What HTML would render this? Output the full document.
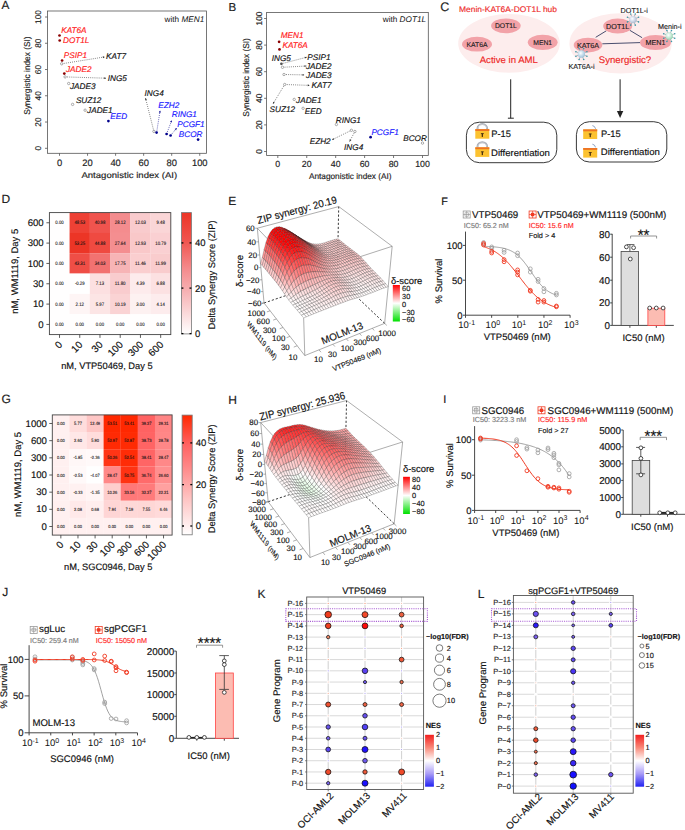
<!DOCTYPE html>
<html><head><meta charset="utf-8"><style>
html,body{margin:0;padding:0;background:#fff;}
svg{display:block;}
text{font-family:"Liberation Sans", sans-serif;text-rendering:geometricPrecision;}
</style></head><body>
<svg width="685" height="830" viewBox="0 0 685 830">
<rect width="685" height="830" fill="#fff"/>
<text x="1.6" y="8.9" font-size="11.8" text-anchor="start" fill="#222" stroke="#222" stroke-width="0.16">A</text>
<rect x="47.5" y="11" width="159" height="142.3" fill="none" stroke="#555" stroke-width="0.8"/>
<line x1="45" y1="148.3" x2="47.5" y2="148.3" stroke="#555" stroke-width="0.8"/>
<text transform="translate(41.4,148.3) rotate(-90)" font-size="8.3" text-anchor="middle" fill="#222" stroke="#222" stroke-width="0.149">0</text>
<line x1="59.5" y1="153.3" x2="59.5" y2="155.8" stroke="#555" stroke-width="0.8"/>
<text x="59.5" y="166.2" font-size="9.4" text-anchor="middle" fill="#222" stroke="#222" stroke-width="0.16">0</text>
<line x1="45" y1="122.04" x2="47.5" y2="122.04" stroke="#555" stroke-width="0.8"/>
<text transform="translate(41.4,122.04) rotate(-90)" font-size="8.3" text-anchor="middle" fill="#222" stroke="#222" stroke-width="0.149">20</text>
<line x1="87.55" y1="153.3" x2="87.55" y2="155.8" stroke="#555" stroke-width="0.8"/>
<text x="87.55" y="166.2" font-size="9.4" text-anchor="middle" fill="#222" stroke="#222" stroke-width="0.16">20</text>
<line x1="45" y1="95.78" x2="47.5" y2="95.78" stroke="#555" stroke-width="0.8"/>
<text transform="translate(41.4,95.78) rotate(-90)" font-size="8.3" text-anchor="middle" fill="#222" stroke="#222" stroke-width="0.149">40</text>
<line x1="115.6" y1="153.3" x2="115.6" y2="155.8" stroke="#555" stroke-width="0.8"/>
<text x="115.6" y="166.2" font-size="9.4" text-anchor="middle" fill="#222" stroke="#222" stroke-width="0.16">40</text>
<line x1="45" y1="69.52" x2="47.5" y2="69.52" stroke="#555" stroke-width="0.8"/>
<text transform="translate(41.4,69.52) rotate(-90)" font-size="8.3" text-anchor="middle" fill="#222" stroke="#222" stroke-width="0.149">60</text>
<line x1="143.65" y1="153.3" x2="143.65" y2="155.8" stroke="#555" stroke-width="0.8"/>
<text x="143.65" y="166.2" font-size="9.4" text-anchor="middle" fill="#222" stroke="#222" stroke-width="0.16">60</text>
<line x1="45" y1="43.26" x2="47.5" y2="43.26" stroke="#555" stroke-width="0.8"/>
<text transform="translate(41.4,43.26) rotate(-90)" font-size="8.3" text-anchor="middle" fill="#222" stroke="#222" stroke-width="0.149">80</text>
<line x1="171.7" y1="153.3" x2="171.7" y2="155.8" stroke="#555" stroke-width="0.8"/>
<text x="171.7" y="166.2" font-size="9.4" text-anchor="middle" fill="#222" stroke="#222" stroke-width="0.16">80</text>
<line x1="45" y1="17" x2="47.5" y2="17" stroke="#555" stroke-width="0.8"/>
<text transform="translate(41.4,17) rotate(-90)" font-size="8.3" text-anchor="middle" fill="#222" stroke="#222" stroke-width="0.149">100</text>
<line x1="199.75" y1="153.3" x2="199.75" y2="155.8" stroke="#555" stroke-width="0.8"/>
<text x="199.75" y="166.2" font-size="9.4" text-anchor="middle" fill="#222" stroke="#222" stroke-width="0.16">100</text>
<text x="129.3" y="178.4" font-size="8.4" text-anchor="middle" fill="#222" stroke="#222" stroke-width="0.151" textLength="95.8" lengthAdjust="spacingAndGlyphs">Antagonistic index (AI)</text>
<text transform="translate(29.5,75.65) rotate(-90)" font-size="8.5" text-anchor="middle" fill="#222" stroke="#222" stroke-width="0.153" textLength="78.4" lengthAdjust="spacingAndGlyphs">Synergistic index (SI)</text>
<text x="204.2" y="22.2" font-size="8.2" text-anchor="end" fill="#111">with <tspan font-style="italic">MEN1</tspan></text>
<line x1="61.7" y1="63.8" x2="104.8" y2="56.9" stroke="#333" stroke-width="0.65" stroke-dasharray="0.9,1.2"/>
<path d="M104.8,56.9 L102.995,58.158 L102.693,56.268 Z" fill="#333" stroke="none" stroke-width="1"/>
<line x1="65.1" y1="76.9" x2="106.1" y2="78.2" stroke="#333" stroke-width="0.65" stroke-dasharray="0.9,1.2"/>
<path d="M106.1,78.2 L104.09,79.094 L104.15,77.181 Z" fill="#333" stroke="none" stroke-width="1"/>
<line x1="153.9" y1="131.4" x2="145.5" y2="98.1" stroke="#333" stroke-width="0.65" stroke-dasharray="0.9,1.2"/>
<path d="M145.5,98.1 L146.912,99.787 L145.057,100.255 Z" fill="#333" stroke="none" stroke-width="1"/>
<line x1="156.6" y1="132.6" x2="160.1" y2="110.6" stroke="#00008b" stroke-width="0.65" stroke-dasharray="0.9,1.2"/>
<path d="M160.1,110.6 L160.734,112.707 L158.844,112.406 Z" fill="#00008b" stroke="none" stroke-width="1"/>
<line x1="166.6" y1="134" x2="171.7" y2="120.3" stroke="#00008b" stroke-width="0.65" stroke-dasharray="0.9,1.2"/>
<path d="M171.7,120.3 L171.906,122.49 L170.112,121.823 Z" fill="#00008b" stroke="none" stroke-width="1"/>
<line x1="170.6" y1="135.5" x2="176.7" y2="128.1" stroke="#00008b" stroke-width="0.65" stroke-dasharray="0.9,1.2"/>
<path d="M176.7,128.1 L176.178,130.237 L174.702,129.02 Z" fill="#00008b" stroke="none" stroke-width="1"/>
<circle cx="59.5" cy="35.5" r="1.35" fill="#8b0000" stroke="none" stroke-width="1"/>
<circle cx="59.7" cy="40.5" r="1.35" fill="#8b0000" stroke="none" stroke-width="1"/>
<circle cx="62.1" cy="60.5" r="1.35" fill="#8b0000" stroke="none" stroke-width="1"/>
<circle cx="61.7" cy="63.8" r="1.2" fill="#fff" stroke="#777" stroke-width="0.6"/>
<circle cx="64.3" cy="73.6" r="1.35" fill="#8b0000" stroke="none" stroke-width="1"/>
<circle cx="65.1" cy="76.9" r="1.2" fill="#fff" stroke="#777" stroke-width="0.6"/>
<circle cx="68.7" cy="83.5" r="1.2" fill="#fff" stroke="#777" stroke-width="0.6"/>
<circle cx="72.6" cy="104.4" r="1.2" fill="#fff" stroke="#777" stroke-width="0.6"/>
<circle cx="85.1" cy="110.2" r="1.2" fill="#fff" stroke="#777" stroke-width="0.6"/>
<circle cx="108.4" cy="121.1" r="1.35" fill="#00008b" stroke="none" stroke-width="1"/>
<circle cx="153.9" cy="131.4" r="1.2" fill="#fff" stroke="#777" stroke-width="0.6"/>
<circle cx="156.6" cy="132.6" r="1.35" fill="#00008b" stroke="none" stroke-width="1"/>
<circle cx="166.6" cy="134" r="1.35" fill="#00008b" stroke="none" stroke-width="1"/>
<circle cx="170.6" cy="135.5" r="1.35" fill="#00008b" stroke="none" stroke-width="1"/>
<circle cx="198.1" cy="139.6" r="1.35" fill="#00008b" stroke="none" stroke-width="1"/>
<text x="61.2" y="32.9" font-size="8.2" text-anchor="start" fill="#ff1a1a" stroke="#ff1a1a" stroke-width="0.148" font-style="italic">KAT6A</text>
<text x="63" y="42.7" font-size="8.2" text-anchor="start" fill="#ff1a1a" stroke="#ff1a1a" stroke-width="0.148" font-style="italic">DOT1L</text>
<text x="63.8" y="57.6" font-size="8.2" text-anchor="start" fill="#ff1a1a" stroke="#ff1a1a" stroke-width="0.148" font-style="italic">PSIP1</text>
<text x="106.1" y="59.4" font-size="8.2" text-anchor="start" fill="#111" stroke="#111" stroke-width="0.148" font-style="italic">KAT7</text>
<text x="66" y="72" font-size="8.2" text-anchor="start" fill="#ff1a1a" stroke="#ff1a1a" stroke-width="0.148" font-style="italic">JADE2</text>
<text x="107.7" y="80.8" font-size="8.2" text-anchor="start" fill="#111" stroke="#111" stroke-width="0.148" font-style="italic">ING5</text>
<text x="70" y="88.7" font-size="8.2" text-anchor="start" fill="#111" stroke="#111" stroke-width="0.148" font-style="italic">JADE3</text>
<text x="75.9" y="103.4" font-size="8.2" text-anchor="start" fill="#111" stroke="#111" stroke-width="0.148" font-style="italic">SUZ12</text>
<text x="87.1" y="112.6" font-size="8.2" text-anchor="start" fill="#111" stroke="#111" stroke-width="0.148" font-style="italic">JADE1</text>
<text x="110.3" y="119.4" font-size="8.2" text-anchor="start" fill="#1a1aff" stroke="#1a1aff" stroke-width="0.148" font-style="italic">EED</text>
<text x="144.6" y="96.4" font-size="8.2" text-anchor="start" fill="#111" stroke="#111" stroke-width="0.148" font-style="italic">ING4</text>
<text x="158.3" y="107.7" font-size="8.2" text-anchor="start" fill="#1a1aff" stroke="#1a1aff" stroke-width="0.148" font-style="italic">EZH2</text>
<text x="171.8" y="117.4" font-size="8.2" text-anchor="start" fill="#1a1aff" stroke="#1a1aff" stroke-width="0.148" font-style="italic">RING1</text>
<text x="177.3" y="126.5" font-size="8.2" text-anchor="start" fill="#1a1aff" stroke="#1a1aff" stroke-width="0.148" font-style="italic">PCGF1</text>
<text x="178.8" y="137.2" font-size="8.2" text-anchor="start" fill="#1a1aff" stroke="#1a1aff" stroke-width="0.148" font-style="italic">BCOR</text>
<text x="228.4" y="10.9" font-size="11.6" text-anchor="start" fill="#222" stroke="#222" stroke-width="0.16">B</text>
<rect x="266.6" y="12.4" width="161.7" height="143.1" fill="none" stroke="#555" stroke-width="0.8"/>
<line x1="264.1" y1="151.5" x2="266.6" y2="151.5" stroke="#555" stroke-width="0.8"/>
<text transform="translate(261.9,151.5) rotate(-90)" font-size="8.4" text-anchor="middle" fill="#222" stroke="#222" stroke-width="0.151">0</text>
<line x1="277.8" y1="155.5" x2="277.8" y2="158" stroke="#555" stroke-width="0.8"/>
<text x="277.8" y="166.8" font-size="8.8" text-anchor="middle" fill="#222" stroke="#222" stroke-width="0.158">0</text>
<line x1="264.1" y1="124.9" x2="266.6" y2="124.9" stroke="#555" stroke-width="0.8"/>
<text transform="translate(261.9,124.9) rotate(-90)" font-size="8.4" text-anchor="middle" fill="#222" stroke="#222" stroke-width="0.151">20</text>
<line x1="306.74" y1="155.5" x2="306.74" y2="158" stroke="#555" stroke-width="0.8"/>
<text x="306.74" y="166.8" font-size="8.8" text-anchor="middle" fill="#222" stroke="#222" stroke-width="0.158">20</text>
<line x1="264.1" y1="98.3" x2="266.6" y2="98.3" stroke="#555" stroke-width="0.8"/>
<text transform="translate(261.9,98.3) rotate(-90)" font-size="8.4" text-anchor="middle" fill="#222" stroke="#222" stroke-width="0.151">40</text>
<line x1="335.68" y1="155.5" x2="335.68" y2="158" stroke="#555" stroke-width="0.8"/>
<text x="335.68" y="166.8" font-size="8.8" text-anchor="middle" fill="#222" stroke="#222" stroke-width="0.158">40</text>
<line x1="264.1" y1="71.7" x2="266.6" y2="71.7" stroke="#555" stroke-width="0.8"/>
<text transform="translate(261.9,71.7) rotate(-90)" font-size="8.4" text-anchor="middle" fill="#222" stroke="#222" stroke-width="0.151">60</text>
<line x1="364.62" y1="155.5" x2="364.62" y2="158" stroke="#555" stroke-width="0.8"/>
<text x="364.62" y="166.8" font-size="8.8" text-anchor="middle" fill="#222" stroke="#222" stroke-width="0.158">60</text>
<line x1="264.1" y1="45.1" x2="266.6" y2="45.1" stroke="#555" stroke-width="0.8"/>
<text transform="translate(261.9,45.1) rotate(-90)" font-size="8.4" text-anchor="middle" fill="#222" stroke="#222" stroke-width="0.151">80</text>
<line x1="393.56" y1="155.5" x2="393.56" y2="158" stroke="#555" stroke-width="0.8"/>
<text x="393.56" y="166.8" font-size="8.8" text-anchor="middle" fill="#222" stroke="#222" stroke-width="0.158">80</text>
<line x1="264.1" y1="18.5" x2="266.6" y2="18.5" stroke="#555" stroke-width="0.8"/>
<text transform="translate(261.9,18.5) rotate(-90)" font-size="8.4" text-anchor="middle" fill="#222" stroke="#222" stroke-width="0.151">100</text>
<line x1="422.5" y1="155.5" x2="422.5" y2="158" stroke="#555" stroke-width="0.8"/>
<text x="422.5" y="166.8" font-size="8.8" text-anchor="middle" fill="#222" stroke="#222" stroke-width="0.158">100</text>
<text x="350.25" y="178.7" font-size="8.3" text-anchor="middle" fill="#222" stroke="#222" stroke-width="0.149" textLength="82.7" lengthAdjust="spacingAndGlyphs">Antagonistic index (AI)</text>
<text transform="translate(249,77.45) rotate(-90)" font-size="8.5" text-anchor="middle" fill="#222" stroke="#222" stroke-width="0.153" textLength="78.4" lengthAdjust="spacingAndGlyphs">Synergistic index (SI)</text>
<text x="426" y="22.2" font-size="8.2" text-anchor="end" fill="#111">with <tspan font-style="italic">DOT1L</tspan></text>
<line x1="281.4" y1="63.8" x2="306.8" y2="57.2" stroke="#333" stroke-width="0.65" stroke-dasharray="0.9,1.2"/>
<path d="M306.8,57.2 L305.123,58.624 L304.642,56.772 Z" fill="#333" stroke="none" stroke-width="1"/>
<line x1="282.5" y1="67.3" x2="306.4" y2="66" stroke="#333" stroke-width="0.65" stroke-dasharray="0.9,1.2"/>
<path d="M306.4,66 L304.474,67.063 L304.37,65.152 Z" fill="#333" stroke="none" stroke-width="1"/>
<line x1="284" y1="74.5" x2="304.4" y2="74.9" stroke="#333" stroke-width="0.65" stroke-dasharray="0.9,1.2"/>
<path d="M304.4,74.9 L302.401,75.818 L302.438,73.904 Z" fill="#333" stroke="none" stroke-width="1"/>
<line x1="284.7" y1="84.5" x2="309.7" y2="85.4" stroke="#333" stroke-width="0.65" stroke-dasharray="0.9,1.2"/>
<path d="M309.7,85.4 L307.686,86.285 L307.755,84.372 Z" fill="#333" stroke="none" stroke-width="1"/>
<line x1="284.7" y1="84.5" x2="272.9" y2="104" stroke="#333" stroke-width="0.65" stroke-dasharray="0.9,1.2"/>
<path d="M272.9,104 L273.107,101.81 L274.744,102.801 Z" fill="#333" stroke="none" stroke-width="1"/>
<line x1="351.4" y1="130.3" x2="332" y2="139.8" stroke="#333" stroke-width="0.65" stroke-dasharray="0.9,1.2"/>
<path d="M332,139.8 L333.358,138.069 L334.2,139.788 Z" fill="#333" stroke="none" stroke-width="1"/>
<line x1="354.9" y1="131.5" x2="349.6" y2="141.5" stroke="#333" stroke-width="0.65" stroke-dasharray="0.9,1.2"/>
<path d="M349.6,141.5 L349.682,139.302 L351.373,140.198 Z" fill="#333" stroke="none" stroke-width="1"/>
<circle cx="279.1" cy="41.8" r="1.35" fill="#8b0000" stroke="none" stroke-width="1"/>
<circle cx="279.5" cy="49.4" r="1.35" fill="#8b0000" stroke="none" stroke-width="1"/>
<circle cx="281.4" cy="63.8" r="1.35" fill="#555" stroke="none" stroke-width="1"/>
<circle cx="282.5" cy="67.3" r="1.2" fill="#fff" stroke="#777" stroke-width="0.6"/>
<circle cx="284" cy="74.5" r="1.2" fill="#fff" stroke="#777" stroke-width="0.6"/>
<circle cx="284.7" cy="84.5" r="1.2" fill="#fff" stroke="#777" stroke-width="0.6"/>
<circle cx="294.2" cy="99.4" r="1.2" fill="#fff" stroke="#777" stroke-width="0.6"/>
<circle cx="303.1" cy="108.3" r="1.2" fill="#fff" stroke="#777" stroke-width="0.6"/>
<circle cx="336.4" cy="124.5" r="1.2" fill="#fff" stroke="#777" stroke-width="0.6"/>
<circle cx="351.4" cy="130.3" r="1.2" fill="#fff" stroke="#777" stroke-width="0.6"/>
<circle cx="354.9" cy="131.5" r="1.2" fill="#fff" stroke="#777" stroke-width="0.6"/>
<circle cx="422.5" cy="143.1" r="1.2" fill="#fff" stroke="#777" stroke-width="0.6"/>
<circle cx="370.6" cy="137.2" r="1.35" fill="#00008b" stroke="none" stroke-width="1"/>
<text x="280.8" y="37.5" font-size="8.2" text-anchor="start" fill="#ff1a1a" stroke="#ff1a1a" stroke-width="0.148" font-style="italic">MEN1</text>
<text x="282.5" y="47.6" font-size="8.2" text-anchor="start" fill="#ff1a1a" stroke="#ff1a1a" stroke-width="0.148" font-style="italic">KAT6A</text>
<text x="271.8" y="60.7" font-size="8.2" text-anchor="start" fill="#111" stroke="#111" stroke-width="0.148" font-style="italic">ING5</text>
<text x="307.3" y="59.8" font-size="8.2" text-anchor="start" fill="#111" stroke="#111" stroke-width="0.148" font-style="italic">PSIP1</text>
<text x="306" y="68.8" font-size="8.2" text-anchor="start" fill="#111" stroke="#111" stroke-width="0.148" font-style="italic">JADE2</text>
<text x="306.1" y="77.6" font-size="8.2" text-anchor="start" fill="#111" stroke="#111" stroke-width="0.148" font-style="italic">JADE3</text>
<text x="311.6" y="88.3" font-size="8.2" text-anchor="start" fill="#111" stroke="#111" stroke-width="0.148" font-style="italic">KAT7</text>
<text x="269.6" y="112.2" font-size="8.2" text-anchor="start" fill="#111" stroke="#111" stroke-width="0.148" font-style="italic">SUZ12</text>
<text x="296.1" y="103.4" font-size="8.2" text-anchor="start" fill="#111" stroke="#111" stroke-width="0.148" font-style="italic">JADE1</text>
<text x="304.8" y="114.4" font-size="8.2" text-anchor="start" fill="#111" stroke="#111" stroke-width="0.148" font-style="italic">EED</text>
<text x="335.8" y="122.6" font-size="8.2" text-anchor="start" fill="#111" stroke="#111" stroke-width="0.148" font-style="italic">RING1</text>
<text x="309.7" y="143.7" font-size="8.2" text-anchor="start" fill="#111" stroke="#111" stroke-width="0.148" font-style="italic">EZH2</text>
<text x="344.1" y="149.5" font-size="8.2" text-anchor="start" fill="#111" stroke="#111" stroke-width="0.148" font-style="italic">ING4</text>
<text x="371.4" y="135.1" font-size="8.2" text-anchor="start" fill="#1a1aff" stroke="#1a1aff" stroke-width="0.148" font-style="italic">PCGF1</text>
<text x="403.2" y="140.7" font-size="8.2" text-anchor="start" fill="#111" stroke="#111" stroke-width="0.148" font-style="italic">BCOR</text>
<text x="440.3" y="11.2" font-size="12.5" text-anchor="start" fill="#222" stroke="#222" stroke-width="0.16">C</text>
<text x="459" y="11.9" font-size="8.1" text-anchor="start" fill="#ee2a2a" stroke="#ee2a2a" stroke-width="0.146" textLength="98" lengthAdjust="spacingAndGlyphs">Menin-KAT6A-DOT1L hub</text>
<ellipse cx="509" cy="43.4" rx="50.8" ry="29.3" fill="#fdeded"/>
<ellipse cx="620.6" cy="43.4" rx="51.2" ry="30.2" fill="#fdeded"/>
<ellipse cx="505.9" cy="25.8" rx="14.8" ry="7.4" fill="#f2a2a8"/>
<text x="505.9" y="28.248" font-size="6.8" text-anchor="middle" fill="#1a1a1a" stroke="#1a1a1a" stroke-width="0.122">DOT1L</text>
<ellipse cx="477" cy="44.2" rx="15" ry="7.4" fill="#f2a2a8"/>
<text x="477" y="46.648" font-size="6.8" text-anchor="middle" fill="#1a1a1a" stroke="#1a1a1a" stroke-width="0.122">KAT6A</text>
<ellipse cx="542.7" cy="42.3" rx="14.9" ry="7.6" fill="#f2a2a8"/>
<text x="542.7" y="44.748" font-size="6.8" text-anchor="middle" fill="#1a1a1a" stroke="#1a1a1a" stroke-width="0.122">MEN1</text>
<text x="508.8" y="63.1" font-size="9.3" text-anchor="middle" fill="#ee2a2a" stroke="#ee2a2a" stroke-width="0.16" textLength="58.2" lengthAdjust="spacingAndGlyphs">Active in AML</text>
<line x1="595.7" y1="37.3" x2="606.5" y2="30.7" stroke="#4a4e6e" stroke-width="1"/>
<line x1="629.8" y1="30.3" x2="642.1" y2="37.7" stroke="#4a4e6e" stroke-width="1"/>
<line x1="602.3" y1="43.8" x2="640" y2="42.6" stroke="#4a4e6e" stroke-width="1"/>
<ellipse cx="617.7" cy="26" rx="14.5" ry="7.6" fill="#f2a2a8"/>
<text x="617.7" y="28.592" font-size="7.2" text-anchor="middle" fill="#1a1a1a" stroke="#1a1a1a" stroke-width="0.13">DOT1L</text>
<ellipse cx="588" cy="45.1" rx="14.3" ry="7.4" fill="#f2a2a8"/>
<text x="588" y="47.692" font-size="7.2" text-anchor="middle" fill="#1a1a1a" stroke="#1a1a1a" stroke-width="0.13">KAT6A</text>
<ellipse cx="655.5" cy="42.5" rx="15.5" ry="7.5" fill="#f2a2a8"/>
<text x="655.5" y="45.092" font-size="7.2" text-anchor="middle" fill="#1a1a1a" stroke="#1a1a1a" stroke-width="0.13">MEN1</text>
<defs><radialGradient id="g6330" cx="0.4" cy="0.38" r="0.65"><stop offset="0" stop-color="#ffffff"/><stop offset="0.45" stop-color="#d8e0ee"/><stop offset="1" stop-color="#a9b8cc"/></radialGradient></defs>
<line x1="635.956" y1="20.825" x2="638.543" y2="21.896" stroke="#8a9aa0" stroke-width="0.7"/>
<circle cx="638.543" cy="21.896" r="0.8" fill="#3a9aaa" stroke="none" stroke-width="1"/>
<line x1="634.225" y1="22.556" x2="635.296" y2="25.143" stroke="#8a9aa0" stroke-width="0.7"/>
<circle cx="635.296" cy="25.143" r="0.8" fill="#3a9aaa" stroke="none" stroke-width="1"/>
<line x1="631.775" y1="22.556" x2="630.704" y2="25.143" stroke="#8a9aa0" stroke-width="0.7"/>
<circle cx="630.704" cy="25.143" r="0.8" fill="#3a9aaa" stroke="none" stroke-width="1"/>
<line x1="630.044" y1="20.825" x2="627.457" y2="21.896" stroke="#8a9aa0" stroke-width="0.7"/>
<circle cx="627.457" cy="21.896" r="0.8" fill="#3a9aaa" stroke="none" stroke-width="1"/>
<line x1="630.044" y1="18.375" x2="627.457" y2="17.304" stroke="#8a9aa0" stroke-width="0.7"/>
<circle cx="627.457" cy="17.304" r="0.8" fill="#3a9aaa" stroke="none" stroke-width="1"/>
<line x1="631.775" y1="16.644" x2="630.704" y2="14.057" stroke="#8a9aa0" stroke-width="0.7"/>
<circle cx="630.704" cy="14.057" r="0.8" fill="#3a9aaa" stroke="none" stroke-width="1"/>
<line x1="634.225" y1="16.644" x2="635.296" y2="14.057" stroke="#8a9aa0" stroke-width="0.7"/>
<circle cx="635.296" cy="14.057" r="0.8" fill="#3a9aaa" stroke="none" stroke-width="1"/>
<line x1="635.956" y1="18.375" x2="638.543" y2="17.304" stroke="#8a9aa0" stroke-width="0.7"/>
<circle cx="638.543" cy="17.304" r="0.8" fill="#3a9aaa" stroke="none" stroke-width="1"/>
<circle cx="633" cy="19.6" r="3.7" fill="url(#g6330)" stroke="none" stroke-width="1"/>
<defs><radialGradient id="g6692" cx="0.4" cy="0.38" r="0.65"><stop offset="0" stop-color="#ffffff"/><stop offset="0.45" stop-color="#d2efe0"/><stop offset="1" stop-color="#92d2b0"/></radialGradient></defs>
<line x1="672.156" y1="37.225" x2="674.743" y2="38.296" stroke="#8a9aa0" stroke-width="0.7"/>
<circle cx="674.743" cy="38.296" r="0.8" fill="#3a9aaa" stroke="none" stroke-width="1"/>
<line x1="670.425" y1="38.956" x2="671.496" y2="41.543" stroke="#8a9aa0" stroke-width="0.7"/>
<circle cx="671.496" cy="41.543" r="0.8" fill="#3a9aaa" stroke="none" stroke-width="1"/>
<line x1="667.975" y1="38.956" x2="666.904" y2="41.543" stroke="#8a9aa0" stroke-width="0.7"/>
<circle cx="666.904" cy="41.543" r="0.8" fill="#3a9aaa" stroke="none" stroke-width="1"/>
<line x1="666.244" y1="37.225" x2="663.657" y2="38.296" stroke="#8a9aa0" stroke-width="0.7"/>
<circle cx="663.657" cy="38.296" r="0.8" fill="#3a9aaa" stroke="none" stroke-width="1"/>
<line x1="666.244" y1="34.775" x2="663.657" y2="33.704" stroke="#8a9aa0" stroke-width="0.7"/>
<circle cx="663.657" cy="33.704" r="0.8" fill="#3a9aaa" stroke="none" stroke-width="1"/>
<line x1="667.975" y1="33.044" x2="666.904" y2="30.457" stroke="#8a9aa0" stroke-width="0.7"/>
<circle cx="666.904" cy="30.457" r="0.8" fill="#3a9aaa" stroke="none" stroke-width="1"/>
<line x1="670.425" y1="33.044" x2="671.496" y2="30.457" stroke="#8a9aa0" stroke-width="0.7"/>
<circle cx="671.496" cy="30.457" r="0.8" fill="#3a9aaa" stroke="none" stroke-width="1"/>
<line x1="672.156" y1="34.775" x2="674.743" y2="33.704" stroke="#8a9aa0" stroke-width="0.7"/>
<circle cx="674.743" cy="33.704" r="0.8" fill="#3a9aaa" stroke="none" stroke-width="1"/>
<circle cx="669.2" cy="36" r="3.7" fill="url(#g6692)" stroke="none" stroke-width="1"/>
<defs><radialGradient id="g5814" cx="0.4" cy="0.38" r="0.65"><stop offset="0" stop-color="#ffffff"/><stop offset="0.45" stop-color="#cfe2ef"/><stop offset="1" stop-color="#9cc0da"/></radialGradient></defs>
<line x1="584.356" y1="55.225" x2="586.943" y2="56.296" stroke="#8a9aa0" stroke-width="0.7"/>
<circle cx="586.943" cy="56.296" r="0.8" fill="#3a9aaa" stroke="none" stroke-width="1"/>
<line x1="582.625" y1="56.956" x2="583.696" y2="59.543" stroke="#8a9aa0" stroke-width="0.7"/>
<circle cx="583.696" cy="59.543" r="0.8" fill="#3a9aaa" stroke="none" stroke-width="1"/>
<line x1="580.175" y1="56.956" x2="579.104" y2="59.543" stroke="#8a9aa0" stroke-width="0.7"/>
<circle cx="579.104" cy="59.543" r="0.8" fill="#3a9aaa" stroke="none" stroke-width="1"/>
<line x1="578.444" y1="55.225" x2="575.857" y2="56.296" stroke="#8a9aa0" stroke-width="0.7"/>
<circle cx="575.857" cy="56.296" r="0.8" fill="#3a9aaa" stroke="none" stroke-width="1"/>
<line x1="578.444" y1="52.775" x2="575.857" y2="51.704" stroke="#8a9aa0" stroke-width="0.7"/>
<circle cx="575.857" cy="51.704" r="0.8" fill="#3a9aaa" stroke="none" stroke-width="1"/>
<line x1="580.175" y1="51.044" x2="579.104" y2="48.457" stroke="#8a9aa0" stroke-width="0.7"/>
<circle cx="579.104" cy="48.457" r="0.8" fill="#3a9aaa" stroke="none" stroke-width="1"/>
<line x1="582.625" y1="51.044" x2="583.696" y2="48.457" stroke="#8a9aa0" stroke-width="0.7"/>
<circle cx="583.696" cy="48.457" r="0.8" fill="#3a9aaa" stroke="none" stroke-width="1"/>
<line x1="584.356" y1="52.775" x2="586.943" y2="51.704" stroke="#8a9aa0" stroke-width="0.7"/>
<circle cx="586.943" cy="51.704" r="0.8" fill="#3a9aaa" stroke="none" stroke-width="1"/>
<circle cx="581.4" cy="54" r="3.7" fill="url(#g5814)" stroke="none" stroke-width="1"/>
<text x="634.2" y="13.1" font-size="7.2" text-anchor="middle" fill="#222" stroke="#222" stroke-width="0.13">DOT1L-i</text>
<text x="669.7" y="28.9" font-size="7.2" text-anchor="middle" fill="#222" stroke="#222" stroke-width="0.13">Menin-i</text>
<text x="581.5" y="68.7" font-size="7.2" text-anchor="middle" fill="#222" stroke="#222" stroke-width="0.13">KAT6A-i</text>
<text x="625" y="62.7" font-size="9.5" text-anchor="middle" fill="#ee2a2a" stroke="#ee2a2a" stroke-width="0.16" textLength="52.4" lengthAdjust="spacingAndGlyphs">Synergistic?</text>
<line x1="510.7" y1="79.3" x2="510.7" y2="118.2" stroke="#222" stroke-width="1"/>
<line x1="507.9" y1="118.2" x2="513.8" y2="118.2" stroke="#222" stroke-width="1"/>
<line x1="620.1" y1="79.3" x2="620.1" y2="112" stroke="#222" stroke-width="1"/>
<path d="M616.9,111 L623.3,111 L620.1,118 Z" fill="#222" stroke="none" stroke-width="1"/>
<rect x="466.4" y="122.2" width="90.4" height="40.5" fill="none" stroke="#222" stroke-width="0.9" rx="13" ry="13"/>
<rect x="576.4" y="121.7" width="90.4" height="40.3" fill="none" stroke="#222" stroke-width="0.9" rx="13" ry="13"/>
<path d="M477.5,129.6 L477.5,128.5 A4.8,4.4 0 0 1 487.1,128.5 L487.1,129.6" fill="none" stroke="#a9adb5" stroke-width="2"/>
<path d="M477.9,129.1 L477.9,128.5 A4.4,4.0 0 0 1 486.7,128.5" fill="none" stroke="#e6e8ec" stroke-width="0.5"/>
<rect x="475.3" y="129.1" width="14" height="9.6" fill="#fcc230" stroke="none" stroke-width="1"/>
<rect x="475.3" y="129.1" width="14" height="1.9" fill="#ee7424" stroke="none" stroke-width="1"/>
<rect x="481.7" y="133.5" width="1.3" height="3.4" fill="#4a3210" stroke="none" stroke-width="1"/>
<rect x="480.9" y="133.2" width="2.9" height="0.9" fill="#4a3210" stroke="none" stroke-width="1"/>
<path d="M477.5,147.8 L477.5,146.7 A4.8,4.4 0 0 1 487.1,146.7 L487.1,147.8" fill="none" stroke="#a9adb5" stroke-width="2"/>
<path d="M477.9,147.3 L477.9,146.7 A4.4,4.0 0 0 1 486.7,146.7" fill="none" stroke="#e6e8ec" stroke-width="0.5"/>
<rect x="475.3" y="147.3" width="14" height="9.6" fill="#fcc230" stroke="none" stroke-width="1"/>
<rect x="475.3" y="147.3" width="14" height="1.9" fill="#ee7424" stroke="none" stroke-width="1"/>
<rect x="481.7" y="151.7" width="1.3" height="3.4" fill="#4a3210" stroke="none" stroke-width="1"/>
<rect x="480.9" y="151.4" width="2.9" height="0.9" fill="#4a3210" stroke="none" stroke-width="1"/>
<path d="M592.4,125.6 Q594.8,125.8 595.6,128.8" fill="none" stroke="#8fa4c4" stroke-width="1"/>
<rect x="583.2" y="129.4" width="14" height="9.6" fill="#fcc230" stroke="none" stroke-width="1"/>
<rect x="583.2" y="129.4" width="14" height="1.9" fill="#ee7424" stroke="none" stroke-width="1"/>
<rect x="589.6" y="133.8" width="1.3" height="3.4" fill="#4a3210" stroke="none" stroke-width="1"/>
<rect x="588.8" y="133.5" width="2.9" height="0.9" fill="#4a3210" stroke="none" stroke-width="1"/>
<path d="M592.4,144.2 Q594.8,144.4 595.6,147.4" fill="none" stroke="#8fa4c4" stroke-width="1"/>
<rect x="583.2" y="148" width="14" height="9.6" fill="#fcc230" stroke="none" stroke-width="1"/>
<rect x="583.2" y="148" width="14" height="1.9" fill="#ee7424" stroke="none" stroke-width="1"/>
<rect x="589.6" y="152.4" width="1.3" height="3.4" fill="#4a3210" stroke="none" stroke-width="1"/>
<rect x="588.8" y="152.1" width="2.9" height="0.9" fill="#4a3210" stroke="none" stroke-width="1"/>
<text x="491.3" y="137.4" font-size="9.3" text-anchor="start" fill="#111" stroke="#111" stroke-width="0.16">P-15</text>
<text x="491" y="155.9" font-size="9.3" text-anchor="start" fill="#111" stroke="#111" stroke-width="0.16" textLength="58.9" lengthAdjust="spacingAndGlyphs">Differentiation</text>
<text x="601" y="136.6" font-size="9.3" text-anchor="start" fill="#111" stroke="#111" stroke-width="0.16">P-15</text>
<text x="600.8" y="155.4" font-size="9.3" text-anchor="start" fill="#111" stroke="#111" stroke-width="0.16" textLength="59.1" lengthAdjust="spacingAndGlyphs">Differentiation</text>
<text x="1.5" y="202.8" font-size="12" text-anchor="start" fill="#222" stroke="#222" stroke-width="0.16">D</text>
<rect x="49.35" y="212.55" width="20.333" height="20.433" fill="#fffefe" stroke="none" stroke-width="1"/>
<rect x="69.583" y="212.55" width="20.333" height="20.433" fill="#ee4135" stroke="none" stroke-width="1"/>
<rect x="89.817" y="212.55" width="20.333" height="20.433" fill="#f0544e" stroke="none" stroke-width="1"/>
<rect x="110.05" y="212.55" width="20.333" height="20.433" fill="#f48c8e" stroke="none" stroke-width="1"/>
<rect x="130.283" y="212.55" width="20.333" height="20.433" fill="#f9cbcd" stroke="none" stroke-width="1"/>
<rect x="150.517" y="212.55" width="20.333" height="20.433" fill="#fad6d7" stroke="none" stroke-width="1"/>
<rect x="49.35" y="232.883" width="20.333" height="20.433" fill="#fffefe" stroke="none" stroke-width="1"/>
<rect x="69.583" y="232.883" width="20.333" height="20.433" fill="#ec3526" stroke="none" stroke-width="1"/>
<rect x="89.817" y="232.883" width="20.333" height="20.433" fill="#ef4a41" stroke="none" stroke-width="1"/>
<rect x="110.05" y="232.883" width="20.333" height="20.433" fill="#f48e90" stroke="none" stroke-width="1"/>
<rect x="130.283" y="232.883" width="20.333" height="20.433" fill="#f9c8c9" stroke="none" stroke-width="1"/>
<rect x="150.517" y="232.883" width="20.333" height="20.433" fill="#fad0d2" stroke="none" stroke-width="1"/>
<rect x="49.35" y="253.217" width="20.333" height="20.433" fill="#fffefe" stroke="none" stroke-width="1"/>
<rect x="69.583" y="253.217" width="20.333" height="20.433" fill="#ef4e46" stroke="none" stroke-width="1"/>
<rect x="89.817" y="253.217" width="20.333" height="20.433" fill="#f27271" stroke="none" stroke-width="1"/>
<rect x="110.05" y="253.217" width="20.333" height="20.433" fill="#f7b4b6" stroke="none" stroke-width="1"/>
<rect x="130.283" y="253.217" width="20.333" height="20.433" fill="#facecf" stroke="none" stroke-width="1"/>
<rect x="150.517" y="253.217" width="20.333" height="20.433" fill="#f9cccd" stroke="none" stroke-width="1"/>
<rect x="49.35" y="273.55" width="20.333" height="20.433" fill="#fffefe" stroke="none" stroke-width="1"/>
<rect x="69.583" y="273.55" width="20.333" height="20.433" fill="#ffffff" stroke="none" stroke-width="1"/>
<rect x="89.817" y="273.55" width="20.333" height="20.433" fill="#fce0e1" stroke="none" stroke-width="1"/>
<rect x="110.05" y="273.55" width="20.333" height="20.433" fill="#f9ccce" stroke="none" stroke-width="1"/>
<rect x="130.283" y="273.55" width="20.333" height="20.433" fill="#fdebec" stroke="none" stroke-width="1"/>
<rect x="150.517" y="273.55" width="20.333" height="20.433" fill="#fce1e2" stroke="none" stroke-width="1"/>
<rect x="49.35" y="293.883" width="20.333" height="20.433" fill="#fffefe" stroke="none" stroke-width="1"/>
<rect x="69.583" y="293.883" width="20.333" height="20.433" fill="#fef5f5" stroke="none" stroke-width="1"/>
<rect x="89.817" y="293.883" width="20.333" height="20.433" fill="#fce5e5" stroke="none" stroke-width="1"/>
<rect x="110.05" y="293.883" width="20.333" height="20.433" fill="#fad3d4" stroke="none" stroke-width="1"/>
<rect x="130.283" y="293.883" width="20.333" height="20.433" fill="#fdf1f1" stroke="none" stroke-width="1"/>
<rect x="150.517" y="293.883" width="20.333" height="20.433" fill="#fdeced" stroke="none" stroke-width="1"/>
<rect x="49.35" y="314.217" width="20.333" height="20.433" fill="#fffefe" stroke="none" stroke-width="1"/>
<rect x="69.583" y="314.217" width="20.333" height="20.433" fill="#fffefe" stroke="none" stroke-width="1"/>
<rect x="89.817" y="314.217" width="20.333" height="20.433" fill="#fffefe" stroke="none" stroke-width="1"/>
<rect x="110.05" y="314.217" width="20.333" height="20.433" fill="#fffefe" stroke="none" stroke-width="1"/>
<rect x="130.283" y="314.217" width="20.333" height="20.433" fill="#fffefe" stroke="none" stroke-width="1"/>
<rect x="150.517" y="314.217" width="20.333" height="20.433" fill="#fffefe" stroke="none" stroke-width="1"/>
<text x="59.517" y="224.423" font-size="4.922" text-anchor="middle" fill="#111" stroke="#111" stroke-width="0.089" textLength="8.32" lengthAdjust="spacingAndGlyphs">0.00</text>
<text x="79.75" y="224.423" font-size="4.922" text-anchor="middle" fill="#111" stroke="#111" stroke-width="0.089" textLength="10.70" lengthAdjust="spacingAndGlyphs">48.53</text>
<text x="99.983" y="224.423" font-size="4.922" text-anchor="middle" fill="#111" stroke="#111" stroke-width="0.089" textLength="10.70" lengthAdjust="spacingAndGlyphs">40.98</text>
<text x="120.217" y="224.423" font-size="4.922" text-anchor="middle" fill="#111" stroke="#111" stroke-width="0.089" textLength="10.70" lengthAdjust="spacingAndGlyphs">28.12</text>
<text x="140.45" y="224.423" font-size="4.922" text-anchor="middle" fill="#111" stroke="#111" stroke-width="0.089" textLength="10.70" lengthAdjust="spacingAndGlyphs">12.03</text>
<text x="160.683" y="224.423" font-size="4.922" text-anchor="middle" fill="#111" stroke="#111" stroke-width="0.089" textLength="8.32" lengthAdjust="spacingAndGlyphs">9.48</text>
<text x="59.517" y="244.756" font-size="4.922" text-anchor="middle" fill="#111" stroke="#111" stroke-width="0.089" textLength="8.32" lengthAdjust="spacingAndGlyphs">0.00</text>
<text x="79.75" y="244.756" font-size="4.922" text-anchor="middle" fill="#111" stroke="#111" stroke-width="0.089" textLength="10.70" lengthAdjust="spacingAndGlyphs">53.25</text>
<text x="99.983" y="244.756" font-size="4.922" text-anchor="middle" fill="#111" stroke="#111" stroke-width="0.089" textLength="10.70" lengthAdjust="spacingAndGlyphs">44.88</text>
<text x="120.217" y="244.756" font-size="4.922" text-anchor="middle" fill="#111" stroke="#111" stroke-width="0.089" textLength="10.70" lengthAdjust="spacingAndGlyphs">27.64</text>
<text x="140.45" y="244.756" font-size="4.922" text-anchor="middle" fill="#111" stroke="#111" stroke-width="0.089" textLength="10.70" lengthAdjust="spacingAndGlyphs">12.93</text>
<text x="160.683" y="244.756" font-size="4.922" text-anchor="middle" fill="#111" stroke="#111" stroke-width="0.089" textLength="10.70" lengthAdjust="spacingAndGlyphs">10.79</text>
<text x="59.517" y="265.089" font-size="4.922" text-anchor="middle" fill="#111" stroke="#111" stroke-width="0.089" textLength="8.32" lengthAdjust="spacingAndGlyphs">0.00</text>
<text x="79.75" y="265.089" font-size="4.922" text-anchor="middle" fill="#111" stroke="#111" stroke-width="0.089" textLength="10.70" lengthAdjust="spacingAndGlyphs">43.31</text>
<text x="99.983" y="265.089" font-size="4.922" text-anchor="middle" fill="#111" stroke="#111" stroke-width="0.089" textLength="10.70" lengthAdjust="spacingAndGlyphs">34.03</text>
<text x="120.217" y="265.089" font-size="4.922" text-anchor="middle" fill="#111" stroke="#111" stroke-width="0.089" textLength="10.70" lengthAdjust="spacingAndGlyphs">17.75</text>
<text x="140.45" y="265.089" font-size="4.922" text-anchor="middle" fill="#111" stroke="#111" stroke-width="0.089" textLength="10.70" lengthAdjust="spacingAndGlyphs">11.46</text>
<text x="160.683" y="265.089" font-size="4.922" text-anchor="middle" fill="#111" stroke="#111" stroke-width="0.089" textLength="10.70" lengthAdjust="spacingAndGlyphs">11.99</text>
<text x="59.517" y="285.423" font-size="4.922" text-anchor="middle" fill="#111" stroke="#111" stroke-width="0.089" textLength="8.32" lengthAdjust="spacingAndGlyphs">0.00</text>
<text x="79.75" y="285.423" font-size="4.922" text-anchor="middle" fill="#111" stroke="#111" stroke-width="0.089" textLength="9.75" lengthAdjust="spacingAndGlyphs">-0.29</text>
<text x="99.983" y="285.423" font-size="4.922" text-anchor="middle" fill="#111" stroke="#111" stroke-width="0.089" textLength="8.32" lengthAdjust="spacingAndGlyphs">7.13</text>
<text x="120.217" y="285.423" font-size="4.922" text-anchor="middle" fill="#111" stroke="#111" stroke-width="0.089" textLength="10.70" lengthAdjust="spacingAndGlyphs">11.80</text>
<text x="140.45" y="285.423" font-size="4.922" text-anchor="middle" fill="#111" stroke="#111" stroke-width="0.089" textLength="8.32" lengthAdjust="spacingAndGlyphs">4.39</text>
<text x="160.683" y="285.423" font-size="4.922" text-anchor="middle" fill="#111" stroke="#111" stroke-width="0.089" textLength="8.32" lengthAdjust="spacingAndGlyphs">6.88</text>
<text x="59.517" y="305.756" font-size="4.922" text-anchor="middle" fill="#111" stroke="#111" stroke-width="0.089" textLength="8.32" lengthAdjust="spacingAndGlyphs">0.00</text>
<text x="79.75" y="305.756" font-size="4.922" text-anchor="middle" fill="#111" stroke="#111" stroke-width="0.089" textLength="8.32" lengthAdjust="spacingAndGlyphs">2.12</text>
<text x="99.983" y="305.756" font-size="4.922" text-anchor="middle" fill="#111" stroke="#111" stroke-width="0.089" textLength="8.32" lengthAdjust="spacingAndGlyphs">5.97</text>
<text x="120.217" y="305.756" font-size="4.922" text-anchor="middle" fill="#111" stroke="#111" stroke-width="0.089" textLength="10.70" lengthAdjust="spacingAndGlyphs">10.19</text>
<text x="140.45" y="305.756" font-size="4.922" text-anchor="middle" fill="#111" stroke="#111" stroke-width="0.089" textLength="8.32" lengthAdjust="spacingAndGlyphs">3.00</text>
<text x="160.683" y="305.756" font-size="4.922" text-anchor="middle" fill="#111" stroke="#111" stroke-width="0.089" textLength="8.32" lengthAdjust="spacingAndGlyphs">4.14</text>
<text x="59.517" y="326.089" font-size="4.922" text-anchor="middle" fill="#111" stroke="#111" stroke-width="0.089" textLength="8.32" lengthAdjust="spacingAndGlyphs">0.00</text>
<text x="79.75" y="326.089" font-size="4.922" text-anchor="middle" fill="#111" stroke="#111" stroke-width="0.089" textLength="8.32" lengthAdjust="spacingAndGlyphs">0.00</text>
<text x="99.983" y="326.089" font-size="4.922" text-anchor="middle" fill="#111" stroke="#111" stroke-width="0.089" textLength="8.32" lengthAdjust="spacingAndGlyphs">0.00</text>
<text x="120.217" y="326.089" font-size="4.922" text-anchor="middle" fill="#111" stroke="#111" stroke-width="0.089" textLength="8.32" lengthAdjust="spacingAndGlyphs">0.00</text>
<text x="140.45" y="326.089" font-size="4.922" text-anchor="middle" fill="#111" stroke="#111" stroke-width="0.089" textLength="8.32" lengthAdjust="spacingAndGlyphs">0.00</text>
<text x="160.683" y="326.089" font-size="4.922" text-anchor="middle" fill="#111" stroke="#111" stroke-width="0.089" textLength="8.32" lengthAdjust="spacingAndGlyphs">0.00</text>
<rect x="49.4" y="212.6" width="121.4" height="122" fill="none" stroke="#444" stroke-width="0.9"/>
<line x1="46.4" y1="222.767" x2="49.4" y2="222.767" stroke="#333" stroke-width="0.8"/>
<text x="43.7" y="225.867" font-size="9.6" text-anchor="end" fill="#111" stroke="#111" stroke-width="0.16">600</text>
<line x1="46.4" y1="243.1" x2="49.4" y2="243.1" stroke="#333" stroke-width="0.8"/>
<text x="43.7" y="246.2" font-size="9.6" text-anchor="end" fill="#111" stroke="#111" stroke-width="0.16">300</text>
<line x1="46.4" y1="263.433" x2="49.4" y2="263.433" stroke="#333" stroke-width="0.8"/>
<text x="43.7" y="266.533" font-size="9.6" text-anchor="end" fill="#111" stroke="#111" stroke-width="0.16">100</text>
<line x1="46.4" y1="283.767" x2="49.4" y2="283.767" stroke="#333" stroke-width="0.8"/>
<text x="43.7" y="286.867" font-size="9.6" text-anchor="end" fill="#111" stroke="#111" stroke-width="0.16">30</text>
<line x1="46.4" y1="304.1" x2="49.4" y2="304.1" stroke="#333" stroke-width="0.8"/>
<text x="43.7" y="307.2" font-size="9.6" text-anchor="end" fill="#111" stroke="#111" stroke-width="0.16">10</text>
<line x1="46.4" y1="324.433" x2="49.4" y2="324.433" stroke="#333" stroke-width="0.8"/>
<text x="43.7" y="327.533" font-size="9.6" text-anchor="end" fill="#111" stroke="#111" stroke-width="0.16">0</text>
<line x1="59.517" y1="334.6" x2="59.517" y2="337.9" stroke="#333" stroke-width="0.8"/>
<text transform="translate(62.917,345.3) rotate(-45)" font-size="10" text-anchor="end" fill="#111" stroke="#111" stroke-width="0.16">0</text>
<line x1="79.75" y1="334.6" x2="79.75" y2="337.9" stroke="#333" stroke-width="0.8"/>
<text transform="translate(83.15,345.3) rotate(-45)" font-size="10" text-anchor="end" fill="#111" stroke="#111" stroke-width="0.16">10</text>
<line x1="99.983" y1="334.6" x2="99.983" y2="337.9" stroke="#333" stroke-width="0.8"/>
<text transform="translate(103.383,345.3) rotate(-45)" font-size="10" text-anchor="end" fill="#111" stroke="#111" stroke-width="0.16">30</text>
<line x1="120.217" y1="334.6" x2="120.217" y2="337.9" stroke="#333" stroke-width="0.8"/>
<text transform="translate(123.617,345.3) rotate(-45)" font-size="10" text-anchor="end" fill="#111" stroke="#111" stroke-width="0.16">100</text>
<line x1="140.45" y1="334.6" x2="140.45" y2="337.9" stroke="#333" stroke-width="0.8"/>
<text transform="translate(143.85,345.3) rotate(-45)" font-size="10" text-anchor="end" fill="#111" stroke="#111" stroke-width="0.16">300</text>
<line x1="160.683" y1="334.6" x2="160.683" y2="337.9" stroke="#333" stroke-width="0.8"/>
<text transform="translate(164.083,345.3) rotate(-45)" font-size="10" text-anchor="end" fill="#111" stroke="#111" stroke-width="0.16">600</text>
<defs><linearGradient id="cb212" x1="0" y1="0" x2="0" y2="1"><stop offset="0" stop-color="#ec3526"/><stop offset="0.23" stop-color="#f0544e"/><stop offset="0.465" stop-color="#f48b8d"/><stop offset="0.663" stop-color="#f7b4b6"/><stop offset="0.8" stop-color="#fad2d3"/><stop offset="1" stop-color="#ffffff"/></linearGradient></defs>
<rect x="181.5" y="212.6" width="9.9" height="121.3" fill="url(#cb212)" stroke="#777" stroke-width="0.8"/>
<line x1="181.5" y1="333.6" x2="183.4" y2="333.6" stroke="#000" stroke-width="1.3"/>
<line x1="189.5" y1="333.6" x2="191.4" y2="333.6" stroke="#000" stroke-width="1.3"/>
<text x="194.9" y="337" font-size="9.5" text-anchor="start" fill="#111" stroke="#111" stroke-width="0.16">0</text>
<line x1="181.5" y1="288.1" x2="183.4" y2="288.1" stroke="#000" stroke-width="1.3"/>
<line x1="189.5" y1="288.1" x2="191.4" y2="288.1" stroke="#000" stroke-width="1.3"/>
<text x="194.9" y="291.5" font-size="9.5" text-anchor="start" fill="#111" stroke="#111" stroke-width="0.16">20</text>
<line x1="181.5" y1="242.9" x2="183.4" y2="242.9" stroke="#000" stroke-width="1.3"/>
<line x1="189.5" y1="242.9" x2="191.4" y2="242.9" stroke="#000" stroke-width="1.3"/>
<text x="194.9" y="246.3" font-size="9.5" text-anchor="start" fill="#111" stroke="#111" stroke-width="0.16">40</text>
<text transform="translate(215.3,275) rotate(-90)" font-size="9.5" text-anchor="middle" fill="#111" stroke="#111" stroke-width="0.16" textLength="109" lengthAdjust="spacingAndGlyphs">Delta Synergy Score (ZIP)</text>
<text transform="translate(18,271.3) rotate(-90)" font-size="9.5" text-anchor="middle" fill="#111" stroke="#111" stroke-width="0.16" textLength="85" lengthAdjust="spacingAndGlyphs">nM, WM1119, Day 5</text>
<text x="106.9" y="369.2" font-size="9.3" text-anchor="middle" fill="#111" stroke="#111" stroke-width="0.16">nM, VTP50469, Day 5</text>
<text x="1.5" y="403.3" font-size="12" text-anchor="start" fill="#222" stroke="#222" stroke-width="0.16">G</text>
<rect x="52.25" y="414.85" width="17.214" height="17.271" fill="#fff0f0" stroke="none" stroke-width="1"/>
<rect x="69.364" y="414.85" width="17.214" height="17.271" fill="#ffdddc" stroke="none" stroke-width="1"/>
<rect x="86.479" y="414.85" width="17.214" height="17.271" fill="#fec6c5" stroke="none" stroke-width="1"/>
<rect x="103.593" y="414.85" width="17.214" height="17.271" fill="#ff2800" stroke="none" stroke-width="1"/>
<rect x="120.707" y="414.85" width="17.214" height="17.271" fill="#ff2801" stroke="none" stroke-width="1"/>
<rect x="137.821" y="414.85" width="17.214" height="17.271" fill="#ff6262" stroke="none" stroke-width="1"/>
<rect x="154.936" y="414.85" width="17.214" height="17.271" fill="#ff8585" stroke="none" stroke-width="1"/>
<rect x="52.25" y="432.021" width="17.214" height="17.271" fill="#fff0f0" stroke="none" stroke-width="1"/>
<rect x="69.364" y="432.021" width="17.214" height="17.271" fill="#ffe7e7" stroke="none" stroke-width="1"/>
<rect x="86.479" y="432.021" width="17.214" height="17.271" fill="#ffdcdc" stroke="none" stroke-width="1"/>
<rect x="103.593" y="432.021" width="17.214" height="17.271" fill="#ff2a04" stroke="none" stroke-width="1"/>
<rect x="120.707" y="432.021" width="17.214" height="17.271" fill="#ff2b04" stroke="none" stroke-width="1"/>
<rect x="137.821" y="432.021" width="17.214" height="17.271" fill="#ff6464" stroke="none" stroke-width="1"/>
<rect x="154.936" y="432.021" width="17.214" height="17.271" fill="#ff8787" stroke="none" stroke-width="1"/>
<rect x="52.25" y="449.193" width="17.214" height="17.271" fill="#fff0f0" stroke="none" stroke-width="1"/>
<rect x="69.364" y="449.193" width="17.214" height="17.271" fill="#fff7f7" stroke="none" stroke-width="1"/>
<rect x="86.479" y="449.193" width="17.214" height="17.271" fill="#fff9f9" stroke="none" stroke-width="1"/>
<rect x="103.593" y="449.193" width="17.214" height="17.271" fill="#ff3516" stroke="none" stroke-width="1"/>
<rect x="120.707" y="449.193" width="17.214" height="17.271" fill="#ff2c07" stroke="none" stroke-width="1"/>
<rect x="137.821" y="449.193" width="17.214" height="17.271" fill="#ff6565" stroke="none" stroke-width="1"/>
<rect x="154.936" y="449.193" width="17.214" height="17.271" fill="#ff8888" stroke="none" stroke-width="1"/>
<rect x="52.25" y="466.364" width="17.214" height="17.271" fill="#fff0f0" stroke="none" stroke-width="1"/>
<rect x="69.364" y="466.364" width="17.214" height="17.271" fill="#fff9f9" stroke="none" stroke-width="1"/>
<rect x="86.479" y="466.364" width="17.214" height="17.271" fill="#ffffff" stroke="none" stroke-width="1"/>
<rect x="103.593" y="466.364" width="17.214" height="17.271" fill="#ff8888" stroke="none" stroke-width="1"/>
<rect x="120.707" y="466.364" width="17.214" height="17.271" fill="#ff3313" stroke="none" stroke-width="1"/>
<rect x="137.821" y="466.364" width="17.214" height="17.271" fill="#ff6b6b" stroke="none" stroke-width="1"/>
<rect x="154.936" y="466.364" width="17.214" height="17.271" fill="#ff8f8f" stroke="none" stroke-width="1"/>
<rect x="52.25" y="483.536" width="17.214" height="17.271" fill="#fff0f0" stroke="none" stroke-width="1"/>
<rect x="69.364" y="483.536" width="17.214" height="17.271" fill="#fff1f1" stroke="none" stroke-width="1"/>
<rect x="86.479" y="483.536" width="17.214" height="17.271" fill="#fff5f5" stroke="none" stroke-width="1"/>
<rect x="103.593" y="483.536" width="17.214" height="17.271" fill="#fececd" stroke="none" stroke-width="1"/>
<rect x="120.707" y="483.536" width="17.214" height="17.271" fill="#ff7878" stroke="none" stroke-width="1"/>
<rect x="137.821" y="483.536" width="17.214" height="17.271" fill="#ff7b7b" stroke="none" stroke-width="1"/>
<rect x="154.936" y="483.536" width="17.214" height="17.271" fill="#ffa1a0" stroke="none" stroke-width="1"/>
<rect x="52.25" y="500.707" width="17.214" height="17.271" fill="#fff0f0" stroke="none" stroke-width="1"/>
<rect x="69.364" y="500.707" width="17.214" height="17.271" fill="#ffe9e9" stroke="none" stroke-width="1"/>
<rect x="86.479" y="500.707" width="17.214" height="17.271" fill="#ffeeee" stroke="none" stroke-width="1"/>
<rect x="103.593" y="500.707" width="17.214" height="17.271" fill="#fed5d5" stroke="none" stroke-width="1"/>
<rect x="120.707" y="500.707" width="17.214" height="17.271" fill="#fed8d7" stroke="none" stroke-width="1"/>
<rect x="137.821" y="500.707" width="17.214" height="17.271" fill="#fed7d6" stroke="none" stroke-width="1"/>
<rect x="154.936" y="500.707" width="17.214" height="17.271" fill="#ffdada" stroke="none" stroke-width="1"/>
<rect x="52.25" y="517.879" width="17.214" height="17.271" fill="#fff0f0" stroke="none" stroke-width="1"/>
<rect x="69.364" y="517.879" width="17.214" height="17.271" fill="#fff0f0" stroke="none" stroke-width="1"/>
<rect x="86.479" y="517.879" width="17.214" height="17.271" fill="#fff0f0" stroke="none" stroke-width="1"/>
<rect x="103.593" y="517.879" width="17.214" height="17.271" fill="#fff0f0" stroke="none" stroke-width="1"/>
<rect x="120.707" y="517.879" width="17.214" height="17.271" fill="#fff0f0" stroke="none" stroke-width="1"/>
<rect x="137.821" y="517.879" width="17.214" height="17.271" fill="#fff0f0" stroke="none" stroke-width="1"/>
<rect x="154.936" y="517.879" width="17.214" height="17.271" fill="#fff0f0" stroke="none" stroke-width="1"/>
<text x="60.857" y="425.034" font-size="4.601" text-anchor="middle" fill="#111" stroke="#111" stroke-width="0.083" textLength="7.78" lengthAdjust="spacingAndGlyphs">0.00</text>
<text x="77.971" y="425.034" font-size="4.601" text-anchor="middle" fill="#111" stroke="#111" stroke-width="0.083" textLength="7.78" lengthAdjust="spacingAndGlyphs">5.77</text>
<text x="95.086" y="425.034" font-size="4.601" text-anchor="middle" fill="#111" stroke="#111" stroke-width="0.083" textLength="10.01" lengthAdjust="spacingAndGlyphs">12.49</text>
<text x="112.2" y="425.034" font-size="4.601" text-anchor="middle" fill="#111" stroke="#111" stroke-width="0.083" textLength="10.01" lengthAdjust="spacingAndGlyphs">53.51</text>
<text x="129.314" y="425.034" font-size="4.601" text-anchor="middle" fill="#111" stroke="#111" stroke-width="0.083" textLength="10.01" lengthAdjust="spacingAndGlyphs">53.41</text>
<text x="146.429" y="425.034" font-size="4.601" text-anchor="middle" fill="#111" stroke="#111" stroke-width="0.083" textLength="10.01" lengthAdjust="spacingAndGlyphs">39.27</text>
<text x="163.543" y="425.034" font-size="4.601" text-anchor="middle" fill="#111" stroke="#111" stroke-width="0.083" textLength="10.01" lengthAdjust="spacingAndGlyphs">29.31</text>
<text x="60.857" y="442.205" font-size="4.601" text-anchor="middle" fill="#111" stroke="#111" stroke-width="0.083" textLength="7.78" lengthAdjust="spacingAndGlyphs">0.00</text>
<text x="77.971" y="442.205" font-size="4.601" text-anchor="middle" fill="#111" stroke="#111" stroke-width="0.083" textLength="7.78" lengthAdjust="spacingAndGlyphs">2.60</text>
<text x="95.086" y="442.205" font-size="4.601" text-anchor="middle" fill="#111" stroke="#111" stroke-width="0.083" textLength="7.78" lengthAdjust="spacingAndGlyphs">5.90</text>
<text x="112.2" y="442.205" font-size="4.601" text-anchor="middle" fill="#111" stroke="#111" stroke-width="0.083" textLength="10.01" lengthAdjust="spacingAndGlyphs">52.97</text>
<text x="129.314" y="442.205" font-size="4.601" text-anchor="middle" fill="#111" stroke="#111" stroke-width="0.083" textLength="10.01" lengthAdjust="spacingAndGlyphs">52.87</text>
<text x="146.429" y="442.205" font-size="4.601" text-anchor="middle" fill="#111" stroke="#111" stroke-width="0.083" textLength="10.01" lengthAdjust="spacingAndGlyphs">38.73</text>
<text x="163.543" y="442.205" font-size="4.601" text-anchor="middle" fill="#111" stroke="#111" stroke-width="0.083" textLength="10.01" lengthAdjust="spacingAndGlyphs">28.78</text>
<text x="60.857" y="459.377" font-size="4.601" text-anchor="middle" fill="#111" stroke="#111" stroke-width="0.083" textLength="7.78" lengthAdjust="spacingAndGlyphs">0.00</text>
<text x="77.971" y="459.377" font-size="4.601" text-anchor="middle" fill="#111" stroke="#111" stroke-width="0.083" textLength="9.11" lengthAdjust="spacingAndGlyphs">-1.85</text>
<text x="95.086" y="459.377" font-size="4.601" text-anchor="middle" fill="#111" stroke="#111" stroke-width="0.083" textLength="9.11" lengthAdjust="spacingAndGlyphs">-2.36</text>
<text x="112.2" y="459.377" font-size="4.601" text-anchor="middle" fill="#111" stroke="#111" stroke-width="0.083" textLength="10.01" lengthAdjust="spacingAndGlyphs">50.26</text>
<text x="129.314" y="459.377" font-size="4.601" text-anchor="middle" fill="#111" stroke="#111" stroke-width="0.083" textLength="10.01" lengthAdjust="spacingAndGlyphs">52.54</text>
<text x="146.429" y="459.377" font-size="4.601" text-anchor="middle" fill="#111" stroke="#111" stroke-width="0.083" textLength="10.01" lengthAdjust="spacingAndGlyphs">38.41</text>
<text x="163.543" y="459.377" font-size="4.601" text-anchor="middle" fill="#111" stroke="#111" stroke-width="0.083" textLength="10.01" lengthAdjust="spacingAndGlyphs">28.47</text>
<text x="60.857" y="476.548" font-size="4.601" text-anchor="middle" fill="#111" stroke="#111" stroke-width="0.083" textLength="7.78" lengthAdjust="spacingAndGlyphs">0.00</text>
<text x="77.971" y="476.548" font-size="4.601" text-anchor="middle" fill="#111" stroke="#111" stroke-width="0.083" textLength="9.11" lengthAdjust="spacingAndGlyphs">-2.53</text>
<text x="95.086" y="476.548" font-size="4.601" text-anchor="middle" fill="#111" stroke="#111" stroke-width="0.083" textLength="9.11" lengthAdjust="spacingAndGlyphs">-4.07</text>
<text x="112.2" y="476.548" font-size="4.601" text-anchor="middle" fill="#111" stroke="#111" stroke-width="0.083" textLength="10.01" lengthAdjust="spacingAndGlyphs">28.47</text>
<text x="129.314" y="476.548" font-size="4.601" text-anchor="middle" fill="#111" stroke="#111" stroke-width="0.083" textLength="10.01" lengthAdjust="spacingAndGlyphs">50.75</text>
<text x="146.429" y="476.548" font-size="4.601" text-anchor="middle" fill="#111" stroke="#111" stroke-width="0.083" textLength="10.01" lengthAdjust="spacingAndGlyphs">36.74</text>
<text x="163.543" y="476.548" font-size="4.601" text-anchor="middle" fill="#111" stroke="#111" stroke-width="0.083" textLength="10.01" lengthAdjust="spacingAndGlyphs">26.60</text>
<text x="60.857" y="493.719" font-size="4.601" text-anchor="middle" fill="#111" stroke="#111" stroke-width="0.083" textLength="7.78" lengthAdjust="spacingAndGlyphs">0.00</text>
<text x="77.971" y="493.719" font-size="4.601" text-anchor="middle" fill="#111" stroke="#111" stroke-width="0.083" textLength="9.11" lengthAdjust="spacingAndGlyphs">-0.33</text>
<text x="95.086" y="493.719" font-size="4.601" text-anchor="middle" fill="#111" stroke="#111" stroke-width="0.083" textLength="9.11" lengthAdjust="spacingAndGlyphs">-1.35</text>
<text x="112.2" y="493.719" font-size="4.601" text-anchor="middle" fill="#111" stroke="#111" stroke-width="0.083" textLength="10.01" lengthAdjust="spacingAndGlyphs">10.26</text>
<text x="129.314" y="493.719" font-size="4.601" text-anchor="middle" fill="#111" stroke="#111" stroke-width="0.083" textLength="10.01" lengthAdjust="spacingAndGlyphs">33.16</text>
<text x="146.429" y="493.719" font-size="4.601" text-anchor="middle" fill="#111" stroke="#111" stroke-width="0.083" textLength="10.01" lengthAdjust="spacingAndGlyphs">32.27</text>
<text x="163.543" y="493.719" font-size="4.601" text-anchor="middle" fill="#111" stroke="#111" stroke-width="0.083" textLength="10.01" lengthAdjust="spacingAndGlyphs">22.21</text>
<text x="60.857" y="510.891" font-size="4.601" text-anchor="middle" fill="#111" stroke="#111" stroke-width="0.083" textLength="7.78" lengthAdjust="spacingAndGlyphs">0.00</text>
<text x="77.971" y="510.891" font-size="4.601" text-anchor="middle" fill="#111" stroke="#111" stroke-width="0.083" textLength="7.78" lengthAdjust="spacingAndGlyphs">2.08</text>
<text x="95.086" y="510.891" font-size="4.601" text-anchor="middle" fill="#111" stroke="#111" stroke-width="0.083" textLength="7.78" lengthAdjust="spacingAndGlyphs">0.68</text>
<text x="112.2" y="510.891" font-size="4.601" text-anchor="middle" fill="#111" stroke="#111" stroke-width="0.083" textLength="7.78" lengthAdjust="spacingAndGlyphs">7.94</text>
<text x="129.314" y="510.891" font-size="4.601" text-anchor="middle" fill="#111" stroke="#111" stroke-width="0.083" textLength="7.78" lengthAdjust="spacingAndGlyphs">7.19</text>
<text x="146.429" y="510.891" font-size="4.601" text-anchor="middle" fill="#111" stroke="#111" stroke-width="0.083" textLength="7.78" lengthAdjust="spacingAndGlyphs">7.55</text>
<text x="163.543" y="510.891" font-size="4.601" text-anchor="middle" fill="#111" stroke="#111" stroke-width="0.083" textLength="7.78" lengthAdjust="spacingAndGlyphs">6.46</text>
<text x="60.857" y="528.062" font-size="4.601" text-anchor="middle" fill="#111" stroke="#111" stroke-width="0.083" textLength="7.78" lengthAdjust="spacingAndGlyphs">0.00</text>
<text x="77.971" y="528.062" font-size="4.601" text-anchor="middle" fill="#111" stroke="#111" stroke-width="0.083" textLength="7.78" lengthAdjust="spacingAndGlyphs">0.00</text>
<text x="95.086" y="528.062" font-size="4.601" text-anchor="middle" fill="#111" stroke="#111" stroke-width="0.083" textLength="7.78" lengthAdjust="spacingAndGlyphs">0.00</text>
<text x="112.2" y="528.062" font-size="4.601" text-anchor="middle" fill="#111" stroke="#111" stroke-width="0.083" textLength="7.78" lengthAdjust="spacingAndGlyphs">0.00</text>
<text x="129.314" y="528.062" font-size="4.601" text-anchor="middle" fill="#111" stroke="#111" stroke-width="0.083" textLength="7.78" lengthAdjust="spacingAndGlyphs">0.00</text>
<text x="146.429" y="528.062" font-size="4.601" text-anchor="middle" fill="#111" stroke="#111" stroke-width="0.083" textLength="7.78" lengthAdjust="spacingAndGlyphs">0.00</text>
<text x="163.543" y="528.062" font-size="4.601" text-anchor="middle" fill="#111" stroke="#111" stroke-width="0.083" textLength="7.78" lengthAdjust="spacingAndGlyphs">0.00</text>
<rect x="52.3" y="414.9" width="119.8" height="120.2" fill="none" stroke="#444" stroke-width="0.9"/>
<line x1="49.3" y1="423.486" x2="52.3" y2="423.486" stroke="#333" stroke-width="0.8"/>
<text x="46.9" y="426.586" font-size="9.6" text-anchor="end" fill="#111" stroke="#111" stroke-width="0.16">1000</text>
<line x1="49.3" y1="440.657" x2="52.3" y2="440.657" stroke="#333" stroke-width="0.8"/>
<text x="46.9" y="443.757" font-size="9.6" text-anchor="end" fill="#111" stroke="#111" stroke-width="0.16">600</text>
<line x1="49.3" y1="457.829" x2="52.3" y2="457.829" stroke="#333" stroke-width="0.8"/>
<text x="46.9" y="460.929" font-size="9.6" text-anchor="end" fill="#111" stroke="#111" stroke-width="0.16">300</text>
<line x1="49.3" y1="475" x2="52.3" y2="475" stroke="#333" stroke-width="0.8"/>
<text x="46.9" y="478.1" font-size="9.6" text-anchor="end" fill="#111" stroke="#111" stroke-width="0.16">100</text>
<line x1="49.3" y1="492.171" x2="52.3" y2="492.171" stroke="#333" stroke-width="0.8"/>
<text x="46.9" y="495.271" font-size="9.6" text-anchor="end" fill="#111" stroke="#111" stroke-width="0.16">30</text>
<line x1="49.3" y1="509.343" x2="52.3" y2="509.343" stroke="#333" stroke-width="0.8"/>
<text x="46.9" y="512.443" font-size="9.6" text-anchor="end" fill="#111" stroke="#111" stroke-width="0.16">10</text>
<line x1="49.3" y1="526.514" x2="52.3" y2="526.514" stroke="#333" stroke-width="0.8"/>
<text x="46.9" y="529.614" font-size="9.6" text-anchor="end" fill="#111" stroke="#111" stroke-width="0.16">0</text>
<line x1="60.857" y1="535.1" x2="60.857" y2="538.4" stroke="#333" stroke-width="0.8"/>
<text transform="translate(64.257,545.3) rotate(-45)" font-size="10" text-anchor="end" fill="#111" stroke="#111" stroke-width="0.16">0</text>
<line x1="77.971" y1="535.1" x2="77.971" y2="538.4" stroke="#333" stroke-width="0.8"/>
<text transform="translate(81.371,545.3) rotate(-45)" font-size="10" text-anchor="end" fill="#111" stroke="#111" stroke-width="0.16">10</text>
<line x1="95.086" y1="535.1" x2="95.086" y2="538.4" stroke="#333" stroke-width="0.8"/>
<text transform="translate(98.486,545.3) rotate(-45)" font-size="10" text-anchor="end" fill="#111" stroke="#111" stroke-width="0.16">30</text>
<line x1="112.2" y1="535.1" x2="112.2" y2="538.4" stroke="#333" stroke-width="0.8"/>
<text transform="translate(115.6,545.3) rotate(-45)" font-size="10" text-anchor="end" fill="#111" stroke="#111" stroke-width="0.16">100</text>
<line x1="129.314" y1="535.1" x2="129.314" y2="538.4" stroke="#333" stroke-width="0.8"/>
<text transform="translate(132.714,545.3) rotate(-45)" font-size="10" text-anchor="end" fill="#111" stroke="#111" stroke-width="0.16">300</text>
<line x1="146.429" y1="535.1" x2="146.429" y2="538.4" stroke="#333" stroke-width="0.8"/>
<text transform="translate(149.829,545.3) rotate(-45)" font-size="10" text-anchor="end" fill="#111" stroke="#111" stroke-width="0.16">600</text>
<line x1="163.543" y1="535.1" x2="163.543" y2="538.4" stroke="#333" stroke-width="0.8"/>
<text transform="translate(166.943,545.3) rotate(-45)" font-size="10" text-anchor="end" fill="#111" stroke="#111" stroke-width="0.16">1000</text>
<defs><linearGradient id="cb415" x1="0" y1="0" x2="0" y2="1"><stop offset="0" stop-color="#ff2800"/><stop offset="0.247" stop-color="#ff6262"/><stop offset="0.435" stop-color="#ff8888"/><stop offset="0.7" stop-color="#fec4c3"/><stop offset="0.93" stop-color="#fff0f0"/><stop offset="1" stop-color="#ffffff"/></linearGradient></defs>
<rect x="182.1" y="415.1" width="10.1" height="119.7" fill="url(#cb415)" stroke="#777" stroke-width="0.8"/>
<line x1="182.1" y1="526" x2="184" y2="526" stroke="#000" stroke-width="1.3"/>
<line x1="190.3" y1="526" x2="192.2" y2="526" stroke="#000" stroke-width="1.3"/>
<text x="195.7" y="529.4" font-size="9.5" text-anchor="start" fill="#111" stroke="#111" stroke-width="0.16">0</text>
<line x1="182.1" y1="484.6" x2="184" y2="484.6" stroke="#000" stroke-width="1.3"/>
<line x1="190.3" y1="484.6" x2="192.2" y2="484.6" stroke="#000" stroke-width="1.3"/>
<text x="195.7" y="488" font-size="9.5" text-anchor="start" fill="#111" stroke="#111" stroke-width="0.16">20</text>
<line x1="182.1" y1="442.9" x2="184" y2="442.9" stroke="#000" stroke-width="1.3"/>
<line x1="190.3" y1="442.9" x2="192.2" y2="442.9" stroke="#000" stroke-width="1.3"/>
<text x="195.7" y="446.3" font-size="9.5" text-anchor="start" fill="#111" stroke="#111" stroke-width="0.16">40</text>
<text transform="translate(215,478.8) rotate(-90)" font-size="9.5" text-anchor="middle" fill="#111" stroke="#111" stroke-width="0.16" textLength="109" lengthAdjust="spacingAndGlyphs">Delta Synergy Score (ZIP)</text>
<text transform="translate(21,474.4) rotate(-90)" font-size="9.5" text-anchor="middle" fill="#111" stroke="#111" stroke-width="0.16" textLength="85" lengthAdjust="spacingAndGlyphs">nM, WM1119, Day 5</text>
<text x="108.2" y="569.9" font-size="9.3" text-anchor="middle" fill="#111" stroke="#111" stroke-width="0.16">nM, SGC0946, Day 5</text>
<text x="228.3" y="205.2" font-size="12" text-anchor="start" fill="#222" stroke="#222" stroke-width="0.16">E</text>
<line x1="264.051" y1="302.973" x2="337.189" y2="278.223" stroke="#222" stroke-width="0.9" stroke-dasharray="2.2,1.9"/>
<line x1="384.632" y1="323.344" x2="337.189" y2="278.223" stroke="#222" stroke-width="0.9" stroke-dasharray="2.2,1.9"/>
<line x1="337.189" y1="278.223" x2="338.725" y2="206.578" stroke="#222" stroke-width="0.9" stroke-dasharray="2.2,1.9"/>
<line x1="257.335" y1="228.23" x2="302.395" y2="275.41" stroke="#777" stroke-width="0.6"/>
<line x1="392.183" y1="246.311" x2="302.395" y2="275.41" stroke="#777" stroke-width="0.6"/>
<g stroke="#222" stroke-width="0.24" stroke-linejoin="round"><path d="M338.1,240.9 L340.1,240.4 L338.0,238.7 L336.0,239.2Z" fill="#ffd2d2"/><path d="M336.0,241.3 L338.1,240.9 L336.0,239.2 L334.0,239.7Z" fill="#ffd1d1"/><path d="M334.0,241.9 L336.0,241.3 L334.0,239.7 L332.0,240.3Z" fill="#ffd0d0"/><path d="M340.1,242.5 L342.1,242.1 L340.1,240.4 L338.1,240.9Z" fill="#ffd2d2"/><path d="M332.0,242.5 L334.0,241.9 L332.0,240.3 L330.0,240.9Z" fill="#ffd0d0"/><path d="M338.1,243.0 L340.1,242.5 L338.1,240.9 L336.0,241.3Z" fill="#ffd0d0"/><path d="M329.9,243.2 L332.0,242.5 L330.0,240.9 L327.9,241.6Z" fill="#ffd0d0"/><path d="M336.0,243.5 L338.1,243.0 L336.0,241.3 L334.0,241.9Z" fill="#ffcfcf"/><path d="M327.9,243.9 L329.9,243.2 L327.9,241.6 L325.9,242.3Z" fill="#ffd1d1"/><path d="M342.2,244.2 L344.2,243.8 L342.1,242.1 L340.1,242.5Z" fill="#ffd1d1"/><path d="M325.8,244.5 L327.9,243.9 L325.9,242.3 L323.8,243.0Z" fill="#ffd1d1"/><path d="M334.0,244.1 L336.0,243.5 L334.0,241.9 L332.0,242.5Z" fill="#ffcfcf"/><path d="M340.1,244.6 L342.2,244.2 L340.1,242.5 L338.1,243.0Z" fill="#ffd0d0"/><path d="M323.7,245.1 L325.8,244.5 L323.8,243.0 L321.8,243.5Z" fill="#ffd1d1"/><path d="M331.9,244.8 L334.0,244.1 L332.0,242.5 L329.9,243.2Z" fill="#ffcfcf"/><path d="M338.1,245.1 L340.1,244.6 L338.1,243.0 L336.0,243.5Z" fill="#ffcece"/><path d="M329.9,245.5 L331.9,244.8 L329.9,243.2 L327.9,243.9Z" fill="#ffd0d0"/><path d="M321.7,245.6 L323.7,245.1 L321.8,243.5 L319.7,243.9Z" fill="#ffd0d0"/><path d="M344.3,245.9 L346.3,245.5 L344.2,243.8 L342.2,244.2Z" fill="#ffd1d1"/><path d="M327.8,246.1 L329.9,245.5 L327.9,243.9 L325.8,244.5Z" fill="#ffd0d0"/><path d="M336.0,245.8 L338.1,245.1 L336.0,243.5 L334.0,244.1Z" fill="#ffcece"/><path d="M319.6,245.8 L321.7,245.6 L319.7,243.9 L317.6,244.2Z" fill="#ffcece"/><path d="M342.2,246.3 L344.3,245.9 L342.2,244.2 L340.1,244.6Z" fill="#ffcfcf"/><path d="M334.0,246.4 L336.0,245.8 L334.0,244.1 L331.9,244.8Z" fill="#ffcece"/><path d="M325.7,246.7 L327.8,246.1 L325.8,244.5 L323.7,245.1Z" fill="#ffd0d0"/><path d="M317.5,245.9 L319.6,245.8 L317.6,244.2 L315.5,244.2Z" fill="#ffcaca"/><path d="M340.2,246.8 L342.2,246.3 L340.1,244.6 L338.1,245.1Z" fill="#ffcece"/><path d="M331.9,247.2 L334.0,246.4 L331.9,244.8 L329.9,245.5Z" fill="#ffcfcf"/><path d="M323.6,247.2 L325.7,246.7 L323.7,245.1 L321.7,245.6Z" fill="#ffcfcf"/><path d="M346.4,247.5 L348.4,247.1 L346.3,245.5 L344.3,245.9Z" fill="#ffd0d0"/><path d="M338.1,247.4 L340.2,246.8 L338.1,245.1 L336.0,245.8Z" fill="#ffcdcd"/><path d="M329.8,247.8 L331.9,247.2 L329.9,245.5 L327.8,246.1Z" fill="#ffcfcf"/><path d="M315.3,245.6 L317.5,245.9 L315.5,244.2 L313.4,244.0Z" fill="#ffc5c5"/><path d="M321.5,247.4 L323.6,247.2 L321.7,245.6 L319.6,245.8Z" fill="#ffcdcd"/><path d="M344.3,248.0 L346.4,247.5 L344.3,245.9 L342.2,246.3Z" fill="#ffcece"/><path d="M336.0,248.1 L338.1,247.4 L336.0,245.8 L334.0,246.4Z" fill="#ffcdcd"/><path d="M327.7,248.4 L329.8,247.8 L327.8,246.1 L325.7,246.7Z" fill="#ffcfcf"/><path d="M319.4,247.5 L321.5,247.4 L319.6,245.8 L317.5,245.9Z" fill="#ffc9c9"/><path d="M342.3,248.5 L344.3,248.0 L342.2,246.3 L340.2,246.8Z" fill="#ffcdcd"/><path d="M313.2,245.2 L315.3,245.6 L313.4,244.0 L311.3,243.5Z" fill="#ffbdbd"/><path d="M334.0,248.9 L336.0,248.1 L334.0,246.4 L331.9,247.2Z" fill="#ffcece"/><path d="M325.6,248.9 L327.7,248.4 L325.7,246.7 L323.6,247.2Z" fill="#ffcece"/><path d="M348.5,249.2 L350.6,248.8 L348.4,247.1 L346.4,247.5Z" fill="#ffcfcf"/><path d="M340.2,249.1 L342.3,248.5 L340.2,246.8 L338.1,247.4Z" fill="#ffcccc"/><path d="M331.9,249.6 L334.0,248.9 L331.9,247.2 L329.8,247.8Z" fill="#ffcece"/><path d="M317.3,247.3 L319.4,247.5 L317.5,245.9 L315.3,245.6Z" fill="#ffc3c3"/><path d="M323.5,249.2 L325.6,248.9 L323.6,247.2 L321.5,247.4Z" fill="#ffcccc"/><path d="M346.5,249.6 L348.5,249.2 L346.4,247.5 L344.3,248.0Z" fill="#ffcdcd"/><path d="M311.1,244.4 L313.2,245.2 L311.3,243.5 L309.1,242.8Z" fill="#ffb3b3"/><path d="M338.1,249.9 L340.2,249.1 L338.1,247.4 L336.0,248.1Z" fill="#ffcdcd"/><path d="M329.8,250.2 L331.9,249.6 L329.8,247.8 L327.7,248.4Z" fill="#ffcece"/><path d="M321.4,249.2 L323.5,249.2 L321.5,247.4 L319.4,247.5Z" fill="#ffc8c8"/><path d="M344.4,250.2 L346.5,249.6 L344.3,248.0 L342.3,248.5Z" fill="#ffcccc"/><path d="M336.0,250.6 L338.1,249.9 L336.0,248.1 L334.0,248.9Z" fill="#ffcdcd"/><path d="M315.2,246.8 L317.3,247.3 L315.3,245.6 L313.2,245.2Z" fill="#ffbcbc"/><path d="M327.7,250.6 L329.8,250.2 L327.7,248.4 L325.6,248.9Z" fill="#ffcdcd"/><path d="M350.7,250.8 L352.8,250.4 L350.6,248.8 L348.5,249.2Z" fill="#ffcdcd"/><path d="M308.9,243.4 L311.1,244.4 L309.1,242.8 L307.0,241.8Z" fill="#ffa7a7"/><path d="M333.9,251.3 L336.0,250.6 L334.0,248.9 L331.9,249.6Z" fill="#ffcece"/><path d="M342.3,250.8 L344.4,250.2 L342.3,248.5 L340.2,249.1Z" fill="#ffcbcb"/><path d="M319.3,249.0 L321.4,249.2 L319.4,247.5 L317.3,247.3Z" fill="#ffc2c2"/><path d="M325.6,250.9 L327.7,250.6 L325.6,248.9 L323.5,249.2Z" fill="#ffcbcb"/><path d="M348.6,251.3 L350.7,250.8 L348.5,249.2 L346.5,249.6Z" fill="#ffcccc"/><path d="M313.0,246.0 L315.2,246.8 L313.2,245.2 L311.1,244.4Z" fill="#ffb2b2"/><path d="M331.8,251.9 L333.9,251.3 L331.9,249.6 L329.8,250.2Z" fill="#ffcece"/><path d="M340.2,251.6 L342.3,250.8 L340.2,249.1 L338.1,249.9Z" fill="#ffcccc"/><path d="M323.4,251.0 L325.6,250.9 L323.5,249.2 L321.4,249.2Z" fill="#ffc8c8"/><path d="M346.6,251.8 L348.6,251.3 L346.5,249.6 L344.4,250.2Z" fill="#ffcaca"/><path d="M338.1,252.3 L340.2,251.6 L338.1,249.9 L336.0,250.6Z" fill="#ffcccc"/><path d="M317.1,248.5 L319.3,249.0 L317.3,247.3 L315.2,246.8Z" fill="#ffbaba"/><path d="M329.7,252.4 L331.8,251.9 L329.8,250.2 L327.7,250.6Z" fill="#ffcdcd"/><path d="M306.7,242.2 L308.9,243.4 L307.0,241.8 L304.8,240.6Z" fill="#ff9a9a"/><path d="M352.9,252.5 L355.0,252.1 L352.8,250.4 L350.7,250.8Z" fill="#ffcccc"/><path d="M336.0,253.0 L338.1,252.3 L336.0,250.6 L333.9,251.3Z" fill="#ffcdcd"/><path d="M310.8,245.0 L313.0,246.0 L311.1,244.4 L308.9,243.4Z" fill="#ffa6a6"/><path d="M344.5,252.5 L346.6,251.8 L344.4,250.2 L342.3,250.8Z" fill="#ffcaca"/><path d="M321.3,250.7 L323.4,251.0 L321.4,249.2 L319.3,249.0Z" fill="#ffc2c2"/><path d="M327.6,252.7 L329.7,252.4 L327.7,250.6 L325.6,250.9Z" fill="#ffcbcb"/><path d="M350.8,252.9 L352.9,252.5 L350.7,250.8 L348.6,251.3Z" fill="#ffcaca"/><path d="M315.0,247.7 L317.1,248.5 L315.2,246.8 L313.0,246.0Z" fill="#ffb0b0"/><path d="M333.9,253.7 L336.0,253.0 L333.9,251.3 L331.8,251.9Z" fill="#ffcdcd"/><path d="M342.4,253.2 L344.5,252.5 L342.3,250.8 L340.2,251.6Z" fill="#ffcaca"/><path d="M304.5,240.9 L306.7,242.2 L304.8,240.6 L302.5,239.3Z" fill="#ff8b8b"/><path d="M325.5,252.8 L327.6,252.7 L325.6,250.9 L323.4,251.0Z" fill="#ffc7c7"/><path d="M319.1,250.2 L321.3,250.7 L319.3,249.0 L317.1,248.5Z" fill="#ffbaba"/><path d="M348.8,253.5 L350.8,252.9 L348.6,251.3 L346.6,251.8Z" fill="#ffc9c9"/><path d="M340.3,254.0 L342.4,253.2 L340.2,251.6 L338.1,252.3Z" fill="#ffcbcb"/><path d="M331.8,254.2 L333.9,253.7 L331.8,251.9 L329.7,252.4Z" fill="#ffcccc"/><path d="M308.6,243.8 L310.8,245.0 L308.9,243.4 L306.7,242.2Z" fill="#ff9898"/><path d="M355.1,254.3 L357.2,253.8 L355.0,252.1 L352.9,252.5Z" fill="#ffcbcb"/><path d="M338.2,254.7 L340.3,254.0 L338.1,252.3 L336.0,253.0Z" fill="#ffcccc"/><path d="M312.8,246.6 L315.0,247.7 L313.0,246.0 L310.8,245.0Z" fill="#ffa4a4"/><path d="M346.7,254.1 L348.8,253.5 L346.6,251.8 L344.5,252.5Z" fill="#ffc8c8"/><path d="M323.3,252.6 L325.5,252.8 L323.4,251.0 L321.3,250.7Z" fill="#ffc1c1"/><path d="M329.7,254.5 L331.8,254.2 L329.7,252.4 L327.6,252.7Z" fill="#ffcaca"/><path d="M302.2,239.5 L304.5,240.9 L302.5,239.3 L300.3,237.9Z" fill="#ff7c7c"/><path d="M353.1,254.7 L355.1,254.3 L352.9,252.5 L350.8,252.9Z" fill="#ffc9c9"/><path d="M317.0,249.4 L319.1,250.2 L317.1,248.5 L315.0,247.7Z" fill="#ffafaf"/><path d="M336.0,255.4 L338.2,254.7 L336.0,253.0 L333.9,253.7Z" fill="#ffcccc"/><path d="M344.6,254.8 L346.7,254.1 L344.5,252.5 L342.4,253.2Z" fill="#ffc8c8"/><path d="M306.4,242.4 L308.6,243.8 L306.7,242.2 L304.5,240.9Z" fill="#ff8a8a"/><path d="M327.5,254.6 L329.7,254.5 L327.6,252.7 L325.5,252.8Z" fill="#ffc7c7"/><path d="M321.2,252.1 L323.3,252.6 L321.3,250.7 L319.1,250.2Z" fill="#ffb9b9"/><path d="M351.0,255.2 L353.1,254.7 L350.8,252.9 L348.8,253.5Z" fill="#ffc7c7"/><path d="M333.9,255.9 L336.0,255.4 L333.9,253.7 L331.8,254.2Z" fill="#ffcbcb"/><path d="M342.4,255.6 L344.6,254.8 L342.4,253.2 L340.3,254.0Z" fill="#ffc9c9"/><path d="M310.6,245.4 L312.8,246.6 L310.8,245.0 L308.6,243.8Z" fill="#ff9797"/><path d="M357.4,256.2 L359.5,255.8 L357.2,253.8 L355.1,254.3Z" fill="#ffcbcb"/><path d="M314.8,248.3 L317.0,249.4 L315.0,247.7 L312.8,246.6Z" fill="#ffa3a3"/><path d="M340.3,256.3 L342.4,255.6 L340.3,254.0 L338.2,254.7Z" fill="#ffcaca"/><path d="M325.4,254.5 L327.5,254.6 L325.5,252.8 L323.3,252.6Z" fill="#ffc1c1"/><path d="M348.9,255.8 L351.0,255.2 L348.8,253.5 L346.7,254.1Z" fill="#ffc7c7"/><path d="M299.9,238.0 L302.2,239.5 L300.3,237.9 L298.0,236.5Z" fill="#ff6c6c"/><path d="M331.8,256.3 L333.9,255.9 L331.8,254.2 L329.7,254.5Z" fill="#ffcaca"/><path d="M355.3,256.6 L357.4,256.2 L355.1,254.3 L353.1,254.7Z" fill="#ffc9c9"/><path d="M319.0,251.3 L321.2,252.1 L319.1,250.2 L317.0,249.4Z" fill="#ffafaf"/><path d="M304.1,241.0 L306.4,242.4 L304.5,240.9 L302.2,239.5Z" fill="#ff7a7a"/><path d="M338.2,257.0 L340.3,256.3 L338.2,254.7 L336.0,255.4Z" fill="#ffcaca"/><path d="M346.8,256.5 L348.9,255.8 L346.7,254.1 L344.6,254.8Z" fill="#ffc7c7"/><path d="M329.6,256.5 L331.8,256.3 L329.7,254.5 L327.5,254.6Z" fill="#ffc6c6"/><path d="M308.3,244.0 L310.6,245.4 L308.6,243.8 L306.4,242.4Z" fill="#ff8888"/><path d="M323.2,254.0 L325.4,254.5 L323.3,252.6 L321.2,252.1Z" fill="#ffb9b9"/><path d="M353.2,257.0 L355.3,256.6 L353.1,254.7 L351.0,255.2Z" fill="#ffc7c7"/><path d="M336.1,257.6 L338.2,257.0 L336.0,255.4 L333.9,255.9Z" fill="#ffcaca"/><path d="M344.6,257.2 L346.8,256.5 L344.6,254.8 L342.4,255.6Z" fill="#ffc7c7"/><path d="M312.6,247.1 L314.8,248.3 L312.8,246.6 L310.6,245.4Z" fill="#ff9595"/><path d="M359.7,258.3 L361.7,258.0 L359.5,255.8 L357.4,256.2Z" fill="#ffcccc"/><path d="M297.6,236.5 L299.9,238.0 L298.0,236.5 L295.7,235.0Z" fill="#ff5c5c"/><path d="M316.8,250.2 L319.0,251.3 L317.0,249.4 L314.8,248.3Z" fill="#ffa3a3"/><path d="M327.5,256.4 L329.6,256.5 L327.5,254.6 L325.4,254.5Z" fill="#ffc1c1"/><path d="M351.1,257.6 L353.2,257.0 L351.0,255.2 L348.9,255.8Z" fill="#ffc6c6"/><path d="M342.5,258.0 L344.6,257.2 L342.4,255.6 L340.3,256.3Z" fill="#ffc8c8"/><path d="M333.9,258.1 L336.1,257.6 L333.9,255.9 L331.8,256.3Z" fill="#ffc8c8"/><path d="M301.9,239.5 L304.1,241.0 L302.2,239.5 L299.9,238.0Z" fill="#ff6a6a"/><path d="M357.6,258.7 L359.7,258.3 L357.4,256.2 L355.3,256.6Z" fill="#ffcaca"/><path d="M321.0,253.3 L323.2,254.0 L321.2,252.1 L319.0,251.3Z" fill="#ffafaf"/><path d="M306.1,242.5 L308.3,244.0 L306.4,242.4 L304.1,241.0Z" fill="#ff7878"/><path d="M340.4,258.7 L342.5,258.0 L340.3,256.3 L338.2,257.0Z" fill="#ffc8c8"/><path d="M349.0,258.3 L351.1,257.6 L348.9,255.8 L346.8,256.5Z" fill="#ffc5c5"/><path d="M331.8,258.4 L333.9,258.1 L331.8,256.3 L329.6,256.5Z" fill="#ffc6c6"/><path d="M310.3,245.7 L312.6,247.1 L310.6,245.4 L308.3,244.0Z" fill="#ff8686"/><path d="M325.3,256.1 L327.5,256.4 L325.4,254.5 L323.2,254.0Z" fill="#ffbaba"/><path d="M355.5,259.2 L357.6,258.7 L355.3,256.6 L353.2,257.0Z" fill="#ffc8c8"/><path d="M361.9,260.8 L364.0,260.4 L361.7,258.0 L359.7,258.3Z" fill="#ffcfcf"/><path d="M295.3,235.0 L297.6,236.5 L295.7,235.0 L293.4,233.5Z" fill="#ff4c4c"/><path d="M338.2,259.4 L340.4,258.7 L338.2,257.0 L336.1,257.6Z" fill="#ffc8c8"/><path d="M346.9,259.0 L349.0,258.3 L346.8,256.5 L344.6,257.2Z" fill="#ffc6c6"/><path d="M314.6,249.0 L316.8,250.2 L314.8,248.3 L312.6,247.1Z" fill="#ff9595"/><path d="M299.5,237.9 L301.9,239.5 L299.9,238.0 L297.6,236.5Z" fill="#ff5a5a"/><path d="M318.8,252.3 L321.0,253.3 L319.0,251.3 L316.8,250.2Z" fill="#ffa3a3"/><path d="M329.6,258.5 L331.8,258.4 L329.6,256.5 L327.5,256.4Z" fill="#ffc1c1"/><path d="M353.4,259.8 L355.5,259.2 L353.2,257.0 L351.1,257.6Z" fill="#ffc6c6"/><path d="M344.7,259.8 L346.9,259.0 L344.6,257.2 L342.5,258.0Z" fill="#ffc6c6"/><path d="M336.1,259.9 L338.2,259.4 L336.1,257.6 L333.9,258.1Z" fill="#ffc7c7"/><path d="M359.8,261.1 L361.9,260.8 L359.7,258.3 L357.6,258.7Z" fill="#ffcccc"/><path d="M303.8,240.9 L306.1,242.5 L304.1,241.0 L301.9,239.5Z" fill="#ff6767"/><path d="M323.1,255.5 L325.3,256.1 L323.2,254.0 L321.0,253.3Z" fill="#ffb1b1"/><path d="M351.2,260.4 L353.4,259.8 L351.1,257.6 L349.0,258.3Z" fill="#ffc6c6"/><path d="M308.1,244.2 L310.3,245.7 L308.3,244.0 L306.1,242.5Z" fill="#ff7676"/><path d="M342.6,260.6 L344.7,259.8 L342.5,258.0 L340.4,258.7Z" fill="#ffc7c7"/><path d="M333.9,260.4 L336.1,259.9 L333.9,258.1 L331.8,258.4Z" fill="#ffc5c5"/><path d="M327.4,258.3 L329.6,258.5 L327.5,256.4 L325.3,256.1Z" fill="#ffbbbb"/><path d="M293.0,233.5 L295.3,235.0 L293.4,233.5 L291.1,232.1Z" fill="#ff3c3c"/><path d="M357.7,261.6 L359.8,261.1 L357.6,258.7 L355.5,259.2Z" fill="#ffcaca"/><path d="M312.3,247.6 L314.6,249.0 L312.6,247.1 L310.3,245.7Z" fill="#ff8585"/><path d="M364.2,263.3 L366.3,263.0 L364.0,260.4 L361.9,260.8Z" fill="#ffd3d3"/><path d="M316.6,251.1 L318.8,252.3 L316.8,250.2 L314.6,249.0Z" fill="#ff9696"/><path d="M349.1,261.2 L351.2,260.4 L349.0,258.3 L346.9,259.0Z" fill="#ffc6c6"/><path d="M340.4,261.3 L342.6,260.6 L340.4,258.7 L338.2,259.4Z" fill="#ffc7c7"/><path d="M297.2,236.3 L299.5,237.9 L297.6,236.5 L295.3,235.0Z" fill="#ff4949"/><path d="M320.9,254.7 L323.1,255.5 L321.0,253.3 L318.8,252.3Z" fill="#ffa5a5"/><path d="M355.6,262.2 L357.7,261.6 L355.5,259.2 L353.4,259.8Z" fill="#ffc9c9"/><path d="M331.7,260.6 L333.9,260.4 L331.8,258.4 L329.6,258.5Z" fill="#ffc2c2"/><path d="M362.1,263.7 L364.2,263.3 L361.9,260.8 L359.8,261.1Z" fill="#ffd1d1"/><path d="M301.5,239.4 L303.8,240.9 L301.9,239.5 L299.5,237.9Z" fill="#ff5757"/><path d="M346.9,262.0 L349.1,261.2 L346.9,259.0 L344.7,259.8Z" fill="#ffc7c7"/><path d="M338.2,262.0 L340.4,261.3 L338.2,259.4 L336.1,259.9Z" fill="#ffc7c7"/><path d="M325.2,257.9 L327.4,258.3 L325.3,256.1 L323.1,255.5Z" fill="#ffb3b3"/><path d="M305.8,242.6 L308.1,244.2 L306.1,242.5 L303.8,240.9Z" fill="#ff6565"/><path d="M262.2,265.5 L264.1,259.1 L262.3,257.3 L260.5,263.6Z" fill="#ffc9c9"/><path d="M353.5,262.9 L355.6,262.2 L353.4,259.8 L351.2,260.4Z" fill="#ffc9c9"/><path d="M290.6,232.0 L293.0,233.5 L291.1,232.1 L288.7,230.6Z" fill="#ff2d2d"/><path d="M310.1,246.0 L312.3,247.6 L310.3,245.7 L308.1,244.2Z" fill="#ff7575"/><path d="M344.8,262.8 L346.9,262.0 L344.7,259.8 L342.6,260.6Z" fill="#ffc7c7"/><path d="M360.0,264.2 L362.1,263.7 L359.8,261.1 L357.7,261.6Z" fill="#ffcece"/><path d="M366.5,266.0 L368.6,265.6 L366.3,263.0 L364.2,263.3Z" fill="#ffd8d8"/><path d="M329.5,260.7 L331.7,260.6 L329.6,258.5 L327.4,258.3Z" fill="#ffbdbd"/><path d="M336.1,262.5 L338.2,262.0 L336.1,259.9 L333.9,260.4Z" fill="#ffc6c6"/><path d="M314.4,249.8 L316.6,251.1 L314.6,249.0 L312.3,247.6Z" fill="#ff8787"/><path d="M294.9,234.8 L297.2,236.3 L295.3,235.0 L293.0,233.5Z" fill="#ff3939"/><path d="M318.7,253.6 L320.9,254.7 L318.8,252.3 L316.6,251.1Z" fill="#ff9999"/><path d="M351.3,263.7 L353.5,262.9 L351.2,260.4 L349.1,261.2Z" fill="#ffc9c9"/><path d="M342.6,263.6 L344.8,262.8 L342.6,260.6 L340.4,261.3Z" fill="#ffc8c8"/><path d="M323.0,257.3 L325.2,257.9 L323.1,255.5 L320.9,254.7Z" fill="#ffa9a9"/><path d="M357.9,264.9 L360.0,264.2 L357.7,261.6 L355.6,262.2Z" fill="#ffcdcd"/><path d="M364.4,266.4 L366.5,266.0 L364.2,263.3 L362.1,263.7Z" fill="#ffd6d6"/><path d="M299.2,237.8 L301.5,239.4 L299.5,237.9 L297.2,236.3Z" fill="#ff4646"/><path d="M333.9,263.0 L336.1,262.5 L333.9,260.4 L331.7,260.6Z" fill="#ffc3c3"/><path d="M349.2,264.5 L351.3,263.7 L349.1,261.2 L346.9,262.0Z" fill="#ffc9c9"/><path d="M327.3,260.6 L329.5,260.7 L327.4,258.3 L325.2,257.9Z" fill="#ffb7b7"/><path d="M303.5,241.0 L305.8,242.6 L303.8,240.9 L301.5,239.4Z" fill="#ff5555"/><path d="M340.4,264.3 L342.6,263.6 L340.4,261.3 L338.2,262.0Z" fill="#ffc8c8"/><path d="M288.2,230.7 L290.6,232.0 L288.7,230.6 L286.4,229.3Z" fill="#ff1e1e"/><path d="M355.7,265.6 L357.9,264.9 L355.6,262.2 L353.5,262.9Z" fill="#ffcdcd"/><path d="M307.8,244.5 L310.1,246.0 L308.1,244.2 L305.8,242.6Z" fill="#ff6565"/><path d="M362.3,266.9 L364.4,266.4 L362.1,263.7 L360.0,264.2Z" fill="#ffd4d4"/><path d="M368.9,268.6 L371.0,268.2 L368.6,265.6 L366.5,266.0Z" fill="#ffdddd"/><path d="M263.9,267.5 L265.8,261.0 L264.1,259.1 L262.2,265.5Z" fill="#ffc9c9"/><path d="M347.0,265.4 L349.2,264.5 L346.9,262.0 L344.8,262.8Z" fill="#ffcaca"/><path d="M264.1,259.1 L265.8,251.5 L264.1,249.7 L262.3,257.3Z" fill="#ff9999"/><path d="M312.1,248.3 L314.4,249.8 L312.3,247.6 L310.1,246.0Z" fill="#ff7777"/><path d="M331.7,263.2 L333.9,263.0 L331.7,260.6 L329.5,260.7Z" fill="#ffc0c0"/><path d="M316.4,252.4 L318.7,253.6 L316.6,251.1 L314.4,249.8Z" fill="#ff8a8a"/><path d="M292.5,233.3 L294.9,234.8 L293.0,233.5 L290.6,232.0Z" fill="#ff2929"/><path d="M338.2,265.0 L340.4,264.3 L338.2,262.0 L336.1,262.5Z" fill="#ffc8c8"/><path d="M320.8,256.5 L323.0,257.3 L320.9,254.7 L318.7,253.6Z" fill="#ff9e9e"/><path d="M353.6,266.5 L355.7,265.6 L353.5,262.9 L351.3,263.7Z" fill="#ffcece"/><path d="M325.1,260.2 L327.3,260.6 L325.2,257.9 L323.0,257.3Z" fill="#ffaeae"/><path d="M344.8,266.2 L347.0,265.4 L344.8,262.8 L342.6,263.6Z" fill="#ffcbcb"/><path d="M360.2,267.6 L362.3,266.9 L360.0,264.2 L357.9,264.9Z" fill="#ffd3d3"/><path d="M366.8,269.0 L368.9,268.6 L366.5,266.0 L364.4,266.4Z" fill="#ffdada"/><path d="M296.8,236.2 L299.2,237.8 L297.2,236.3 L294.9,234.8Z" fill="#ff3636"/><path d="M351.4,267.4 L353.6,266.5 L351.3,263.7 L349.2,264.5Z" fill="#ffcfcf"/><path d="M336.1,265.5 L338.2,265.0 L336.1,262.5 L333.9,263.0Z" fill="#ffc6c6"/><path d="M329.5,263.3 L331.7,263.2 L329.5,260.7 L327.3,260.6Z" fill="#ffbbbb"/><path d="M285.8,229.5 L288.2,230.7 L286.4,229.3 L284.0,228.2Z" fill="#ff1010"/><path d="M301.1,239.4 L303.5,241.0 L301.5,239.4 L299.2,237.8Z" fill="#ff4444"/><path d="M342.6,267.0 L344.8,266.2 L342.6,263.6 L340.4,264.3Z" fill="#ffcccc"/><path d="M358.0,268.5 L360.2,267.6 L357.9,264.9 L355.7,265.6Z" fill="#ffd3d3"/><path d="M364.7,269.6 L366.8,269.0 L364.4,266.4 L362.3,266.9Z" fill="#ffd9d9"/><path d="M305.5,242.9 L307.8,244.5 L305.8,242.6 L303.5,241.0Z" fill="#ff5454"/><path d="M349.2,268.3 L351.4,267.4 L349.2,264.5 L347.0,265.4Z" fill="#ffd0d0"/><path d="M371.3,271.1 L373.4,270.7 L371.0,268.2 L368.9,268.6Z" fill="#ffe1e1"/><path d="M309.8,246.8 L312.1,248.3 L310.1,246.0 L307.8,244.5Z" fill="#ff6666"/><path d="M318.5,255.4 L320.8,256.5 L318.7,253.6 L316.4,252.4Z" fill="#ff9090"/><path d="M314.2,251.0 L316.4,252.4 L314.4,249.8 L312.1,248.3Z" fill="#ff7b7b"/><path d="M290.1,232.0 L292.5,233.3 L290.6,232.0 L288.2,230.7Z" fill="#ff1a1a"/><path d="M333.9,265.9 L336.1,265.5 L333.9,263.0 L331.7,263.2Z" fill="#ffc4c4"/><path d="M322.9,259.6 L325.1,260.2 L323.0,257.3 L320.8,256.5Z" fill="#ffa5a5"/><path d="M265.7,269.5 L267.6,263.0 L265.8,261.0 L263.9,267.5Z" fill="#ffc9c9"/><path d="M355.9,269.4 L358.0,268.5 L355.7,265.6 L353.6,266.5Z" fill="#ffd4d4"/><path d="M340.4,267.7 L342.6,267.0 L340.4,264.3 L338.2,265.0Z" fill="#ffcccc"/><path d="M265.8,261.0 L267.6,253.3 L265.8,251.5 L264.1,259.1Z" fill="#ff9898"/><path d="M327.3,263.2 L329.5,263.3 L327.3,260.6 L325.1,260.2Z" fill="#ffb5b5"/><path d="M347.1,269.1 L349.2,268.3 L347.0,265.4 L344.8,266.2Z" fill="#ffd1d1"/><path d="M362.5,270.4 L364.7,269.6 L362.3,266.9 L360.2,267.6Z" fill="#ffd8d8"/><path d="M265.8,251.5 L267.7,244.4 L265.9,242.7 L264.1,249.7Z" fill="#ff6767"/><path d="M294.4,234.8 L296.8,236.2 L294.9,234.8 L292.5,233.3Z" fill="#ff2626"/><path d="M369.2,271.6 L371.3,271.1 L368.9,268.6 L366.8,269.0Z" fill="#ffdfdf"/><path d="M353.7,270.3 L355.9,269.4 L353.6,266.5 L351.4,267.4Z" fill="#ffd5d5"/><path d="M283.4,228.6 L285.8,229.5 L284.0,228.2 L281.6,227.3Z" fill="#ff0404"/><path d="M338.3,268.3 L340.4,267.7 L338.2,265.0 L336.1,265.5Z" fill="#ffcbcb"/><path d="M331.6,266.2 L333.9,265.9 L331.7,263.2 L329.5,263.3Z" fill="#ffc1c1"/><path d="M298.8,237.9 L301.1,239.4 L299.2,237.8 L296.8,236.2Z" fill="#ff3434"/><path d="M344.9,270.0 L347.1,269.1 L344.8,266.2 L342.6,267.0Z" fill="#ffd2d2"/><path d="M360.3,271.3 L362.5,270.4 L360.2,267.6 L358.0,268.5Z" fill="#ffd9d9"/><path d="M351.5,271.3 L353.7,270.3 L351.4,267.4 L349.2,268.3Z" fill="#ffd7d7"/><path d="M303.1,241.3 L305.5,242.9 L303.5,241.0 L301.1,239.4Z" fill="#ff4343"/><path d="M367.0,272.2 L369.2,271.6 L366.8,269.0 L364.7,269.6Z" fill="#ffdddd"/><path d="M320.7,258.8 L322.9,259.6 L320.8,256.5 L318.5,255.4Z" fill="#ff9999"/><path d="M316.3,254.2 L318.5,255.4 L316.4,252.4 L314.2,251.0Z" fill="#ff8282"/><path d="M325.0,262.9 L327.3,263.2 L325.1,260.2 L322.9,259.6Z" fill="#ffadad"/><path d="M287.7,230.8 L290.1,232.0 L288.2,230.7 L285.8,229.5Z" fill="#ff0c0c"/><path d="M373.7,273.6 L375.8,273.1 L373.4,270.7 L371.3,271.1Z" fill="#ffe4e4"/><path d="M307.5,245.2 L309.8,246.8 L307.8,244.5 L305.5,242.9Z" fill="#ff5656"/><path d="M311.9,249.5 L314.2,251.0 L312.1,248.3 L309.8,246.8Z" fill="#ff6b6b"/><path d="M336.0,268.8 L338.3,268.3 L336.1,265.5 L333.9,265.9Z" fill="#ffcaca"/><path d="M358.2,272.2 L360.3,271.3 L358.0,268.5 L355.9,269.4Z" fill="#ffdada"/><path d="M342.7,270.7 L344.9,270.0 L342.6,267.0 L340.4,267.7Z" fill="#ffd2d2"/><path d="M329.4,266.3 L331.6,266.2 L329.5,263.3 L327.3,263.2Z" fill="#ffbcbc"/><path d="M349.3,272.2 L351.5,271.3 L349.2,268.3 L347.1,269.1Z" fill="#ffd8d8"/><path d="M267.4,271.6 L269.4,265.1 L267.6,263.0 L265.7,269.5Z" fill="#ffc9c9"/><path d="M281.0,228.2 L283.4,228.6 L281.6,227.3 L279.2,226.8Z" fill="#ff0000"/><path d="M364.9,273.0 L367.0,272.2 L364.7,269.6 L362.5,270.4Z" fill="#ffdddd"/><path d="M292.0,233.4 L294.4,234.8 L292.5,233.3 L290.1,232.0Z" fill="#ff1717"/><path d="M267.6,263.0 L269.4,255.2 L267.6,253.3 L265.8,261.0Z" fill="#ff9898"/><path d="M267.7,244.4 L269.7,238.7 L267.9,237.1 L265.9,242.7Z" fill="#ff3d3d"/><path d="M356.0,273.3 L358.2,272.2 L355.9,269.4 L353.7,270.3Z" fill="#ffdcdc"/><path d="M371.6,274.0 L373.7,273.6 L371.3,271.1 L369.2,271.6Z" fill="#ffe2e2"/><path d="M340.5,271.3 L342.7,270.7 L340.4,267.7 L338.3,268.3Z" fill="#ffd2d2"/><path d="M333.8,269.1 L336.0,268.8 L333.9,265.9 L331.6,266.2Z" fill="#ffc7c7"/><path d="M267.6,253.3 L269.5,246.1 L267.7,244.4 L265.8,251.5Z" fill="#ff6666"/><path d="M347.1,273.0 L349.3,272.2 L347.1,269.1 L344.9,270.0Z" fill="#ffd9d9"/><path d="M296.4,236.4 L298.8,237.9 L296.8,236.2 L294.4,234.8Z" fill="#ff2424"/><path d="M362.7,273.9 L364.9,273.0 L362.5,270.4 L360.3,271.3Z" fill="#ffdede"/><path d="M322.8,262.3 L325.0,262.9 L322.9,259.6 L320.7,258.8Z" fill="#ffa3a3"/><path d="M353.8,274.3 L356.0,273.3 L353.7,270.3 L351.5,271.3Z" fill="#ffdede"/><path d="M318.4,257.7 L320.7,258.8 L318.5,255.4 L316.3,254.2Z" fill="#ff8c8c"/><path d="M285.3,229.9 L287.7,230.8 L285.8,229.5 L283.4,228.6Z" fill="#ff0000"/><path d="M327.2,266.2 L329.4,266.3 L327.3,263.2 L325.0,262.9Z" fill="#ffb6b6"/><path d="M278.6,228.3 L281.0,228.2 L279.2,226.8 L276.8,227.0Z" fill="#ff0000"/><path d="M300.7,239.8 L303.1,241.3 L301.1,239.4 L298.8,237.9Z" fill="#ff3333"/><path d="M314.0,252.7 L316.3,254.2 L314.2,251.0 L311.9,249.5Z" fill="#ff7272"/><path d="M369.4,274.7 L371.6,274.0 L369.2,271.6 L367.0,272.2Z" fill="#ffe1e1"/><path d="M338.3,271.7 L340.5,271.3 L338.3,268.3 L336.0,268.8Z" fill="#ffd0d0"/><path d="M305.1,243.6 L307.5,245.2 L305.5,242.9 L303.1,241.3Z" fill="#ff4545"/><path d="M344.9,273.7 L347.1,273.0 L344.9,270.0 L342.7,270.7Z" fill="#ffd9d9"/><path d="M309.6,247.9 L311.9,249.5 L309.8,246.8 L307.5,245.2Z" fill="#ff5a5a"/><path d="M360.5,275.0 L362.7,273.9 L360.3,271.3 L358.2,272.2Z" fill="#ffdfdf"/><path d="M376.1,276.0 L378.2,275.6 L375.8,273.1 L373.7,273.6Z" fill="#ffe7e7"/><path d="M331.6,269.3 L333.8,269.1 L331.6,266.2 L329.4,266.3Z" fill="#ffc3c3"/><path d="M269.7,238.7 L271.8,234.3 L270.0,232.8 L267.9,237.1Z" fill="#ff1d1d"/><path d="M351.6,275.2 L353.8,274.3 L351.5,271.3 L349.3,272.2Z" fill="#ffdfdf"/><path d="M289.6,232.2 L292.0,233.4 L290.1,232.0 L287.7,230.8Z" fill="#ff0909"/><path d="M276.3,229.3 L278.6,228.3 L276.8,227.0 L274.5,227.9Z" fill="#ff0000"/><path d="M367.3,275.5 L369.4,274.7 L367.0,272.2 L364.9,273.0Z" fill="#ffe0e0"/><path d="M269.2,273.8 L271.2,267.3 L269.4,265.1 L267.4,271.6Z" fill="#ffc9c9"/><path d="M358.3,276.0 L360.5,275.0 L358.2,272.2 L356.0,273.3Z" fill="#ffe2e2"/><path d="M342.7,274.3 L344.9,273.7 L342.7,270.7 L340.5,271.3Z" fill="#ffd9d9"/><path d="M271.8,234.3 L274.0,231.3 L272.2,229.8 L270.0,232.8Z" fill="#ff0707"/><path d="M336.0,272.0 L338.3,271.7 L336.0,268.8 L333.8,269.1Z" fill="#ffcdcd"/><path d="M274.0,231.3 L276.3,229.3 L274.5,227.9 L272.2,229.8Z" fill="#ff0000"/><path d="M349.4,276.0 L351.6,275.2 L349.3,272.2 L347.1,273.0Z" fill="#ffe0e0"/><path d="M324.9,265.8 L327.2,266.2 L325.0,262.9 L322.8,262.3Z" fill="#ffadad"/><path d="M269.4,265.1 L271.2,257.4 L269.4,255.2 L267.6,263.0Z" fill="#ff9898"/><path d="M320.5,261.4 L322.8,262.3 L320.7,258.8 L318.4,257.7Z" fill="#ff9797"/><path d="M282.9,229.5 L285.3,229.9 L283.4,228.6 L281.0,228.2Z" fill="#ff0000"/><path d="M374.0,276.6 L376.1,276.0 L373.7,273.6 L371.6,274.0Z" fill="#ffe5e5"/><path d="M294.0,235.1 L296.4,236.4 L294.4,234.8 L292.0,233.4Z" fill="#ff1515"/><path d="M269.5,246.1 L271.5,240.3 L269.7,238.7 L267.7,244.4Z" fill="#ff3b3b"/><path d="M329.4,269.3 L331.6,269.3 L329.4,266.3 L327.2,266.2Z" fill="#ffbebe"/><path d="M316.1,256.4 L318.4,257.7 L316.3,254.2 L314.0,252.7Z" fill="#ff7d7d"/><path d="M356.1,277.1 L358.3,276.0 L356.0,273.3 L353.8,274.3Z" fill="#ffe4e4"/><path d="M365.1,276.5 L367.3,275.5 L364.9,273.0 L362.7,273.9Z" fill="#ffe2e2"/><path d="M269.4,255.2 L271.3,248.0 L269.5,246.1 L267.6,253.3Z" fill="#ff6565"/><path d="M298.4,238.4 L300.7,239.8 L298.8,237.9 L296.4,236.4Z" fill="#ff2323"/><path d="M311.7,251.2 L314.0,252.7 L311.9,249.5 L309.6,247.9Z" fill="#ff6262"/><path d="M347.2,276.7 L349.4,276.0 L347.1,273.0 L344.9,273.7Z" fill="#ffe0e0"/><path d="M340.5,274.6 L342.7,274.3 L340.5,271.3 L338.3,271.7Z" fill="#ffd7d7"/><path d="M302.8,242.1 L305.1,243.6 L303.1,241.3 L300.7,239.8Z" fill="#ff3535"/><path d="M371.8,277.2 L374.0,276.6 L371.6,274.0 L369.4,274.7Z" fill="#ffe4e4"/><path d="M307.2,246.3 L309.6,247.9 L307.5,245.2 L305.1,243.6Z" fill="#ff4949"/><path d="M333.8,272.2 L336.0,272.0 L333.8,269.1 L331.6,269.3Z" fill="#ffcaca"/><path d="M287.2,231.4 L289.6,232.2 L287.7,230.8 L285.3,229.9Z" fill="#ff0000"/><path d="M362.9,277.6 L365.1,276.5 L362.7,273.9 L360.5,275.0Z" fill="#ffe4e4"/><path d="M353.9,278.1 L356.1,277.1 L353.8,274.3 L351.6,275.2Z" fill="#ffe6e6"/><path d="M378.6,278.6 L380.7,278.1 L378.2,275.6 L376.1,276.0Z" fill="#ffeaea"/><path d="M280.5,229.7 L282.9,229.5 L281.0,228.2 L278.6,228.3Z" fill="#ff0000"/><path d="M322.7,265.2 L324.9,265.8 L322.8,262.3 L320.5,261.4Z" fill="#ffa3a3"/><path d="M271.5,240.3 L273.6,235.9 L271.8,234.3 L269.7,238.7Z" fill="#ff1b1b"/><path d="M327.1,269.1 L329.4,269.3 L327.2,266.2 L324.9,265.8Z" fill="#ffb7b7"/><path d="M345.0,277.2 L347.2,276.7 L344.9,273.7 L342.7,274.3Z" fill="#ffdfdf"/><path d="M360.7,278.7 L362.9,277.6 L360.5,275.0 L358.3,276.0Z" fill="#ffe6e6"/><path d="M369.7,278.1 L371.8,277.2 L369.4,274.7 L367.3,275.5Z" fill="#ffe4e4"/><path d="M318.2,260.3 L320.5,261.4 L318.4,257.7 L316.1,256.4Z" fill="#ff8a8a"/><path d="M338.3,274.9 L340.5,274.6 L338.3,271.7 L336.0,272.0Z" fill="#ffd3d3"/><path d="M351.7,278.9 L353.9,278.1 L351.6,275.2 L349.4,276.0Z" fill="#ffe7e7"/><path d="M291.5,234.0 L294.0,235.1 L292.0,233.4 L289.6,232.2Z" fill="#ff0707"/><path d="M271.0,275.9 L273.0,269.6 L271.2,267.3 L269.2,273.8Z" fill="#ffcaca"/><path d="M278.1,230.7 L280.5,229.7 L278.6,228.3 L276.3,229.3Z" fill="#ff0000"/><path d="M376.5,279.2 L378.6,278.6 L376.1,276.0 L374.0,276.6Z" fill="#ffe8e8"/><path d="M331.6,272.3 L333.8,272.2 L331.6,269.3 L329.4,269.3Z" fill="#ffc5c5"/><path d="M271.2,267.3 L273.1,259.6 L271.2,257.4 L269.4,265.1Z" fill="#ff9999"/><path d="M313.8,254.9 L316.1,256.4 L314.0,252.7 L311.7,251.2Z" fill="#ff6d6d"/><path d="M273.6,235.9 L275.8,232.7 L274.0,231.3 L271.8,234.3Z" fill="#ff0505"/><path d="M358.5,279.8 L360.7,278.7 L358.3,276.0 L356.1,277.1Z" fill="#ffe9e9"/><path d="M296.0,237.1 L298.4,238.4 L296.4,236.4 L294.0,235.1Z" fill="#ff1515"/><path d="M275.8,232.7 L278.1,230.7 L276.3,229.3 L274.0,231.3Z" fill="#ff0000"/><path d="M367.5,279.1 L369.7,278.1 L367.3,275.5 L365.1,276.5Z" fill="#ffe5e5"/><path d="M284.8,231.0 L287.2,231.4 L285.3,229.9 L282.9,229.5Z" fill="#ff0000"/><path d="M271.3,248.0 L273.3,242.1 L271.5,240.3 L269.5,246.1Z" fill="#ff3a3a"/><path d="M349.5,279.6 L351.7,278.9 L349.4,276.0 L347.2,276.7Z" fill="#ffe7e7"/><path d="M342.8,277.5 L345.0,277.2 L342.7,274.3 L340.5,274.6Z" fill="#ffdddd"/><path d="M271.2,257.4 L273.1,250.1 L271.3,248.0 L269.4,255.2Z" fill="#ff6565"/><path d="M309.3,249.6 L311.7,251.2 L309.6,247.9 L307.2,246.3Z" fill="#ff5151"/><path d="M300.4,240.6 L302.8,242.1 L300.7,239.8 L298.4,238.4Z" fill="#ff2525"/><path d="M304.8,244.8 L307.2,246.3 L305.1,243.6 L302.8,242.1Z" fill="#ff3939"/><path d="M336.0,275.0 L338.3,274.9 L336.0,272.0 L333.8,272.2Z" fill="#ffcfcf"/><path d="M374.3,279.9 L376.5,279.2 L374.0,276.6 L371.8,277.2Z" fill="#ffe7e7"/><path d="M324.8,268.8 L327.1,269.1 L324.9,265.8 L322.7,265.2Z" fill="#ffafaf"/><path d="M356.2,280.8 L358.5,279.8 L356.1,277.1 L353.9,278.1Z" fill="#ffebeb"/><path d="M320.4,264.4 L322.7,265.2 L320.5,261.4 L318.2,260.3Z" fill="#ff9898"/><path d="M365.3,280.2 L367.5,279.1 L365.1,276.5 L362.9,277.6Z" fill="#ffe7e7"/><path d="M381.1,281.4 L383.2,280.8 L380.7,278.1 L378.6,278.6Z" fill="#ffeeee"/><path d="M329.3,272.2 L331.6,272.3 L329.4,269.3 L327.1,269.1Z" fill="#ffbfbf"/><path d="M289.1,233.2 L291.5,234.0 L289.6,232.2 L287.2,231.4Z" fill="#ff0000"/><path d="M347.3,280.0 L349.5,279.6 L347.2,276.7 L345.0,277.2Z" fill="#ffe5e5"/><path d="M315.9,259.0 L318.2,260.3 L316.1,256.4 L313.8,254.9Z" fill="#ff7b7b"/><path d="M282.4,231.3 L284.8,231.0 L282.9,229.5 L280.5,229.7Z" fill="#ff0000"/><path d="M340.5,277.6 L342.8,277.5 L340.5,274.6 L338.3,274.9Z" fill="#ffd9d9"/><path d="M363.1,281.3 L365.3,280.2 L362.9,277.6 L360.7,278.7Z" fill="#ffeaea"/><path d="M354.0,281.6 L356.2,280.8 L353.9,278.1 L351.7,278.9Z" fill="#ffecec"/><path d="M372.1,280.8 L374.3,279.9 L371.8,277.2 L369.7,278.1Z" fill="#ffe7e7"/><path d="M273.3,242.1 L275.5,237.7 L273.6,235.9 L271.5,240.3Z" fill="#ff1a1a"/><path d="M333.8,275.0 L336.0,275.0 L333.8,272.2 L331.6,272.3Z" fill="#ffcaca"/><path d="M378.9,282.0 L381.1,281.4 L378.6,278.6 L376.5,279.2Z" fill="#ffeded"/><path d="M293.5,236.0 L296.0,237.1 L294.0,235.1 L291.5,234.0Z" fill="#ff0707"/><path d="M272.9,278.2 L274.9,271.9 L273.0,269.6 L271.0,275.9Z" fill="#ffcbcb"/><path d="M311.4,253.3 L313.8,254.9 L311.7,251.2 L309.3,249.6Z" fill="#ff5c5c"/><path d="M360.8,282.4 L363.1,281.3 L360.7,278.7 L358.5,279.8Z" fill="#ffecec"/><path d="M273.0,269.6 L274.9,262.0 L273.1,259.6 L271.2,267.3Z" fill="#ff9b9b"/><path d="M322.6,268.3 L324.8,268.8 L322.7,265.2 L320.4,264.4Z" fill="#ffa5a5"/><path d="M280.0,232.4 L282.4,231.3 L280.5,229.7 L278.1,230.7Z" fill="#ff0000"/><path d="M369.9,281.8 L372.1,280.8 L369.7,278.1 L367.5,279.1Z" fill="#ffe9e9"/><path d="M345.0,280.2 L347.3,280.0 L345.0,277.2 L342.8,277.5Z" fill="#ffe2e2"/><path d="M351.8,282.3 L354.0,281.6 L351.7,278.9 L349.5,279.6Z" fill="#ffecec"/><path d="M298.0,239.4 L300.4,240.6 L298.4,238.4 L296.0,237.1Z" fill="#ff1616"/><path d="M327.0,272.2 L329.3,272.2 L327.1,269.1 L324.8,268.8Z" fill="#ffb8b8"/><path d="M306.9,248.0 L309.3,249.6 L307.2,246.3 L304.8,244.8Z" fill="#ff4141"/><path d="M275.5,237.7 L277.7,234.5 L275.8,232.7 L273.6,235.9Z" fill="#ff0303"/><path d="M302.4,243.3 L304.8,244.8 L302.8,242.1 L300.4,240.6Z" fill="#ff2929"/><path d="M273.1,250.1 L275.2,244.2 L273.3,242.1 L271.3,248.0Z" fill="#ff3a3a"/><path d="M318.1,263.3 L320.4,264.4 L318.2,260.3 L315.9,259.0Z" fill="#ff8a8a"/><path d="M338.3,277.6 L340.5,277.6 L338.3,274.9 L336.0,275.0Z" fill="#ffd4d4"/><path d="M277.7,234.5 L280.0,232.4 L278.1,230.7 L275.8,232.7Z" fill="#ff0000"/><path d="M273.1,259.6 L275.0,252.4 L273.1,250.1 L271.2,257.4Z" fill="#ff6767"/><path d="M286.7,232.9 L289.1,233.2 L287.2,231.4 L284.8,231.0Z" fill="#ff0000"/><path d="M376.8,282.8 L378.9,282.0 L376.5,279.2 L374.3,279.9Z" fill="#ffecec"/><path d="M358.6,283.4 L360.8,282.4 L358.5,279.8 L356.2,280.8Z" fill="#ffeeee"/><path d="M383.6,284.4 L385.7,283.7 L383.2,280.8 L381.1,281.4Z" fill="#fff3f3"/><path d="M367.7,282.8 L369.9,281.8 L367.5,279.1 L365.3,280.2Z" fill="#ffebeb"/><path d="M331.5,275.1 L333.8,275.0 L331.6,272.3 L329.3,272.2Z" fill="#ffc5c5"/><path d="M313.6,257.6 L315.9,259.0 L313.8,254.9 L311.4,253.3Z" fill="#ff6b6b"/><path d="M349.6,282.7 L351.8,282.3 L349.5,279.6 L347.3,280.0Z" fill="#ffeaea"/><path d="M342.8,280.3 L345.0,280.2 L342.8,277.5 L340.5,277.6Z" fill="#ffdddd"/><path d="M291.1,235.2 L293.5,236.0 L291.5,234.0 L289.1,233.2Z" fill="#ff0000"/><path d="M374.6,283.6 L376.8,282.8 L374.3,279.9 L372.1,280.8Z" fill="#ffecec"/><path d="M356.4,284.3 L358.6,283.4 L356.2,280.8 L354.0,281.6Z" fill="#fff0f0"/><path d="M365.5,283.9 L367.7,282.8 L365.3,280.2 L363.1,281.3Z" fill="#ffeded"/><path d="M324.7,272.0 L327.0,272.2 L324.8,268.8 L322.6,268.3Z" fill="#ffb1b1"/><path d="M381.4,285.1 L383.6,284.4 L381.1,281.4 L378.9,282.0Z" fill="#fff2f2"/><path d="M336.0,277.7 L338.3,277.6 L336.0,275.0 L333.8,275.0Z" fill="#ffcfcf"/><path d="M284.3,233.2 L286.7,232.9 L284.8,231.0 L282.4,231.3Z" fill="#ff0000"/><path d="M320.2,267.7 L322.6,268.3 L320.4,264.4 L318.1,263.3Z" fill="#ff9a9a"/><path d="M309.1,251.8 L311.4,253.3 L309.3,249.6 L306.9,248.0Z" fill="#ff4c4c"/><path d="M275.2,244.2 L277.3,239.7 L275.5,237.7 L273.3,242.1Z" fill="#ff1a1a"/><path d="M295.5,238.3 L298.0,239.4 L296.0,237.1 L293.5,236.0Z" fill="#ff0909"/><path d="M274.8,280.5 L276.8,274.4 L274.9,271.9 L272.9,278.2Z" fill="#ffcdcd"/><path d="M329.2,275.3 L331.5,275.1 L329.3,272.2 L327.0,272.2Z" fill="#ffc0c0"/><path d="M363.3,285.0 L365.5,283.9 L363.1,281.3 L360.8,282.4Z" fill="#fff0f0"/><path d="M372.4,284.6 L374.6,283.6 L372.1,280.8 L369.9,281.8Z" fill="#ffeded"/><path d="M274.9,271.9 L276.9,264.4 L274.9,262.0 L273.0,269.6Z" fill="#ff9d9d"/><path d="M304.5,246.5 L306.9,248.0 L304.8,244.8 L302.4,243.3Z" fill="#ff3030"/><path d="M347.4,282.9 L349.6,282.7 L347.3,280.0 L345.0,280.2Z" fill="#ffe6e6"/><path d="M300.0,242.0 L302.4,243.3 L300.4,240.6 L298.0,239.4Z" fill="#ff1a1a"/><path d="M354.2,284.9 L356.4,284.3 L354.0,281.6 L351.8,282.3Z" fill="#ffefef"/><path d="M315.7,262.2 L318.1,263.3 L315.9,259.0 L313.6,257.6Z" fill="#ff7c7c"/><path d="M281.9,234.3 L284.3,233.2 L282.4,231.3 L280.0,232.4Z" fill="#ff0000"/><path d="M379.2,285.8 L381.4,285.1 L378.9,282.0 L376.8,282.8Z" fill="#fff2f2"/><path d="M340.6,280.2 L342.8,280.3 L340.5,277.6 L338.3,277.6Z" fill="#ffd8d8"/><path d="M275.0,252.4 L277.1,246.5 L275.2,244.2 L273.1,250.1Z" fill="#ff3c3c"/><path d="M274.9,262.0 L276.9,254.9 L275.0,252.4 L273.1,259.6Z" fill="#ff6969"/><path d="M277.3,239.7 L279.6,236.5 L277.7,234.5 L275.5,237.7Z" fill="#ff0303"/><path d="M386.1,287.3 L388.2,286.6 L385.7,283.7 L383.6,284.4Z" fill="#fff9f9"/><path d="M361.0,286.0 L363.3,285.0 L360.8,282.4 L358.6,283.4Z" fill="#fff2f2"/><path d="M288.7,235.0 L291.1,235.2 L289.1,233.2 L286.7,232.9Z" fill="#ff0000"/><path d="M370.2,285.6 L372.4,284.6 L369.9,281.8 L367.7,282.8Z" fill="#ffefef"/><path d="M279.6,236.5 L281.9,234.3 L280.0,232.4 L277.7,234.5Z" fill="#ff0000"/><path d="M333.8,277.8 L336.0,277.7 L333.8,275.0 L331.5,275.1Z" fill="#ffcaca"/><path d="M322.4,271.9 L324.7,272.0 L322.6,268.3 L320.2,267.7Z" fill="#ffa8a8"/><path d="M311.2,256.1 L313.6,257.6 L311.4,253.3 L309.1,251.8Z" fill="#ff5a5a"/><path d="M351.9,285.4 L354.2,284.9 L351.8,282.3 L349.6,282.7Z" fill="#ffeeee"/><path d="M326.9,275.5 L329.2,275.3 L327.0,272.2 L324.7,272.0Z" fill="#ffbaba"/><path d="M377.0,286.7 L379.2,285.8 L376.8,282.8 L374.6,283.6Z" fill="#fff2f2"/><path d="M317.9,267.0 L320.2,267.7 L318.1,263.3 L315.7,262.2Z" fill="#ff8e8e"/><path d="M345.1,282.9 L347.4,282.9 L345.0,280.2 L342.8,280.3Z" fill="#ffe1e1"/><path d="M367.9,286.7 L370.2,285.6 L367.7,282.8 L365.5,283.9Z" fill="#fff1f1"/><path d="M358.8,286.9 L361.0,286.0 L358.6,283.4 L356.4,284.3Z" fill="#fff3f3"/><path d="M383.9,288.1 L386.1,287.3 L383.6,284.4 L381.4,285.1Z" fill="#fff8f8"/><path d="M293.1,237.6 L295.5,238.3 L293.5,236.0 L291.1,235.2Z" fill="#ff0000"/><path d="M338.3,280.2 L340.6,280.2 L338.3,277.6 L336.0,277.7Z" fill="#ffd2d2"/><path d="M306.7,250.2 L309.1,251.8 L306.9,248.0 L304.5,246.5Z" fill="#ff3b3b"/><path d="M286.3,235.4 L288.7,235.0 L286.7,232.9 L284.3,233.2Z" fill="#ff0000"/><path d="M331.5,278.1 L333.8,277.8 L331.5,275.1 L329.2,275.3Z" fill="#ffc5c5"/><path d="M297.6,240.9 L300.0,242.0 L298.0,239.4 L295.5,238.3Z" fill="#ff0d0d"/><path d="M374.8,287.6 L377.0,286.7 L374.6,283.6 L372.4,284.6Z" fill="#fff3f3"/><path d="M302.1,245.1 L304.5,246.5 L302.4,243.3 L300.0,242.0Z" fill="#ff2121"/><path d="M277.1,246.5 L279.3,242.0 L277.3,239.7 L275.2,244.2Z" fill="#ff1c1c"/><path d="M313.4,261.0 L315.7,262.2 L313.6,257.6 L311.2,256.1Z" fill="#ff6d6d"/><path d="M276.7,282.9 L278.7,277.0 L276.8,274.4 L274.8,280.5Z" fill="#ffcfcf"/><path d="M365.7,287.7 L367.9,286.7 L365.5,283.9 L363.3,285.0Z" fill="#fff3f3"/><path d="M349.7,285.6 L351.9,285.4 L349.6,282.7 L347.4,282.9Z" fill="#ffeaea"/><path d="M276.8,274.4 L278.8,267.1 L276.9,264.4 L274.9,271.9Z" fill="#ffa0a0"/><path d="M356.6,287.6 L358.8,286.9 L356.4,284.3 L354.2,284.9Z" fill="#fff3f3"/><path d="M381.7,288.8 L383.9,288.1 L381.4,285.1 L379.2,285.8Z" fill="#fff8f8"/><path d="M320.1,271.8 L322.4,271.9 L320.2,267.7 L317.9,267.0Z" fill="#ffa0a0"/><path d="M324.6,275.8 L326.9,275.5 L324.7,272.0 L322.4,271.9Z" fill="#ffb5b5"/><path d="M342.9,282.8 L345.1,282.9 L342.8,280.3 L340.6,280.2Z" fill="#ffdbdb"/><path d="M283.9,236.6 L286.3,235.4 L284.3,233.2 L281.9,234.3Z" fill="#ff0000"/><path d="M276.9,264.4 L278.9,257.4 L276.9,254.9 L274.9,262.0Z" fill="#ff6c6c"/><path d="M276.9,254.9 L279.0,249.0 L277.1,246.5 L275.0,252.4Z" fill="#ff3f3f"/><path d="M372.6,288.5 L374.8,287.6 L372.4,284.6 L370.2,285.6Z" fill="#fff4f4"/><path d="M279.3,242.0 L281.5,238.7 L279.6,236.5 L277.3,239.7Z" fill="#ff0505"/><path d="M363.5,288.6 L365.7,287.7 L363.3,285.0 L361.0,286.0Z" fill="#fff5f5"/><path d="M336.0,280.4 L338.3,280.2 L336.0,277.7 L333.8,277.8Z" fill="#ffcdcd"/><path d="M290.7,237.4 L293.1,237.6 L291.1,235.2 L288.7,235.0Z" fill="#ff0000"/><path d="M315.6,266.3 L317.9,267.0 L315.7,262.2 L313.4,261.0Z" fill="#ff8282"/><path d="M308.8,254.7 L311.2,256.1 L309.1,251.8 L306.7,250.2Z" fill="#ff4a4a"/><path d="M281.5,238.7 L283.9,236.6 L281.9,234.3 L279.6,236.5Z" fill="#ff0000"/><path d="M329.2,278.6 L331.5,278.1 L329.2,275.3 L326.9,275.5Z" fill="#ffc1c1"/><path d="M379.5,289.7 L381.7,288.8 L379.2,285.8 L377.0,286.7Z" fill="#fff8f8"/><path d="M354.3,288.0 L356.6,287.6 L354.2,284.9 L351.9,285.4Z" fill="#fff1f1"/><path d="M347.5,285.6 L349.7,285.6 L347.4,282.9 L345.1,282.9Z" fill="#ffe5e5"/><path d="M370.4,289.5 L372.6,288.5 L370.2,285.6 L367.9,286.7Z" fill="#fff5f5"/><path d="M322.3,276.2 L324.6,275.8 L322.4,271.9 L320.1,271.8Z" fill="#ffb0b0"/><path d="M295.2,240.2 L297.6,240.9 L295.5,238.3 L293.1,237.6Z" fill="#ff0202"/><path d="M361.2,289.5 L363.5,288.6 L361.0,286.0 L358.8,286.9Z" fill="#fff6f6"/><path d="M304.3,248.9 L306.7,250.2 L304.5,246.5 L302.1,245.1Z" fill="#ff2c2c"/><path d="M317.8,271.7 L320.1,271.8 L317.9,267.0 L315.6,266.3Z" fill="#ff9797"/><path d="M299.7,244.1 L302.1,245.1 L300.0,242.0 L297.6,240.9Z" fill="#ff1414"/><path d="M340.6,282.8 L342.9,282.8 L340.6,280.2 L338.3,280.2Z" fill="#ffd5d5"/><path d="M377.3,290.5 L379.5,289.7 L377.0,286.7 L374.8,287.6Z" fill="#fff8f8"/><path d="M311.0,259.9 L313.4,261.0 L311.2,256.1 L308.8,254.7Z" fill="#ff5e5e"/><path d="M333.7,280.7 L336.0,280.4 L333.8,277.8 L331.5,278.1Z" fill="#ffc9c9"/><path d="M288.3,237.8 L290.7,237.4 L288.7,235.0 L286.3,235.4Z" fill="#ff0000"/><path d="M326.9,279.3 L329.2,278.6 L326.9,275.5 L324.6,275.8Z" fill="#ffbfbf"/><path d="M279.0,249.0 L281.2,244.5 L279.3,242.0 L277.1,246.5Z" fill="#ff1f1f"/><path d="M368.2,290.4 L370.4,289.5 L367.9,286.7 L365.7,287.7Z" fill="#fff7f7"/><path d="M278.6,285.4 L280.7,280.0 L278.7,277.0 L276.7,282.9Z" fill="#ffd2d2"/><path d="M352.1,288.3 L354.3,288.0 L351.9,285.4 L349.7,285.6Z" fill="#ffeded"/><path d="M278.7,277.0 L280.8,270.0 L278.8,267.1 L276.8,274.4Z" fill="#ffa4a4"/><path d="M359.0,290.2 L361.2,289.5 L358.8,286.9 L356.6,287.6Z" fill="#fff6f6"/><path d="M313.2,265.7 L315.6,266.3 L313.4,261.0 L311.0,259.9Z" fill="#ff7676"/><path d="M345.2,285.6 L347.5,285.6 L345.1,282.9 L342.9,282.8Z" fill="#ffdfdf"/><path d="M320.0,276.7 L322.3,276.2 L320.1,271.8 L317.8,271.7Z" fill="#ffacac"/><path d="M375.1,291.4 L377.3,290.5 L374.8,287.6 L372.6,288.5Z" fill="#fff9f9"/><path d="M278.8,267.1 L280.9,260.3 L278.9,257.4 L276.9,264.4Z" fill="#ff7070"/><path d="M278.9,257.4 L281.0,251.7 L279.0,249.0 L276.9,254.9Z" fill="#ff4343"/><path d="M285.9,239.0 L288.3,237.8 L286.3,235.4 L283.9,236.6Z" fill="#ff0000"/><path d="M306.4,253.5 L308.8,254.7 L306.7,250.2 L304.3,248.9Z" fill="#ff3b3b"/><path d="M281.2,244.5 L283.5,241.2 L281.5,238.7 L279.3,242.0Z" fill="#ff0808"/><path d="M365.9,291.3 L368.2,290.4 L365.7,287.7 L363.5,288.6Z" fill="#fff8f8"/><path d="M292.7,240.0 L295.2,240.2 L293.1,237.6 L290.7,237.4Z" fill="#ff0000"/><path d="M324.5,280.1 L326.9,279.3 L324.6,275.8 L322.3,276.2Z" fill="#ffbdbd"/><path d="M331.4,281.4 L333.7,280.7 L331.5,278.1 L329.2,278.6Z" fill="#ffc6c6"/><path d="M338.3,283.0 L340.6,282.8 L338.3,280.2 L336.0,280.4Z" fill="#ffd0d0"/><path d="M283.5,241.2 L285.9,239.0 L283.9,236.6 L281.5,238.7Z" fill="#ff0000"/><path d="M315.4,271.7 L317.8,271.7 L315.6,266.3 L313.2,265.7Z" fill="#ff8f8f"/><path d="M356.7,290.8 L359.0,290.2 L356.6,287.6 L354.3,288.0Z" fill="#fff4f4"/><path d="M301.8,247.8 L304.3,248.9 L302.1,245.1 L299.7,244.1Z" fill="#ff1e1e"/><path d="M297.2,243.3 L299.7,244.1 L297.6,240.9 L295.2,240.2Z" fill="#ff0808"/><path d="M349.8,288.4 L352.1,288.3 L349.7,285.6 L347.5,285.6Z" fill="#ffe9e9"/><path d="M372.9,292.3 L375.1,291.4 L372.6,288.5 L370.4,289.5Z" fill="#fffafa"/><path d="M363.7,292.2 L365.9,291.3 L363.5,288.6 L361.2,289.5Z" fill="#fff9f9"/><path d="M308.6,258.9 L311.0,259.9 L308.8,254.7 L306.4,253.5Z" fill="#ff5050"/><path d="M317.6,277.3 L320.0,276.7 L317.8,271.7 L315.4,271.7Z" fill="#ffa8a8"/><path d="M322.2,281.1 L324.5,280.1 L322.3,276.2 L320.0,276.7Z" fill="#ffbdbd"/><path d="M329.1,282.3 L331.4,281.4 L329.2,278.6 L326.9,279.3Z" fill="#ffc6c6"/><path d="M343.0,285.6 L345.2,285.6 L342.9,282.8 L340.6,282.8Z" fill="#ffd9d9"/><path d="M290.3,240.5 L292.7,240.0 L290.7,237.4 L288.3,237.8Z" fill="#ff0000"/><path d="M336.0,283.4 L338.3,283.0 L336.0,280.4 L333.7,280.7Z" fill="#ffcccc"/><path d="M281.0,251.7 L283.2,247.2 L281.2,244.5 L279.0,249.0Z" fill="#ff2323"/><path d="M280.5,288.1 L282.7,283.3 L280.7,280.0 L278.6,285.4Z" fill="#ffd7d7"/><path d="M280.7,280.0 L282.8,273.5 L280.8,270.0 L278.7,277.0Z" fill="#ffaaaa"/><path d="M310.8,265.2 L313.2,265.7 L311.0,259.9 L308.6,258.9Z" fill="#ff6a6a"/><path d="M370.7,293.2 L372.9,292.3 L370.4,289.5 L368.2,290.4Z" fill="#fffbfb"/><path d="M354.5,291.2 L356.7,290.8 L354.3,288.0 L352.1,288.3Z" fill="#fff1f1"/><path d="M313.1,271.7 L315.4,271.7 L313.2,265.7 L310.8,265.2Z" fill="#ff8888"/><path d="M361.4,293.0 L363.7,292.2 L361.2,289.5 L359.0,290.2Z" fill="#fff9f9"/><path d="M304.0,252.5 L306.4,253.5 L304.3,248.9 L301.8,247.8Z" fill="#ff2e2e"/><path d="M326.8,283.4 L329.1,282.3 L326.9,279.3 L324.5,280.1Z" fill="#ffc6c6"/><path d="M319.8,282.1 L322.2,281.1 L320.0,276.7 L317.6,277.3Z" fill="#ffbdbd"/><path d="M280.8,270.0 L282.9,263.5 L280.9,260.3 L278.8,267.1Z" fill="#ff7676"/><path d="M347.6,288.5 L349.8,288.4 L347.5,285.6 L345.2,285.6Z" fill="#ffe3e3"/><path d="M280.9,260.3 L283.0,254.6 L281.0,251.7 L278.9,257.4Z" fill="#ff4848"/><path d="M287.9,241.7 L290.3,240.5 L288.3,237.8 L285.9,239.0Z" fill="#ff0000"/><path d="M294.8,243.2 L297.2,243.3 L295.2,240.2 L292.7,240.0Z" fill="#ff0000"/><path d="M315.3,277.9 L317.6,277.3 L315.4,271.7 L313.1,271.7Z" fill="#ffa5a5"/><path d="M283.2,247.2 L285.5,243.9 L283.5,241.2 L281.2,244.5Z" fill="#ff0c0c"/><path d="M299.4,247.1 L301.8,247.8 L299.7,244.1 L297.2,243.3Z" fill="#ff1313"/><path d="M368.4,294.0 L370.7,293.2 L368.2,290.4 L365.9,291.3Z" fill="#fffbfb"/><path d="M333.7,284.1 L336.0,283.4 L333.7,280.7 L331.4,281.4Z" fill="#ffcaca"/><path d="M285.5,243.9 L287.9,241.7 L285.9,239.0 L283.5,241.2Z" fill="#ff0000"/><path d="M340.7,285.7 L343.0,285.6 L340.6,282.8 L338.3,283.0Z" fill="#ffd3d3"/><path d="M324.4,284.7 L326.8,283.4 L324.5,280.1 L322.2,281.1Z" fill="#ffc9c9"/><path d="M359.2,293.6 L361.4,293.0 L359.0,290.2 L356.7,290.8Z" fill="#fff8f8"/><path d="M306.2,258.2 L308.6,258.9 L306.4,253.5 L304.0,252.5Z" fill="#ff4444"/><path d="M317.5,283.2 L319.8,282.1 L317.6,277.3 L315.3,277.9Z" fill="#ffbdbd"/><path d="M352.2,291.5 L354.5,291.2 L352.1,288.3 L349.8,288.4Z" fill="#ffeded"/><path d="M308.4,264.9 L310.8,265.2 L308.6,258.9 L306.2,258.2Z" fill="#ff6060"/><path d="M310.7,271.9 L313.1,271.7 L310.8,265.2 L308.4,264.9Z" fill="#ff8181"/><path d="M366.2,294.9 L368.4,294.0 L365.9,291.3 L363.7,292.2Z" fill="#fffcfc"/><path d="M312.9,278.6 L315.3,277.9 L313.1,271.7 L310.7,271.9Z" fill="#ffa2a2"/><path d="M331.4,285.1 L333.7,284.1 L331.4,281.4 L329.1,282.3Z" fill="#ffcaca"/><path d="M292.4,243.6 L294.8,243.2 L292.7,240.0 L290.3,240.5Z" fill="#ff0000"/><path d="M282.7,283.3 L284.9,277.5 L282.8,273.5 L280.7,280.0Z" fill="#ffb3b3"/><path d="M345.3,288.6 L347.6,288.5 L345.2,285.6 L343.0,285.6Z" fill="#ffdddd"/><path d="M322.1,286.1 L324.4,284.7 L322.2,281.1 L319.8,282.1Z" fill="#ffcbcb"/><path d="M282.5,291.0 L284.8,287.0 L282.7,283.3 L280.5,288.1Z" fill="#ffdede"/><path d="M283.0,254.6 L285.3,250.2 L283.2,247.2 L281.0,251.7Z" fill="#ff2929"/><path d="M338.4,286.1 L340.7,285.7 L338.3,283.0 L336.0,283.4Z" fill="#ffcfcf"/><path d="M315.1,284.3 L317.5,283.2 L315.3,277.9 L312.9,278.6Z" fill="#ffbebe"/><path d="M301.5,251.9 L304.0,252.5 L301.8,247.8 L299.4,247.1Z" fill="#ff2323"/><path d="M282.8,273.5 L285.0,267.4 L282.9,263.5 L280.8,270.0Z" fill="#ff7f7f"/><path d="M356.9,294.2 L359.2,293.6 L356.7,290.8 L354.5,291.2Z" fill="#fff6f6"/><path d="M296.9,246.9 L299.4,247.1 L297.2,243.3 L294.8,243.2Z" fill="#ff0b0b"/><path d="M282.9,263.5 L285.1,258.1 L283.0,254.6 L280.9,260.3Z" fill="#ff4f4f"/><path d="M319.7,287.4 L322.1,286.1 L319.8,282.1 L317.5,283.2Z" fill="#ffcece"/><path d="M329.0,286.3 L331.4,285.1 L329.1,282.3 L326.8,283.4Z" fill="#ffcccc"/><path d="M350.0,291.7 L352.2,291.5 L349.8,288.4 L347.6,288.5Z" fill="#ffe8e8"/><path d="M290.0,244.9 L292.4,243.6 L290.3,240.5 L287.9,241.7Z" fill="#ff0000"/><path d="M363.9,295.7 L366.2,294.9 L363.7,292.2 L361.4,293.0Z" fill="#fffcfc"/><path d="M285.3,250.2 L287.6,247.0 L285.5,243.9 L283.2,247.2Z" fill="#ff1313"/><path d="M310.5,279.4 L312.9,278.6 L310.7,271.9 L308.3,272.3Z" fill="#ffa0a0"/><path d="M303.8,257.8 L306.2,258.2 L304.0,252.5 L301.5,251.9Z" fill="#ff3a3a"/><path d="M287.6,247.0 L290.0,244.9 L287.9,241.7 L285.5,243.9Z" fill="#ff0505"/><path d="M312.7,285.4 L315.1,284.3 L312.9,278.6 L310.5,279.4Z" fill="#ffbebe"/><path d="M308.3,272.3 L310.7,271.9 L308.4,264.9 L306.0,264.8Z" fill="#ff7c7c"/><path d="M343.0,288.8 L345.3,288.6 L343.0,285.6 L340.7,285.7Z" fill="#ffd8d8"/><path d="M326.7,287.7 L329.0,286.3 L326.8,283.4 L324.4,284.7Z" fill="#ffd0d0"/><path d="M306.0,264.8 L308.4,264.9 L306.2,258.2 L303.8,257.8Z" fill="#ff5858"/><path d="M317.3,288.8 L319.7,287.4 L317.5,283.2 L315.1,284.3Z" fill="#ffd2d2"/><path d="M336.0,286.8 L338.4,286.1 L336.0,283.4 L333.7,284.1Z" fill="#ffcdcd"/><path d="M284.8,287.0 L287.0,282.2 L284.9,277.5 L282.7,283.3Z" fill="#ffc0c0"/><path d="M354.6,294.7 L356.9,294.2 L354.5,291.2 L352.2,291.5Z" fill="#fff3f3"/><path d="M294.5,247.4 L296.9,246.9 L294.8,243.2 L292.4,243.6Z" fill="#ff0707"/><path d="M361.6,296.4 L363.9,295.7 L361.4,293.0 L359.2,293.6Z" fill="#fffbfb"/><path d="M299.1,251.7 L301.5,251.9 L299.4,247.1 L296.9,246.9Z" fill="#ff1b1b"/><path d="M324.3,289.2 L326.7,287.7 L324.4,284.7 L322.1,286.1Z" fill="#ffd4d4"/><path d="M308.1,280.2 L310.5,279.4 L308.3,272.3 L305.9,272.8Z" fill="#ff9f9f"/><path d="M284.9,277.5 L287.1,272.2 L285.0,267.4 L282.8,273.5Z" fill="#ff8d8d"/><path d="M310.4,286.5 L312.7,285.4 L310.5,279.4 L308.1,280.2Z" fill="#ffc0c0"/><path d="M315.0,290.1 L317.3,288.8 L315.1,284.3 L312.7,285.4Z" fill="#ffd4d4"/><path d="M347.7,292.0 L350.0,291.7 L347.6,288.5 L345.3,288.6Z" fill="#ffe3e3"/><path d="M285.1,258.1 L287.3,253.9 L285.3,250.2 L283.0,254.6Z" fill="#ff3232"/><path d="M284.5,294.0 L286.9,290.8 L284.8,287.0 L282.5,291.0Z" fill="#ffe6e6"/><path d="M333.7,287.8 L336.0,286.8 L333.7,284.1 L331.4,285.1Z" fill="#ffcece"/><path d="M305.9,272.8 L308.3,272.3 L306.0,264.8 L303.6,265.1Z" fill="#ff7878"/><path d="M285.0,267.4 L287.2,262.4 L285.1,258.1 L282.9,263.5Z" fill="#ff5b5b"/><path d="M321.9,290.7 L324.3,289.2 L322.1,286.1 L319.7,287.4Z" fill="#ffd9d9"/><path d="M340.7,289.2 L343.0,288.8 L340.7,285.7 L338.4,286.1Z" fill="#ffd4d4"/><path d="M292.1,248.6 L294.5,247.4 L292.4,243.6 L290.0,244.9Z" fill="#ff0808"/><path d="M301.3,257.8 L303.8,257.8 L301.5,251.9 L299.1,251.7Z" fill="#ff3232"/><path d="M303.6,265.1 L306.0,264.8 L303.8,257.8 L301.3,257.8Z" fill="#ff5252"/><path d="M359.4,297.2 L361.6,296.4 L359.2,293.6 L356.9,294.2Z" fill="#fffafa"/><path d="M312.6,291.3 L315.0,290.1 L312.7,285.4 L310.4,286.5Z" fill="#ffd7d7"/><path d="M308.0,287.6 L310.4,286.5 L308.1,280.2 L305.7,281.2Z" fill="#ffc1c1"/><path d="M352.4,295.2 L354.6,294.7 L352.2,291.5 L350.0,291.7Z" fill="#ffefef"/><path d="M287.3,253.9 L289.7,250.7 L287.6,247.0 L285.3,250.2Z" fill="#ff1c1c"/><path d="M305.7,281.2 L308.1,280.2 L305.9,272.8 L303.5,273.7Z" fill="#ff9f9f"/><path d="M289.7,250.7 L292.1,248.6 L290.0,244.9 L287.6,247.0Z" fill="#ff0e0e"/><path d="M331.3,289.1 L333.7,287.8 L331.4,285.1 L329.0,286.3Z" fill="#ffd0d0"/><path d="M286.9,290.8 L289.2,287.2 L287.0,282.2 L284.8,287.0Z" fill="#ffcfcf"/><path d="M319.6,292.1 L321.9,290.7 L319.7,287.4 L317.3,288.8Z" fill="#ffdddd"/><path d="M296.7,252.2 L299.1,251.7 L296.9,246.9 L294.5,247.4Z" fill="#ff1717"/><path d="M287.0,282.2 L289.3,277.8 L287.1,272.2 L284.9,277.5Z" fill="#ffa0a0"/><path d="M345.4,292.3 L347.7,292.0 L345.3,288.6 L343.0,288.8Z" fill="#ffdfdf"/><path d="M303.5,273.7 L305.9,272.8 L303.6,265.1 L301.2,265.8Z" fill="#ff7777"/><path d="M310.2,292.5 L312.6,291.3 L310.4,286.5 L308.0,287.6Z" fill="#ffdada"/><path d="M305.6,288.8 L308.0,287.6 L305.7,281.2 L303.3,282.4Z" fill="#ffc4c4"/><path d="M338.4,289.9 L340.7,289.2 L338.4,286.1 L336.0,286.8Z" fill="#ffd2d2"/><path d="M287.1,272.2 L289.4,267.7 L287.2,262.4 L285.0,267.4Z" fill="#ff6d6d"/><path d="M329.0,290.5 L331.3,289.1 L329.0,286.3 L326.7,287.7Z" fill="#ffd4d4"/><path d="M287.2,262.4 L289.5,258.4 L287.3,253.9 L285.1,258.1Z" fill="#ff3f3f"/><path d="M303.3,282.4 L305.7,281.2 L303.5,273.7 L301.0,274.9Z" fill="#ffa1a1"/><path d="M317.2,293.5 L319.6,292.1 L317.3,288.8 L315.0,290.1Z" fill="#ffe1e1"/><path d="M357.1,297.9 L359.4,297.2 L356.9,294.2 L354.6,294.7Z" fill="#fff8f8"/><path d="M298.9,258.4 L301.3,257.8 L299.1,251.7 L296.7,252.2Z" fill="#ff2f2f"/><path d="M301.2,265.8 L303.6,265.1 L301.3,257.8 L298.9,258.4Z" fill="#ff5050"/><path d="M294.2,253.4 L296.7,252.2 L294.5,247.4 L292.1,248.6Z" fill="#ff1818"/><path d="M289.2,287.2 L291.5,283.7 L289.3,277.8 L287.0,282.2Z" fill="#ffb7b7"/><path d="M350.1,295.7 L352.4,295.2 L350.0,291.7 L347.7,292.0Z" fill="#ffecec"/><path d="M286.6,296.9 L289.0,294.6 L286.9,290.8 L284.5,294.0Z" fill="#ffeeee"/><path d="M326.6,291.9 L329.0,290.5 L326.7,287.7 L324.3,289.2Z" fill="#ffd8d8"/><path d="M307.8,293.7 L310.2,292.5 L308.0,287.6 L305.6,288.8Z" fill="#ffdddd"/><path d="M303.2,290.1 L305.6,288.8 L303.3,282.4 L300.9,283.8Z" fill="#ffc7c7"/><path d="M301.0,274.9 L303.5,273.7 L301.2,265.8 L298.8,266.9Z" fill="#ff7878"/><path d="M300.9,283.8 L303.3,282.4 L301.0,274.9 L298.6,276.4Z" fill="#ffa5a5"/><path d="M289.5,258.4 L291.8,255.5 L289.7,250.7 L287.3,253.9Z" fill="#ff2b2b"/><path d="M289.3,277.8 L291.6,274.0 L289.4,267.7 L287.1,272.2Z" fill="#ff8585"/><path d="M314.8,294.8 L317.2,293.5 L315.0,290.1 L312.6,291.3Z" fill="#ffe5e5"/><path d="M291.8,255.5 L294.2,253.4 L292.1,248.6 L289.7,250.7Z" fill="#ff1e1e"/><path d="M289.0,294.6 L291.3,292.0 L289.2,287.2 L286.9,290.8Z" fill="#ffdede"/><path d="M336.0,290.9 L338.4,289.9 L336.0,286.8 L333.7,287.8Z" fill="#ffd2d2"/><path d="M343.1,292.8 L345.4,292.3 L343.0,288.8 L340.7,289.2Z" fill="#ffdcdc"/><path d="M289.4,267.7 L291.7,264.1 L289.5,258.4 L287.2,262.4Z" fill="#ff5353"/><path d="M296.5,259.6 L298.9,258.4 L296.7,252.2 L294.2,253.4Z" fill="#ff3030"/><path d="M291.5,283.7 L293.9,280.8 L291.6,274.0 L289.3,277.8Z" fill="#ffa2a2"/><path d="M298.8,266.9 L301.2,265.8 L298.9,258.4 L296.5,259.6Z" fill="#ff5151"/><path d="M298.5,285.4 L300.9,283.8 L298.6,276.4 L296.2,278.4Z" fill="#ffabab"/><path d="M324.2,293.4 L326.6,291.9 L324.3,289.2 L321.9,290.7Z" fill="#ffdddd"/><path d="M298.6,276.4 L301.0,274.9 L298.8,266.9 L296.3,268.6Z" fill="#ff7d7d"/><path d="M300.7,291.5 L303.2,290.1 L300.9,283.8 L298.5,285.4Z" fill="#ffcbcb"/><path d="M291.3,292.0 L293.7,289.5 L291.5,283.7 L289.2,287.2Z" fill="#ffcece"/><path d="M354.8,298.5 L357.1,297.9 L354.6,294.7 L352.4,295.2Z" fill="#fff7f7"/><path d="M305.4,294.9 L307.8,293.7 L305.6,288.8 L303.2,290.1Z" fill="#ffdfdf"/><path d="M296.1,287.3 L298.5,285.4 L296.2,278.4 L293.9,280.8Z" fill="#ffb3b3"/><path d="M293.7,289.5 L296.1,287.3 L293.9,280.8 L291.5,283.7Z" fill="#ffbfbf"/><path d="M312.4,296.0 L314.8,294.8 L312.6,291.3 L310.2,292.5Z" fill="#ffe8e8"/><path d="M293.9,280.8 L296.2,278.4 L294.0,271.0 L291.6,274.0Z" fill="#ff9191"/><path d="M296.2,278.4 L298.6,276.4 L296.3,268.6 L294.0,271.0Z" fill="#ff8585"/><path d="M291.6,274.0 L294.0,271.0 L291.7,264.1 L289.4,267.7Z" fill="#ff6f6f"/><path d="M294.1,261.5 L296.5,259.6 L294.2,253.4 L291.8,255.5Z" fill="#ff3636"/><path d="M291.7,264.1 L294.1,261.5 L291.8,255.5 L289.5,258.4Z" fill="#ff4141"/><path d="M296.3,268.6 L298.8,266.9 L296.5,259.6 L294.1,261.5Z" fill="#ff5656"/><path d="M347.7,296.2 L350.1,295.7 L347.7,292.0 L345.4,292.3Z" fill="#ffe9e9"/><path d="M298.3,292.9 L300.7,291.5 L298.5,285.4 L296.1,287.3Z" fill="#ffd1d1"/><path d="M333.6,292.0 L336.0,290.9 L333.7,287.8 L331.3,289.1Z" fill="#ffd4d4"/><path d="M321.8,294.8 L324.2,293.4 L321.9,290.7 L319.6,292.1Z" fill="#ffe2e2"/><path d="M294.0,271.0 L296.3,268.6 L294.1,261.5 L291.7,264.1Z" fill="#ff6060"/><path d="M302.9,296.1 L305.4,294.9 L303.2,290.1 L300.7,291.5Z" fill="#ffe3e3"/><path d="M340.7,293.5 L343.1,292.8 L340.7,289.2 L338.4,289.9Z" fill="#ffdada"/><path d="M295.9,294.6 L298.3,292.9 L296.1,287.3 L293.7,289.5Z" fill="#ffd8d8"/><path d="M310.0,297.2 L312.4,296.0 L310.2,292.5 L307.8,293.7Z" fill="#ffebeb"/><path d="M293.5,296.3 L295.9,294.6 L293.7,289.5 L291.3,292.0Z" fill="#ffe1e1"/><path d="M319.4,296.2 L321.8,294.8 L319.6,292.1 L317.2,293.5Z" fill="#ffe6e6"/><path d="M331.3,293.3 L333.6,292.0 L331.3,289.1 L329.0,290.5Z" fill="#ffd8d8"/><path d="M352.5,299.2 L354.8,298.5 L352.4,295.2 L350.1,295.7Z" fill="#fff5f5"/><path d="M291.1,298.1 L293.5,296.3 L291.3,292.0 L289.0,294.6Z" fill="#ffebeb"/><path d="M288.6,299.8 L291.1,298.1 L289.0,294.6 L286.6,296.9Z" fill="#fff5f5"/><path d="M300.5,297.3 L302.9,296.1 L300.7,291.5 L298.3,292.9Z" fill="#ffe6e6"/><path d="M345.4,296.8 L347.7,296.2 L345.4,292.3 L343.1,292.8Z" fill="#ffe6e6"/><path d="M307.5,298.4 L310.0,297.2 L307.8,293.7 L305.4,294.9Z" fill="#ffeded"/><path d="M317.0,297.4 L319.4,296.2 L317.2,293.5 L314.8,294.8Z" fill="#ffeaea"/><path d="M338.4,294.4 L340.7,293.5 L338.4,289.9 L336.0,290.9Z" fill="#ffdada"/><path d="M328.9,294.7 L331.3,293.3 L329.0,290.5 L326.6,291.9Z" fill="#ffdcdc"/><path d="M298.1,298.6 L300.5,297.3 L298.3,292.9 L295.9,294.6Z" fill="#ffebeb"/><path d="M350.1,299.9 L352.5,299.2 L350.1,295.7 L347.7,296.2Z" fill="#fff3f3"/><path d="M326.5,296.0 L328.9,294.7 L326.6,291.9 L324.2,293.4Z" fill="#ffe0e0"/><path d="M305.1,299.5 L307.5,298.4 L305.4,294.9 L302.9,296.1Z" fill="#fff0f0"/><path d="M314.6,298.7 L317.0,297.4 L314.8,294.8 L312.4,296.0Z" fill="#ffeded"/><path d="M295.6,299.9 L298.1,298.6 L295.9,294.6 L293.5,296.3Z" fill="#ffefef"/><path d="M343.1,297.6 L345.4,296.8 L343.1,292.8 L340.7,293.5Z" fill="#ffe5e5"/><path d="M336.0,295.4 L338.4,294.4 L336.0,290.9 L333.6,292.0Z" fill="#ffdbdb"/><path d="M324.1,297.3 L326.5,296.0 L324.2,293.4 L321.8,294.8Z" fill="#ffe4e4"/><path d="M293.2,301.3 L295.6,299.9 L293.5,296.3 L291.1,298.1Z" fill="#fff5f5"/><path d="M302.7,300.6 L305.1,299.5 L302.9,296.1 L300.5,297.3Z" fill="#fff2f2"/><path d="M312.2,299.8 L314.6,298.7 L312.4,296.0 L310.0,297.2Z" fill="#fff0f0"/><path d="M347.8,300.7 L350.1,299.9 L347.7,296.2 L345.4,296.8Z" fill="#fff1f1"/><path d="M333.6,296.6 L336.0,295.4 L333.6,292.0 L331.3,293.3Z" fill="#ffdddd"/><path d="M340.7,298.4 L343.1,297.6 L340.7,293.5 L338.4,294.4Z" fill="#ffe4e4"/><path d="M321.7,298.6 L324.1,297.3 L321.8,294.8 L319.4,296.2Z" fill="#ffe8e8"/><path d="M290.7,302.5 L293.2,301.3 L291.1,298.1 L288.6,299.8Z" fill="#fffafa"/><path d="M300.2,301.8 L302.7,300.6 L300.5,297.3 L298.1,298.6Z" fill="#fff5f5"/><path d="M309.7,301.0 L312.2,299.8 L310.0,297.2 L307.5,298.4Z" fill="#fff2f2"/><path d="M331.2,297.8 L333.6,296.6 L331.3,293.3 L328.9,294.7Z" fill="#ffe0e0"/><path d="M319.3,299.8 L321.7,298.6 L319.4,296.2 L317.0,297.4Z" fill="#ffebeb"/><path d="M345.5,301.5 L347.8,300.7 L345.4,296.8 L343.1,297.6Z" fill="#fff1f1"/><path d="M338.3,299.4 L340.7,298.4 L338.4,294.4 L336.0,295.4Z" fill="#ffe5e5"/><path d="M297.8,302.9 L300.2,301.8 L298.1,298.6 L295.6,299.9Z" fill="#fff7f7"/><path d="M307.3,302.1 L309.7,301.0 L307.5,298.4 L305.1,299.5Z" fill="#fff4f4"/><path d="M328.8,299.0 L331.2,297.8 L328.9,294.7 L326.5,296.0Z" fill="#ffe4e4"/><path d="M316.8,301.0 L319.3,299.8 L317.0,297.4 L314.6,298.7Z" fill="#ffeeee"/><path d="M343.1,302.4 L345.5,301.5 L343.1,297.6 L340.7,298.4Z" fill="#fff0f0"/><path d="M335.9,300.4 L338.3,299.4 L336.0,295.4 L333.6,296.6Z" fill="#ffe6e6"/><path d="M295.3,304.0 L297.8,302.9 L295.6,299.9 L293.2,301.3Z" fill="#fffafa"/><path d="M326.4,300.2 L328.8,299.0 L326.5,296.0 L324.1,297.3Z" fill="#ffe7e7"/><path d="M304.8,303.2 L307.3,302.1 L305.1,299.5 L302.7,300.6Z" fill="#fff6f6"/><path d="M314.4,302.1 L316.8,301.0 L314.6,298.7 L312.2,299.8Z" fill="#fff0f0"/><path d="M333.6,301.4 L335.9,300.4 L333.6,296.6 L331.2,297.8Z" fill="#ffe8e8"/><path d="M292.8,305.1 L295.3,304.0 L293.2,301.3 L290.7,302.5Z" fill="#fffcfc"/><path d="M324.0,301.3 L326.4,300.2 L324.1,297.3 L321.7,298.6Z" fill="#ffe9e9"/><path d="M340.7,303.3 L343.1,302.4 L340.7,298.4 L338.3,299.4Z" fill="#fff1f1"/><path d="M302.4,304.3 L304.8,303.2 L302.7,300.6 L300.2,301.8Z" fill="#fff8f8"/><path d="M312.0,303.2 L314.4,302.1 L312.2,299.8 L309.7,301.0Z" fill="#fff2f2"/><path d="M331.1,302.5 L333.6,301.4 L331.2,297.8 L328.8,299.0Z" fill="#ffeaea"/><path d="M321.5,302.4 L324.0,301.3 L321.7,298.6 L319.3,299.8Z" fill="#ffecec"/><path d="M299.9,305.4 L302.4,304.3 L300.2,301.8 L297.8,302.9Z" fill="#fffafa"/><path d="M338.3,304.2 L340.7,303.3 L338.3,299.4 L335.9,300.4Z" fill="#fff1f1"/><path d="M309.5,304.4 L312.0,303.2 L309.7,301.0 L307.3,302.1Z" fill="#fff4f4"/><path d="M328.7,303.5 L331.1,302.5 L328.8,299.0 L326.4,300.2Z" fill="#ffecec"/><path d="M319.1,303.5 L321.5,302.4 L319.3,299.8 L316.8,301.0Z" fill="#ffeeee"/><path d="M297.4,306.5 L299.9,305.4 L297.8,302.9 L295.3,304.0Z" fill="#fffcfc"/><path d="M335.9,305.2 L338.3,304.2 L335.9,300.4 L333.6,301.4Z" fill="#fff2f2"/><path d="M307.0,305.5 L309.5,304.4 L307.3,302.1 L304.8,303.2Z" fill="#fff6f6"/><path d="M326.3,304.6 L328.7,303.5 L326.4,300.2 L324.0,301.3Z" fill="#ffeeee"/><path d="M316.7,304.6 L319.1,303.5 L316.8,301.0 L314.4,302.1Z" fill="#fff0f0"/><path d="M294.9,307.6 L297.4,306.5 L295.3,304.0 L292.8,305.1Z" fill="#fffdfd"/><path d="M333.5,306.1 L335.9,305.2 L333.6,301.4 L331.1,302.5Z" fill="#fff3f3"/><path d="M304.5,306.6 L307.0,305.5 L304.8,303.2 L302.4,304.3Z" fill="#fff8f8"/><path d="M314.2,305.7 L316.7,304.6 L314.4,302.1 L312.0,303.2Z" fill="#fff2f2"/><path d="M323.9,305.6 L326.3,304.6 L324.0,301.3 L321.5,302.4Z" fill="#ffefef"/><path d="M331.1,307.1 L333.5,306.1 L331.1,302.5 L328.7,303.5Z" fill="#fff4f4"/><path d="M302.1,307.8 L304.5,306.6 L302.4,304.3 L299.9,305.4Z" fill="#fffafa"/><path d="M311.7,306.8 L314.2,305.7 L312.0,303.2 L309.5,304.4Z" fill="#fff3f3"/><path d="M321.4,306.6 L323.9,305.6 L321.5,302.4 L319.1,303.5Z" fill="#fff1f1"/><path d="M299.6,308.9 L302.1,307.8 L299.9,305.4 L297.4,306.5Z" fill="#fffbfb"/><path d="M328.6,308.0 L331.1,307.1 L328.7,303.5 L326.3,304.6Z" fill="#fff5f5"/><path d="M309.2,307.9 L311.7,306.8 L309.5,304.4 L307.0,305.5Z" fill="#fff5f5"/><path d="M319.0,307.6 L321.4,306.6 L319.1,303.5 L316.7,304.6Z" fill="#fff2f2"/><path d="M297.1,310.1 L299.6,308.9 L297.4,306.5 L294.9,307.6Z" fill="#fffdfd"/><path d="M326.2,309.0 L328.6,308.0 L326.3,304.6 L323.9,305.6Z" fill="#fff6f6"/><path d="M306.8,309.1 L309.2,307.9 L307.0,305.5 L304.5,306.6Z" fill="#fff7f7"/><path d="M316.5,308.6 L319.0,307.6 L316.7,304.6 L314.2,305.7Z" fill="#fff3f3"/><path d="M323.7,309.9 L326.2,309.0 L323.9,305.6 L321.4,306.6Z" fill="#fff6f6"/><path d="M304.3,310.2 L306.8,309.1 L304.5,306.6 L302.1,307.8Z" fill="#fff9f9"/><path d="M314.0,309.7 L316.5,308.6 L314.2,305.7 L311.7,306.8Z" fill="#fff5f5"/><path d="M321.3,310.9 L323.7,309.9 L321.4,306.6 L319.0,307.6Z" fill="#fff7f7"/><path d="M301.7,311.5 L304.3,310.2 L302.1,307.8 L299.6,308.9Z" fill="#fffbfb"/><path d="M311.5,310.7 L314.0,309.7 L311.7,306.8 L309.2,307.9Z" fill="#fff6f6"/><path d="M299.2,312.6 L301.7,311.5 L299.6,308.9 L297.1,310.1Z" fill="#fffdfd"/><path d="M318.8,311.8 L321.3,310.9 L319.0,307.6 L316.5,308.6Z" fill="#fff8f8"/><path d="M309.0,311.8 L311.5,310.7 L309.2,307.9 L306.8,309.1Z" fill="#fff7f7"/><path d="M316.3,312.8 L318.8,311.8 L316.5,308.6 L314.0,309.7Z" fill="#fff8f8"/><path d="M306.5,313.0 L309.0,311.8 L306.8,309.1 L304.3,310.2Z" fill="#fff9f9"/><path d="M304.0,314.1 L306.5,313.0 L304.3,310.2 L301.7,311.5Z" fill="#fffbfb"/><path d="M313.8,313.8 L316.3,312.8 L314.0,309.7 L311.5,310.7Z" fill="#fff9f9"/><path d="M301.4,315.2 L304.0,314.1 L301.7,311.5 L299.2,312.6Z" fill="#fffdfd"/><path d="M311.3,314.8 L313.8,313.8 L311.5,310.7 L309.0,311.8Z" fill="#fffafa"/><path d="M308.8,315.9 L311.3,314.8 L309.0,311.8 L306.5,313.0Z" fill="#fffbfb"/><path d="M306.2,316.9 L308.8,315.9 L306.5,313.0 L304.0,314.1Z" fill="#fffcfc"/><path d="M303.7,317.9 L306.2,316.9 L304.0,314.1 L301.4,315.2Z" fill="#fffefe"/></g>
<line x1="257.335" y1="228.23" x2="338.725" y2="206.578" stroke="#777" stroke-width="0.6"/>
<line x1="338.725" y1="206.578" x2="392.183" y2="246.311" stroke="#777" stroke-width="0.6"/>
<line x1="257.335" y1="228.23" x2="264.051" y2="302.973" stroke="#777" stroke-width="0.6"/>
<line x1="392.183" y1="246.311" x2="384.632" y2="323.344" stroke="#777" stroke-width="0.6"/>
<line x1="304.785" y1="355.577" x2="303.665" y2="318.004" stroke="#777" stroke-width="0.6"/>
<line x1="304.785" y1="355.577" x2="384.632" y2="323.344" stroke="#777" stroke-width="0.6"/>
<line x1="304.785" y1="355.577" x2="264.051" y2="302.973" stroke="#777" stroke-width="0.6"/>
<line x1="255.135" y1="228.23" x2="257.335" y2="228.23" stroke="#777" stroke-width="0.6"/>
<text x="254.735" y="231.03" font-size="7.9" text-anchor="end" fill="#111" stroke="#111" stroke-width="0.142">60</text>
<line x1="256.359" y1="241.854" x2="258.559" y2="241.854" stroke="#777" stroke-width="0.6"/>
<text x="255.959" y="244.654" font-size="7.9" text-anchor="end" fill="#111" stroke="#111" stroke-width="0.142">40</text>
<line x1="257.538" y1="254.977" x2="259.738" y2="254.977" stroke="#777" stroke-width="0.6"/>
<text x="257.138" y="257.777" font-size="7.9" text-anchor="end" fill="#111" stroke="#111" stroke-width="0.142">20</text>
<line x1="258.675" y1="267.626" x2="260.875" y2="267.626" stroke="#777" stroke-width="0.6"/>
<text x="258.275" y="270.426" font-size="7.9" text-anchor="end" fill="#111" stroke="#111" stroke-width="0.142">0</text>
<line x1="259.771" y1="279.826" x2="261.971" y2="279.826" stroke="#777" stroke-width="0.6"/>
<text x="259.371" y="282.626" font-size="7.9" text-anchor="end" fill="#111" stroke="#111" stroke-width="0.142">&#8722;20</text>
<line x1="260.829" y1="291.601" x2="263.029" y2="291.601" stroke="#777" stroke-width="0.6"/>
<text x="260.429" y="294.401" font-size="7.9" text-anchor="end" fill="#111" stroke="#111" stroke-width="0.142">&#8722;40</text>
<line x1="261.851" y1="302.973" x2="264.051" y2="302.973" stroke="#777" stroke-width="0.6"/>
<text x="261.451" y="305.773" font-size="7.9" text-anchor="end" fill="#111" stroke="#111" stroke-width="0.142">&#8722;60</text>
<line x1="319.025" y1="349.829" x2="320.961" y2="352.189" stroke="#777" stroke-width="0.6"/>
<text x="318.4" y="362.3" font-size="7.9" text-anchor="middle" fill="#111" stroke="#111" stroke-width="0.142">10</text>
<line x1="332.871" y1="344.239" x2="334.86" y2="346.534" stroke="#777" stroke-width="0.6"/>
<text x="332.5" y="356.7" font-size="7.9" text-anchor="middle" fill="#111" stroke="#111" stroke-width="0.142">30</text>
<line x1="346.34" y1="338.802" x2="348.378" y2="341.035" stroke="#777" stroke-width="0.6"/>
<text x="347.3" y="351.1" font-size="7.9" text-anchor="middle" fill="#111" stroke="#111" stroke-width="0.142">100</text>
<line x1="359.447" y1="333.511" x2="361.531" y2="335.684" stroke="#777" stroke-width="0.6"/>
<text x="360.1" y="345.4" font-size="7.9" text-anchor="middle" fill="#111" stroke="#111" stroke-width="0.142">300</text>
<line x1="372.206" y1="328.36" x2="374.333" y2="330.476" stroke="#777" stroke-width="0.6"/>
<text x="372.6" y="340.9" font-size="7.9" text-anchor="middle" fill="#111" stroke="#111" stroke-width="0.142">600</text>
<line x1="384.632" y1="323.344" x2="386.798" y2="325.405" stroke="#777" stroke-width="0.6"/>
<text x="387.1" y="335.5" font-size="7.9" text-anchor="middle" fill="#111" stroke="#111" stroke-width="0.142">1000</text>
<line x1="297.184" y1="345.762" x2="293.764" y2="347.099" stroke="#777" stroke-width="0.6"/>
<text x="292.9" y="359.9" font-size="7.9" text-anchor="middle" fill="#111" stroke="#111" stroke-width="0.142">10</text>
<line x1="289.938" y1="336.404" x2="286.575" y2="337.68" stroke="#777" stroke-width="0.6"/>
<text x="285.3" y="350.2" font-size="7.9" text-anchor="middle" fill="#111" stroke="#111" stroke-width="0.142">30</text>
<line x1="283.023" y1="327.474" x2="279.715" y2="328.692" stroke="#777" stroke-width="0.6"/>
<text x="278.7" y="341.2" font-size="7.9" text-anchor="middle" fill="#111" stroke="#111" stroke-width="0.142">100</text>
<line x1="276.417" y1="318.943" x2="273.162" y2="320.107" stroke="#777" stroke-width="0.6"/>
<text x="269.5" y="332.7" font-size="7.9" text-anchor="middle" fill="#111" stroke="#111" stroke-width="0.142">300</text>
<line x1="270.099" y1="310.784" x2="266.896" y2="311.897" stroke="#777" stroke-width="0.6"/>
<text x="263.2" y="324.4" font-size="7.9" text-anchor="middle" fill="#111" stroke="#111" stroke-width="0.142">600</text>
<line x1="264.051" y1="302.973" x2="260.898" y2="304.04" stroke="#777" stroke-width="0.6"/>
<text x="256.4" y="316.4" font-size="7.9" text-anchor="middle" fill="#111" stroke="#111" stroke-width="0.142">1000</text>
<text transform="translate(297.994,213.378) rotate(-14.897)" font-size="10.2" text-anchor="middle" fill="#111" stroke="#111" stroke-width="0.16" textLength="82" lengthAdjust="spacingAndGlyphs">ZIP synergy: 20.19</text>
<text transform="matrix(0.9273,-0.3743,0.3743,0.9273,357.58,361.94)" font-size="7.3" text-anchor="middle" fill="#111" stroke="#111" stroke-width="0.131">VTP50469 (nM)</text>
<text transform="matrix(0.6123,0.7907,-0.5429,0.8398,260.67,342.71)" font-size="7.3" text-anchor="middle" fill="#111" stroke="#111" stroke-width="0.131">WM1119 (nM)</text>
<text transform="matrix(0.9273,-0.3743,0.3743,0.9273,343.43,336.30)" font-size="9.9" text-anchor="middle" fill="#111" stroke="#111" stroke-width="0.160">MOLM-13</text>
<text x="391" y="283.5" font-size="9.4" text-anchor="start" fill="#111" stroke="#111" stroke-width="0.16">&#948;-score</text>
<defs><linearGradient id="lg283" x1="0" y1="0" x2="0" y2="1"><stop offset="0" stop-color="#ff0000"/><stop offset="0.5" stop-color="#ffffff"/><stop offset="1" stop-color="#00e000"/></linearGradient></defs>
<rect x="392.8" y="285" width="7.1" height="36.5" fill="url(#lg283)" stroke="none" stroke-width="1"/>
<text x="402.1" y="291.2" font-size="7.4" text-anchor="start" fill="#111" stroke="#111" stroke-width="0.133">60</text>
<text x="402.1" y="298.9" font-size="7.4" text-anchor="start" fill="#111" stroke="#111" stroke-width="0.133">30</text>
<text x="402.1" y="306.9" font-size="7.4" text-anchor="start" fill="#111" stroke="#111" stroke-width="0.133">0</text>
<text x="402.1" y="314.8" font-size="7.4" text-anchor="start" fill="#111" stroke="#111" stroke-width="0.133">&#8722;30</text>
<text x="402.1" y="322.2" font-size="7.4" text-anchor="start" fill="#111" stroke="#111" stroke-width="0.133">&#8722;60</text>
<text transform="translate(243,271) rotate(-90)" font-size="9.6" text-anchor="middle" fill="#111" stroke="#111" stroke-width="0.16">&#948;-score</text>
<text x="228.3" y="403.9" font-size="12" text-anchor="start" fill="#222" stroke="#222" stroke-width="0.16">H</text>
<line x1="268.183" y1="501.735" x2="344.819" y2="476.226" stroke="#222" stroke-width="0.9" stroke-dasharray="2.2,1.9"/>
<line x1="394.166" y1="523.758" x2="344.819" y2="476.226" stroke="#222" stroke-width="0.9" stroke-dasharray="2.2,1.9"/>
<line x1="344.819" y1="476.226" x2="346.566" y2="400.542" stroke="#222" stroke-width="0.9" stroke-dasharray="2.2,1.9"/>
<line x1="260.716" y1="422.603" x2="307.127" y2="472.222" stroke="#777" stroke-width="0.6"/>
<line x1="402.651" y1="441.962" x2="307.127" y2="472.222" stroke="#777" stroke-width="0.6"/>
<g stroke="#222" stroke-width="0.24" stroke-linejoin="round"><path d="M345.9,431.3 L348.1,430.7 L345.9,428.2 L343.7,428.9Z" fill="#ffa5a5"/><path d="M343.8,431.8 L345.9,431.3 L343.7,428.9 L341.6,429.6Z" fill="#ffa5a5"/><path d="M341.5,432.3 L343.8,431.8 L341.6,429.6 L339.4,430.1Z" fill="#ffa4a4"/><path d="M348.2,433.7 L350.4,433.2 L348.1,430.7 L345.9,431.3Z" fill="#ffa9a9"/><path d="M339.3,432.6 L341.5,432.3 L339.4,430.1 L337.2,430.5Z" fill="#ffa3a3"/><path d="M346.0,434.1 L348.2,433.7 L345.9,431.3 L343.8,431.8Z" fill="#ffa9a9"/><path d="M337.1,432.7 L339.3,432.6 L337.2,430.5 L334.9,430.8Z" fill="#ffa0a0"/><path d="M343.8,434.4 L346.0,434.1 L343.8,431.8 L341.5,432.3Z" fill="#ffa7a7"/><path d="M350.4,436.0 L352.6,435.6 L350.4,433.2 L348.2,433.7Z" fill="#ffaeae"/><path d="M334.9,432.8 L337.1,432.7 L334.9,430.8 L332.7,431.0Z" fill="#ff9d9d"/><path d="M341.5,434.6 L343.8,434.4 L341.5,432.3 L339.3,432.6Z" fill="#ffa4a4"/><path d="M348.2,436.3 L350.4,436.0 L348.2,433.7 L346.0,434.1Z" fill="#ffacac"/><path d="M332.6,432.8 L334.9,432.8 L332.7,431.0 L330.5,431.0Z" fill="#ff9999"/><path d="M339.3,434.6 L341.5,434.6 L339.3,432.6 L337.1,432.7Z" fill="#ffa1a1"/><path d="M346.0,436.4 L348.2,436.3 L346.0,434.1 L343.8,434.4Z" fill="#ffa9a9"/><path d="M352.7,438.2 L354.9,437.9 L352.6,435.6 L350.4,436.0Z" fill="#ffb1b1"/><path d="M330.4,432.6 L332.6,432.8 L330.5,431.0 L328.2,430.9Z" fill="#ff9393"/><path d="M337.1,434.6 L339.3,434.6 L337.1,432.7 L334.9,432.8Z" fill="#ff9d9d"/><path d="M343.8,436.5 L346.0,436.4 L343.8,434.4 L341.5,434.6Z" fill="#ffa5a5"/><path d="M350.5,438.4 L352.7,438.2 L350.4,436.0 L348.2,436.3Z" fill="#ffaeae"/><path d="M328.1,432.4 L330.4,432.6 L328.2,430.9 L325.9,430.7Z" fill="#ff8e8e"/><path d="M334.8,434.5 L337.1,434.6 L334.9,432.8 L332.6,432.8Z" fill="#ff9898"/><path d="M341.6,436.4 L343.8,436.5 L341.5,434.6 L339.3,434.6Z" fill="#ffa1a1"/><path d="M348.3,438.4 L350.5,438.4 L348.2,436.3 L346.0,436.4Z" fill="#ffaaaa"/><path d="M355.0,440.4 L357.2,440.1 L354.9,437.9 L352.7,438.2Z" fill="#ffb3b3"/><path d="M332.5,434.3 L334.8,434.5 L332.6,432.8 L330.4,432.6Z" fill="#ff9292"/><path d="M325.8,432.1 L328.1,432.4 L325.9,430.7 L323.7,430.4Z" fill="#ff8787"/><path d="M339.3,436.3 L341.6,436.4 L339.3,434.6 L337.1,434.6Z" fill="#ff9c9c"/><path d="M346.1,438.4 L348.3,438.4 L346.0,436.4 L343.8,436.5Z" fill="#ffa6a6"/><path d="M352.8,440.5 L355.0,440.4 L352.7,438.2 L350.5,438.4Z" fill="#ffb0b0"/><path d="M330.3,434.1 L332.5,434.3 L330.4,432.6 L328.1,432.4Z" fill="#ff8c8c"/><path d="M337.0,436.2 L339.3,436.3 L337.1,434.6 L334.8,434.5Z" fill="#ff9696"/><path d="M343.8,438.2 L346.1,438.4 L343.8,436.5 L341.6,436.4Z" fill="#ffa1a1"/><path d="M323.5,431.7 L325.8,432.1 L323.7,430.4 L321.4,430.0Z" fill="#ff8080"/><path d="M350.6,440.4 L352.8,440.5 L350.5,438.4 L348.3,438.4Z" fill="#ffabab"/><path d="M357.4,442.5 L359.6,442.3 L357.2,440.1 L355.0,440.4Z" fill="#ffb5b5"/><path d="M334.8,435.9 L337.0,436.2 L334.8,434.5 L332.5,434.3Z" fill="#ff9090"/><path d="M328.0,433.7 L330.3,434.1 L328.1,432.4 L325.8,432.1Z" fill="#ff8585"/><path d="M355.2,442.6 L357.4,442.5 L355.0,440.4 L352.8,440.5Z" fill="#ffb1b1"/><path d="M341.6,438.0 L343.8,438.2 L341.6,436.4 L339.3,436.3Z" fill="#ff9b9b"/><path d="M348.4,440.3 L350.6,440.4 L348.3,438.4 L346.1,438.4Z" fill="#ffa6a6"/><path d="M321.2,431.2 L323.5,431.7 L321.4,430.0 L319.0,429.5Z" fill="#ff7878"/><path d="M352.9,442.5 L355.2,442.6 L352.8,440.5 L350.6,440.4Z" fill="#ffacac"/><path d="M359.8,444.7 L362.0,444.5 L359.6,442.3 L357.4,442.5Z" fill="#ffb6b6"/><path d="M332.5,435.7 L334.8,435.9 L332.5,434.3 L330.3,434.1Z" fill="#ff8a8a"/><path d="M346.1,440.1 L348.4,440.3 L346.1,438.4 L343.8,438.2Z" fill="#ffa0a0"/><path d="M339.3,437.8 L341.6,438.0 L339.3,436.3 L337.0,436.2Z" fill="#ff9595"/><path d="M325.6,433.4 L328.0,433.7 L325.8,432.1 L323.5,431.7Z" fill="#ff7e7e"/><path d="M318.8,430.7 L321.2,431.2 L319.0,429.5 L316.7,428.9Z" fill="#ff6f6f"/><path d="M357.5,444.7 L359.8,444.7 L357.4,442.5 L355.2,442.6Z" fill="#ffb2b2"/><path d="M350.7,442.3 L352.9,442.5 L350.6,440.4 L348.4,440.3Z" fill="#ffa6a6"/><path d="M343.9,439.8 L346.1,440.1 L343.8,438.2 L341.6,438.0Z" fill="#ff9999"/><path d="M337.0,437.5 L339.3,437.8 L337.0,436.2 L334.8,435.9Z" fill="#ff8e8e"/><path d="M330.2,435.4 L332.5,435.7 L330.3,434.1 L328.0,433.7Z" fill="#ff8383"/><path d="M323.3,432.9 L325.6,433.4 L323.5,431.7 L321.2,431.2Z" fill="#ff7676"/><path d="M316.4,430.0 L318.8,430.7 L316.7,428.9 L314.3,428.2Z" fill="#ff6666"/><path d="M362.2,447.0 L364.4,446.8 L362.0,444.5 L359.8,444.7Z" fill="#ffb8b8"/><path d="M355.3,444.6 L357.5,444.7 L355.2,442.6 L352.9,442.5Z" fill="#ffadad"/><path d="M348.4,442.0 L350.7,442.3 L348.4,440.3 L346.1,440.1Z" fill="#ff9f9f"/><path d="M341.6,439.5 L343.9,439.8 L341.6,438.0 L339.3,437.8Z" fill="#ff9393"/><path d="M334.7,437.3 L337.0,437.5 L334.8,435.9 L332.5,435.7Z" fill="#ff8888"/><path d="M327.8,435.1 L330.2,435.4 L328.0,433.7 L325.6,433.4Z" fill="#ff7c7c"/><path d="M320.9,432.5 L323.3,432.9 L321.2,431.2 L318.8,430.7Z" fill="#ff6e6e"/><path d="M314.0,429.4 L316.4,430.0 L314.3,428.2 L311.9,427.5Z" fill="#ff5d5d"/><path d="M359.9,447.0 L362.2,447.0 L359.8,444.7 L357.5,444.7Z" fill="#ffb3b3"/><path d="M353.1,444.3 L355.3,444.6 L352.9,442.5 L350.7,442.3Z" fill="#ffa6a6"/><path d="M346.2,441.7 L348.4,442.0 L346.1,440.1 L343.9,439.8Z" fill="#ff9999"/><path d="M339.3,439.2 L341.6,439.5 L339.3,437.8 L337.0,437.5Z" fill="#ff8c8c"/><path d="M332.4,437.0 L334.7,437.3 L332.5,435.7 L330.2,435.4Z" fill="#ff8181"/><path d="M325.5,434.7 L327.8,435.1 L325.6,433.4 L323.3,432.9Z" fill="#ff7575"/><path d="M318.6,431.9 L320.9,432.5 L318.8,430.7 L316.4,430.0Z" fill="#ff6565"/><path d="M364.6,449.4 L366.8,449.2 L364.4,446.8 L362.2,447.0Z" fill="#ffbaba"/><path d="M357.7,446.8 L359.9,447.0 L357.5,444.7 L355.3,444.6Z" fill="#ffaeae"/><path d="M311.6,428.7 L314.0,429.4 L311.9,427.5 L309.5,426.7Z" fill="#ff5353"/><path d="M350.8,444.0 L353.1,444.3 L350.7,442.3 L348.4,442.0Z" fill="#ffa0a0"/><path d="M343.9,441.4 L346.2,441.7 L343.9,439.8 L341.6,439.5Z" fill="#ff9292"/><path d="M337.0,439.0 L339.3,439.2 L337.0,437.5 L334.7,437.3Z" fill="#ff8585"/><path d="M330.0,436.8 L332.4,437.0 L330.2,435.4 L327.8,435.1Z" fill="#ff7a7a"/><path d="M323.1,434.3 L325.5,434.7 L323.3,432.9 L320.9,432.5Z" fill="#ff6d6d"/><path d="M362.4,449.3 L364.6,449.4 L362.2,447.0 L359.9,447.0Z" fill="#ffb5b5"/><path d="M316.2,431.3 L318.6,431.9 L316.4,430.0 L314.0,429.4Z" fill="#ff5c5c"/><path d="M355.5,446.5 L357.7,446.8 L355.3,444.6 L353.1,444.3Z" fill="#ffa7a7"/><path d="M348.5,443.7 L350.8,444.0 L348.4,442.0 L346.2,441.7Z" fill="#ff9898"/><path d="M309.2,428.0 L311.6,428.7 L309.5,426.7 L307.1,425.9Z" fill="#ff4949"/><path d="M341.6,441.0 L343.9,441.4 L341.6,439.5 L339.3,439.2Z" fill="#ff8a8a"/><path d="M334.6,438.7 L337.0,439.0 L334.7,437.3 L332.4,437.0Z" fill="#ff7f7f"/><path d="M327.7,436.5 L330.0,436.8 L327.8,435.1 L325.5,434.7Z" fill="#ff7373"/><path d="M320.7,433.8 L323.1,434.3 L320.9,432.5 L318.6,431.9Z" fill="#ff6565"/><path d="M367.1,451.8 L369.3,451.7 L366.8,449.2 L364.6,449.4Z" fill="#ffbdbd"/><path d="M360.1,449.1 L362.4,449.3 L359.9,447.0 L357.7,446.8Z" fill="#ffafaf"/><path d="M313.8,430.7 L316.2,431.3 L314.0,429.4 L311.6,428.7Z" fill="#ff5353"/><path d="M353.2,446.2 L355.5,446.5 L353.1,444.3 L350.8,444.0Z" fill="#ffa0a0"/><path d="M346.2,443.4 L348.5,443.7 L346.2,441.7 L343.9,441.4Z" fill="#ff9191"/><path d="M339.3,440.8 L341.6,441.0 L339.3,439.2 L337.0,439.0Z" fill="#ff8484"/><path d="M332.3,438.5 L334.6,438.7 L332.4,437.0 L330.0,436.8Z" fill="#ff7878"/><path d="M306.8,427.4 L309.2,428.0 L307.1,425.9 L304.7,425.2Z" fill="#ff4040"/><path d="M325.3,436.2 L327.7,436.5 L325.5,434.7 L323.1,434.3Z" fill="#ff6c6c"/><path d="M364.8,451.7 L367.1,451.8 L364.6,449.4 L362.4,449.3Z" fill="#ffb8b8"/><path d="M318.3,433.3 L320.7,433.8 L318.6,431.9 L316.2,431.3Z" fill="#ff5c5c"/><path d="M357.9,448.8 L360.1,449.1 L357.7,446.8 L355.5,446.5Z" fill="#ffa9a9"/><path d="M350.9,445.9 L353.2,446.2 L350.8,444.0 L348.5,443.7Z" fill="#ff9999"/><path d="M311.3,430.1 L313.8,430.7 L311.6,428.7 L309.2,428.0Z" fill="#ff4a4a"/><path d="M343.9,443.0 L346.2,443.4 L343.9,441.4 L341.6,441.0Z" fill="#ff8a8a"/><path d="M369.5,454.5 L371.8,454.4 L369.3,451.7 L367.1,451.8Z" fill="#ffc0c0"/><path d="M336.9,440.5 L339.3,440.8 L337.0,439.0 L334.6,438.7Z" fill="#ff7d7d"/><path d="M329.9,438.3 L332.3,438.5 L330.0,436.8 L327.7,436.5Z" fill="#ff7272"/><path d="M322.9,435.8 L325.3,436.2 L323.1,434.3 L320.7,433.8Z" fill="#ff6464"/><path d="M362.6,451.5 L364.8,451.7 L362.4,449.3 L360.1,449.1Z" fill="#ffb2b2"/><path d="M304.3,426.9 L306.8,427.4 L304.7,425.2 L302.2,424.8Z" fill="#ff3737"/><path d="M355.6,448.5 L357.9,448.8 L355.5,446.5 L353.2,446.2Z" fill="#ffa2a2"/><path d="M315.9,432.7 L318.3,433.3 L316.2,431.3 L313.8,430.7Z" fill="#ff5353"/><path d="M348.6,445.5 L350.9,445.9 L348.5,443.7 L346.2,443.4Z" fill="#ff9191"/><path d="M308.9,429.6 L311.3,430.1 L309.2,428.0 L306.8,427.4Z" fill="#ff4141"/><path d="M367.3,454.3 L369.5,454.5 L367.1,451.8 L364.8,451.7Z" fill="#ffbbbb"/><path d="M341.6,442.7 L343.9,443.0 L341.6,441.0 L339.3,440.8Z" fill="#ff8383"/><path d="M334.6,440.4 L336.9,440.5 L334.6,438.7 L332.3,438.5Z" fill="#ff7676"/><path d="M327.6,438.1 L329.9,438.3 L327.7,436.5 L325.3,436.2Z" fill="#ff6b6b"/><path d="M360.3,451.2 L362.6,451.5 L360.1,449.1 L357.9,448.8Z" fill="#ffabab"/><path d="M301.8,426.7 L304.3,426.9 L302.2,424.8 L299.8,424.6Z" fill="#ff3030"/><path d="M320.5,435.3 L322.9,435.8 L320.7,433.8 L318.3,433.3Z" fill="#ff5c5c"/><path d="M353.3,448.2 L355.6,448.5 L353.2,446.2 L350.9,445.9Z" fill="#ff9a9a"/><path d="M372.0,457.3 L374.3,457.2 L371.8,454.4 L369.5,454.5Z" fill="#ffc5c5"/><path d="M313.5,432.2 L315.9,432.7 L313.8,430.7 L311.3,430.1Z" fill="#ff4b4b"/><path d="M346.3,445.2 L348.6,445.5 L346.2,443.4 L343.9,443.0Z" fill="#ff8a8a"/><path d="M365.1,454.1 L367.3,454.3 L364.8,451.7 L362.6,451.5Z" fill="#ffb4b4"/><path d="M266.2,463.6 L268.2,457.5 L266.4,455.0 L264.4,461.3Z" fill="#ffd5d5"/><path d="M339.3,442.5 L341.6,442.7 L339.3,440.8 L336.9,440.5Z" fill="#ff7c7c"/><path d="M306.4,429.2 L308.9,429.6 L306.8,427.4 L304.3,426.9Z" fill="#ff3939"/><path d="M332.2,440.2 L334.6,440.4 L332.3,438.5 L329.9,438.3Z" fill="#ff7070"/><path d="M325.2,437.8 L327.6,438.1 L325.3,436.2 L322.9,435.8Z" fill="#ff6464"/><path d="M299.3,426.6 L301.8,426.7 L299.8,424.6 L297.3,424.7Z" fill="#ff2b2b"/><path d="M358.0,450.9 L360.3,451.2 L357.9,448.8 L355.6,448.5Z" fill="#ffa4a4"/><path d="M318.1,434.7 L320.5,435.3 L318.3,433.3 L315.9,432.7Z" fill="#ff5454"/><path d="M351.0,447.8 L353.3,448.2 L350.9,445.9 L348.6,445.5Z" fill="#ff9393"/><path d="M369.8,457.1 L372.0,457.3 L369.5,454.5 L367.3,454.3Z" fill="#ffbfbf"/><path d="M311.0,431.8 L313.5,432.2 L311.3,430.1 L308.9,429.6Z" fill="#ff4242"/><path d="M344.0,444.8 L346.3,445.2 L343.9,443.0 L341.6,442.7Z" fill="#ff8383"/><path d="M362.8,453.8 L365.1,454.1 L362.6,451.5 L360.3,451.2Z" fill="#ffadad"/><path d="M336.9,442.3 L339.3,442.5 L336.9,440.5 L334.6,440.4Z" fill="#ff7575"/><path d="M296.8,426.8 L299.3,426.6 L297.3,424.7 L294.8,425.0Z" fill="#ff2828"/><path d="M329.8,440.0 L332.2,440.2 L329.9,438.3 L327.6,438.1Z" fill="#ff6a6a"/><path d="M303.9,429.1 L306.4,429.2 L304.3,426.9 L301.8,426.7Z" fill="#ff3232"/><path d="M322.7,437.3 L325.2,437.8 L322.9,435.8 L320.5,435.3Z" fill="#ff5c5c"/><path d="M374.6,460.3 L376.8,460.2 L374.3,457.2 L372.0,457.3Z" fill="#ffcaca"/><path d="M355.8,450.6 L358.0,450.9 L355.6,448.5 L353.3,448.2Z" fill="#ff9c9c"/><path d="M315.6,434.2 L318.1,434.7 L315.9,432.7 L313.5,432.2Z" fill="#ff4b4b"/><path d="M367.6,456.9 L369.8,457.1 L367.3,454.3 L365.1,454.1Z" fill="#ffb8b8"/><path d="M348.7,447.5 L351.0,447.8 L348.6,445.5 L346.3,445.2Z" fill="#ff8b8b"/><path d="M268.2,457.5 L270.2,450.3 L268.3,447.7 L266.4,455.0Z" fill="#ffa9a9"/><path d="M268.1,466.1 L270.2,460.5 L268.2,457.5 L266.2,463.6Z" fill="#ffd7d7"/><path d="M294.3,427.2 L296.8,426.8 L294.8,425.0 L292.3,425.6Z" fill="#ff2626"/><path d="M308.5,431.7 L311.0,431.8 L308.9,429.6 L306.4,429.2Z" fill="#ff3b3b"/><path d="M341.6,444.5 L344.0,444.8 L341.6,442.7 L339.3,442.5Z" fill="#ff7b7b"/><path d="M301.4,429.3 L303.9,429.1 L301.8,426.7 L299.3,426.6Z" fill="#ff2d2d"/><path d="M334.5,442.1 L336.9,442.3 L334.6,440.4 L332.2,440.2Z" fill="#ff6f6f"/><path d="M360.5,453.6 L362.8,453.8 L360.3,451.2 L358.0,450.9Z" fill="#ffa6a6"/><path d="M327.4,439.7 L329.8,440.0 L327.6,438.1 L325.2,437.8Z" fill="#ff6363"/><path d="M372.3,460.2 L374.6,460.3 L372.0,457.3 L369.8,457.1Z" fill="#ffc5c5"/><path d="M320.3,436.8 L322.7,437.3 L320.5,435.3 L318.1,434.7Z" fill="#ff5454"/><path d="M353.5,450.3 L355.8,450.6 L353.3,448.2 L351.0,447.8Z" fill="#ff9595"/><path d="M291.8,427.7 L294.3,427.2 L292.3,425.6 L289.9,426.2Z" fill="#ff2424"/><path d="M313.2,434.0 L315.6,434.2 L313.5,432.2 L311.0,431.8Z" fill="#ff4343"/><path d="M365.3,456.7 L367.6,456.9 L365.1,454.1 L362.8,453.8Z" fill="#ffb2b2"/><path d="M306.1,432.0 L308.5,431.7 L306.4,429.2 L303.9,429.1Z" fill="#ff3636"/><path d="M346.4,447.1 L348.7,447.5 L346.3,445.2 L344.0,444.8Z" fill="#ff8383"/><path d="M377.1,463.5 L379.4,463.3 L376.8,460.2 L374.6,460.3Z" fill="#ffd1d1"/><path d="M298.9,429.7 L301.4,429.3 L299.3,426.6 L296.8,426.8Z" fill="#ff2a2a"/><path d="M339.2,444.3 L341.6,444.5 L339.3,442.5 L336.9,442.3Z" fill="#ff7575"/><path d="M332.1,441.9 L334.5,442.1 L332.2,440.2 L329.8,440.0Z" fill="#ff6969"/><path d="M358.2,453.3 L360.5,453.6 L358.0,450.9 L355.8,450.6Z" fill="#ff9f9f"/><path d="M325.0,439.3 L327.4,439.7 L325.2,437.8 L322.7,437.3Z" fill="#ff5c5c"/><path d="M289.3,428.2 L291.8,427.7 L289.9,426.2 L287.4,426.8Z" fill="#ff2323"/><path d="M370.1,460.0 L372.3,460.2 L369.8,457.1 L367.6,456.9Z" fill="#ffbebe"/><path d="M270.2,460.5 L272.2,453.9 L270.2,450.3 L268.2,457.5Z" fill="#ffafaf"/><path d="M270.0,468.8 L272.2,464.0 L270.2,460.5 L268.1,466.1Z" fill="#ffdddd"/><path d="M270.2,450.3 L272.3,444.0 L270.4,441.5 L268.3,447.7Z" fill="#ff7f7f"/><path d="M317.8,436.3 L320.3,436.8 L318.1,434.7 L315.6,434.2Z" fill="#ff4b4b"/><path d="M351.1,449.9 L353.5,450.3 L351.0,447.8 L348.7,447.5Z" fill="#ff8d8d"/><path d="M303.6,432.8 L306.1,432.0 L303.9,429.1 L301.4,429.3Z" fill="#ff3434"/><path d="M310.7,434.3 L313.2,434.0 L311.0,431.8 L308.5,431.7Z" fill="#ff3e3e"/><path d="M296.5,430.3 L298.9,429.7 L296.8,426.8 L294.3,427.2Z" fill="#ff2828"/><path d="M363.0,456.4 L365.3,456.7 L362.8,453.8 L360.5,453.6Z" fill="#ffabab"/><path d="M374.9,463.5 L377.1,463.5 L374.6,460.3 L372.3,460.2Z" fill="#ffcccc"/><path d="M344.0,446.8 L346.4,447.1 L344.0,444.8 L341.6,444.5Z" fill="#ff7c7c"/><path d="M286.8,428.8 L289.3,428.2 L287.4,426.8 L284.8,427.3Z" fill="#ff2323"/><path d="M336.9,444.1 L339.2,444.3 L336.9,442.3 L334.5,442.1Z" fill="#ff6e6e"/><path d="M329.7,441.6 L332.1,441.9 L329.8,440.0 L327.4,439.7Z" fill="#ff6262"/><path d="M355.9,453.0 L358.2,453.3 L355.8,450.6 L353.5,450.3Z" fill="#ff9898"/><path d="M301.1,434.0 L303.6,432.8 L301.4,429.3 L298.9,429.7Z" fill="#ff3333"/><path d="M322.5,438.8 L325.0,439.3 L322.7,437.3 L320.3,436.8Z" fill="#ff5454"/><path d="M367.8,459.9 L370.1,460.0 L367.6,456.9 L365.3,456.7Z" fill="#ffb7b7"/><path d="M294.0,431.0 L296.5,430.3 L294.3,427.2 L291.8,427.7Z" fill="#ff2727"/><path d="M379.7,466.8 L381.9,466.5 L379.4,463.3 L377.1,463.5Z" fill="#ffd8d8"/><path d="M308.2,435.3 L310.7,434.3 L308.5,431.7 L306.1,432.0Z" fill="#ff3c3c"/><path d="M315.4,436.3 L317.8,436.3 L315.6,434.2 L313.2,434.0Z" fill="#ff4545"/><path d="M348.8,449.6 L351.1,449.9 L348.7,447.5 L346.4,447.1Z" fill="#ff8585"/><path d="M284.3,429.6 L286.8,428.8 L284.8,427.3 L282.3,428.0Z" fill="#ff2323"/><path d="M272.3,444.0 L274.5,439.1 L272.6,436.7 L270.4,441.5Z" fill="#ff5d5d"/><path d="M272.2,464.0 L274.3,458.5 L272.2,453.9 L270.2,460.5Z" fill="#ffb9b9"/><path d="M372.6,463.4 L374.9,463.5 L372.3,460.2 L370.1,460.0Z" fill="#ffc5c5"/><path d="M298.2,474.4 L300.7,472.5 L298.4,466.2 L296.0,468.1Z" fill="#ffefef"/><path d="M300.7,472.5 L303.1,469.5 L300.8,463.3 L298.4,466.2Z" fill="#ffe3e3"/><path d="M360.7,456.2 L363.0,456.4 L360.5,453.6 L358.2,453.3Z" fill="#ffa3a3"/><path d="M298.4,466.2 L300.8,463.3 L298.5,455.5 L296.1,458.0Z" fill="#ffc0c0"/><path d="M298.7,435.4 L301.1,434.0 L298.9,429.7 L296.5,430.3Z" fill="#ff3535"/><path d="M296.0,468.1 L298.4,466.2 L296.1,458.0 L293.6,459.8Z" fill="#ffcbcb"/><path d="M341.6,446.5 L344.0,446.8 L341.6,444.5 L339.2,444.3Z" fill="#ff7575"/><path d="M271.9,471.7 L274.2,467.8 L272.2,464.0 L270.0,468.8Z" fill="#ffe4e4"/><path d="M305.8,436.9 L308.2,435.3 L306.1,432.0 L303.6,432.8Z" fill="#ff3e3e"/><path d="M272.2,453.9 L274.4,448.1 L272.3,444.0 L270.2,450.3Z" fill="#ff8686"/><path d="M291.4,431.8 L294.0,431.0 L291.8,427.7 L289.3,428.2Z" fill="#ff2727"/><path d="M334.5,443.9 L336.9,444.1 L334.5,442.1 L332.1,441.9Z" fill="#ff6868"/><path d="M300.8,463.3 L303.2,459.4 L300.9,452.3 L298.5,455.5Z" fill="#ffafaf"/><path d="M327.3,441.3 L329.7,441.6 L327.4,439.7 L325.0,439.3Z" fill="#ff5b5b"/><path d="M295.7,475.3 L298.2,474.4 L296.0,468.1 L293.5,469.2Z" fill="#fff4f4"/><path d="M281.8,430.9 L284.3,429.6 L282.3,428.0 L279.8,429.1Z" fill="#ff2525"/><path d="M293.5,469.2 L296.0,468.1 L293.6,459.8 L291.1,461.2Z" fill="#ffd1d1"/><path d="M303.1,469.5 L305.4,465.3 L303.2,459.4 L300.8,463.3Z" fill="#ffd0d0"/><path d="M353.6,452.7 L355.9,453.0 L353.5,450.3 L351.1,449.9Z" fill="#ff9090"/><path d="M377.4,466.9 L379.7,466.8 L377.1,463.5 L374.9,463.5Z" fill="#ffd3d3"/><path d="M303.4,439.2 L305.8,436.9 L303.6,432.8 L301.1,434.0Z" fill="#ff4343"/><path d="M365.5,459.7 L367.8,459.9 L365.3,456.7 L363.0,456.4Z" fill="#ffb1b1"/><path d="M296.2,436.9 L298.7,435.4 L296.5,430.3 L294.0,431.0Z" fill="#ff3737"/><path d="M312.9,437.0 L315.4,436.3 L313.2,434.0 L310.7,434.3Z" fill="#ff4141"/><path d="M320.1,438.6 L322.5,438.8 L320.3,436.8 L317.8,436.3Z" fill="#ff4c4c"/><path d="M274.5,439.1 L276.9,435.4 L274.9,433.1 L272.6,436.7Z" fill="#ff4444"/><path d="M296.1,458.0 L298.5,455.5 L296.1,446.7 L293.6,448.7Z" fill="#ff9393"/><path d="M302.9,477.2 L305.3,474.2 L303.1,469.5 L300.7,472.5Z" fill="#fffafa"/><path d="M298.5,455.5 L300.9,452.3 L298.5,444.4 L296.1,446.7Z" fill="#ff8787"/><path d="M300.4,478.9 L302.9,477.2 L300.7,472.5 L298.2,474.4Z" fill="#fafefa"/><path d="M300.9,441.8 L303.4,439.2 L301.1,434.0 L298.7,435.4Z" fill="#ff4b4b"/><path d="M279.3,432.7 L281.8,430.9 L279.8,429.1 L277.4,430.7Z" fill="#ff2a2a"/><path d="M293.6,459.8 L296.1,458.0 L293.6,448.7 L291.2,450.3Z" fill="#ff9c9c"/><path d="M276.9,435.4 L279.3,432.7 L277.4,430.7 L274.9,433.1Z" fill="#ff3434"/><path d="M300.9,452.3 L303.2,448.6 L300.9,441.8 L298.5,444.4Z" fill="#ff7777"/><path d="M288.9,432.7 L291.4,431.8 L289.3,428.2 L286.8,428.8Z" fill="#ff2727"/><path d="M303.2,459.4 L305.5,454.9 L303.2,448.6 L300.9,452.3Z" fill="#ff9999"/><path d="M346.4,449.3 L348.8,449.6 L346.4,447.1 L344.0,446.8Z" fill="#ff7e7e"/><path d="M298.5,444.4 L300.9,441.8 L298.7,435.4 L296.2,436.9Z" fill="#ff5454"/><path d="M291.0,469.9 L293.5,469.2 L291.1,461.2 L288.6,462.2Z" fill="#ffd3d3"/><path d="M370.3,463.3 L372.6,463.4 L370.1,460.0 L367.8,459.9Z" fill="#ffbfbf"/><path d="M274.2,467.8 L276.5,463.6 L274.3,458.5 L272.2,464.0Z" fill="#ffc8c8"/><path d="M293.2,475.6 L295.7,475.3 L293.5,469.2 L291.0,469.9Z" fill="#fff4f4"/><path d="M296.1,446.7 L298.5,444.4 L296.2,436.9 L293.7,438.3Z" fill="#ff5d5d"/><path d="M293.7,438.3 L296.2,436.9 L294.0,431.0 L291.4,431.8Z" fill="#ff3a3a"/><path d="M358.4,456.0 L360.7,456.2 L358.2,453.3 L355.9,453.0Z" fill="#ff9c9c"/><path d="M297.9,479.6 L300.4,478.9 L298.2,474.4 L295.7,475.3Z" fill="#f7fef7"/><path d="M382.3,470.2 L384.5,469.8 L381.9,466.5 L379.7,466.8Z" fill="#ffdfdf"/><path d="M291.1,461.2 L293.6,459.8 L291.2,450.3 L288.7,451.8Z" fill="#ffa2a2"/><path d="M305.3,474.2 L307.7,469.9 L305.4,465.3 L303.1,469.5Z" fill="#ffe6e6"/><path d="M339.2,446.3 L341.6,446.5 L339.2,444.3 L336.9,444.1Z" fill="#ff6e6e"/><path d="M310.5,438.7 L312.9,437.0 L310.7,434.3 L308.2,435.3Z" fill="#ff4343"/><path d="M303.2,448.6 L305.6,444.8 L303.4,439.2 L300.9,441.8Z" fill="#ff6666"/><path d="M274.3,458.5 L276.6,453.6 L274.4,448.1 L272.2,453.9Z" fill="#ff9696"/><path d="M305.4,465.3 L307.8,460.2 L305.5,454.9 L303.2,459.4Z" fill="#ffb6b6"/><path d="M332.0,443.7 L334.5,443.9 L332.1,441.9 L329.7,441.6Z" fill="#ff6262"/><path d="M293.6,448.7 L296.1,446.7 L293.7,438.3 L291.2,439.7Z" fill="#ff6464"/><path d="M274.4,448.1 L276.6,443.4 L274.5,439.1 L272.3,444.0Z" fill="#ff6565"/><path d="M305.6,444.8 L308.0,441.3 L305.8,436.9 L303.4,439.2Z" fill="#ff5656"/><path d="M308.0,441.3 L310.5,438.7 L308.2,435.3 L305.8,436.9Z" fill="#ff4a4a"/><path d="M324.8,441.0 L327.3,441.3 L325.0,439.3 L322.5,438.8Z" fill="#ff5454"/><path d="M375.1,467.0 L377.4,466.9 L374.9,463.5 L372.6,463.4Z" fill="#ffcece"/><path d="M286.4,433.8 L288.9,432.7 L286.8,428.8 L284.3,429.6Z" fill="#ff2828"/><path d="M288.6,462.2 L291.1,461.2 L288.7,451.8 L286.2,453.3Z" fill="#ffa6a6"/><path d="M351.2,452.4 L353.6,452.7 L351.1,449.9 L348.8,449.6Z" fill="#ff8989"/><path d="M291.2,439.7 L293.7,438.3 L291.4,431.8 L288.9,432.7Z" fill="#ff3d3d"/><path d="M317.6,438.8 L320.1,438.6 L317.8,436.3 L315.4,436.3Z" fill="#ff4646"/><path d="M305.5,454.9 L307.9,450.1 L305.6,444.8 L303.2,448.6Z" fill="#ff8181"/><path d="M363.2,459.5 L365.5,459.7 L363.0,456.4 L360.7,456.2Z" fill="#ffaaaa"/><path d="M291.2,450.3 L293.6,448.7 L291.2,439.7 L288.7,441.1Z" fill="#ff6a6a"/><path d="M288.4,470.3 L291.0,469.9 L288.6,462.2 L286.1,463.3Z" fill="#ffd3d3"/><path d="M273.8,474.5 L276.3,471.6 L274.2,467.8 L271.9,471.7Z" fill="#ffebeb"/><path d="M305.1,480.8 L307.5,478.0 L305.3,474.2 L302.9,477.2Z" fill="#f8fef8"/><path d="M276.5,463.6 L278.8,460.0 L276.6,453.6 L274.3,458.5Z" fill="#ffadad"/><path d="M295.4,479.7 L297.9,479.6 L295.7,475.3 L293.2,475.6Z" fill="#f8fef8"/><path d="M302.6,482.4 L305.1,480.8 L302.9,477.2 L300.4,478.9Z" fill="#f0fef0"/><path d="M290.6,475.6 L293.2,475.6 L291.0,469.9 L288.4,470.3Z" fill="#fff1f1"/><path d="M283.9,435.2 L286.4,433.8 L284.3,429.6 L281.8,430.9Z" fill="#ff2b2b"/><path d="M344.0,449.0 L346.4,449.3 L344.0,446.8 L341.6,446.5Z" fill="#ff7777"/><path d="M380.0,470.5 L382.3,470.2 L379.7,466.8 L377.4,466.9Z" fill="#ffdcdc"/><path d="M286.1,463.3 L288.6,462.2 L286.2,453.3 L283.7,455.0Z" fill="#ffaaaa"/><path d="M288.7,451.8 L291.2,450.3 L288.7,441.1 L286.2,442.6Z" fill="#ff7070"/><path d="M307.7,469.9 L310.0,464.8 L307.8,460.2 L305.4,465.3Z" fill="#ffcaca"/><path d="M368.0,463.3 L370.3,463.3 L367.8,459.9 L365.5,459.7Z" fill="#ffb9b9"/><path d="M276.6,443.4 L279.0,439.8 L276.9,435.4 L274.5,439.1Z" fill="#ff4d4d"/><path d="M288.7,441.1 L291.2,439.7 L288.9,432.7 L286.4,433.8Z" fill="#ff4040"/><path d="M276.3,471.6 L278.6,468.6 L276.5,463.6 L274.2,467.8Z" fill="#ffd8d8"/><path d="M276.6,453.6 L278.9,449.7 L276.6,443.4 L274.4,448.1Z" fill="#ff7a7a"/><path d="M356.0,455.7 L358.4,456.0 L355.9,453.0 L353.6,452.7Z" fill="#ff9595"/><path d="M336.8,446.1 L339.2,446.3 L336.9,444.1 L334.5,443.9Z" fill="#ff6868"/><path d="M307.8,460.2 L310.1,454.9 L307.9,450.1 L305.5,454.9Z" fill="#ff9898"/><path d="M307.9,450.1 L310.3,445.7 L308.0,441.3 L305.6,444.8Z" fill="#ff6a6a"/><path d="M281.4,437.2 L283.9,435.2 L281.8,430.9 L279.3,432.7Z" fill="#ff3232"/><path d="M307.5,478.0 L309.9,473.9 L307.7,469.9 L305.3,474.2Z" fill="#fff4f4"/><path d="M285.9,470.8 L288.4,470.3 L286.1,463.3 L283.6,464.5Z" fill="#ffd3d3"/><path d="M329.6,443.5 L332.0,443.7 L329.7,441.6 L327.3,441.3Z" fill="#ff5b5b"/><path d="M315.1,439.9 L317.6,438.8 L315.4,436.3 L312.9,437.0Z" fill="#ff4545"/><path d="M279.0,439.8 L281.4,437.2 L279.3,432.7 L276.9,435.4Z" fill="#ff3c3c"/><path d="M286.2,453.3 L288.7,451.8 L286.2,442.6 L283.8,444.4Z" fill="#ff7676"/><path d="M283.6,464.5 L286.1,463.3 L283.7,455.0 L281.3,457.2Z" fill="#ffb0b0"/><path d="M300.1,483.0 L302.6,482.4 L300.4,478.9 L297.9,479.6Z" fill="#eefdee"/><path d="M278.8,460.0 L281.3,457.2 L278.9,449.7 L276.6,453.6Z" fill="#ff9898"/><path d="M372.8,467.1 L375.1,467.0 L372.6,463.4 L370.3,463.3Z" fill="#ffc9c9"/><path d="M278.6,468.6 L281.1,466.2 L278.8,460.0 L276.5,463.6Z" fill="#ffc5c5"/><path d="M286.2,442.6 L288.7,441.1 L286.4,433.8 L283.9,435.2Z" fill="#ff4545"/><path d="M322.4,440.9 L324.8,441.0 L322.5,438.8 L320.1,438.6Z" fill="#ff4d4d"/><path d="M281.1,466.2 L283.6,464.5 L281.3,457.2 L278.8,460.0Z" fill="#ffb8b8"/><path d="M283.7,455.0 L286.2,453.3 L283.8,444.4 L281.3,446.7Z" fill="#ff7d7d"/><path d="M281.3,457.2 L283.7,455.0 L281.3,446.7 L278.9,449.7Z" fill="#ff8888"/><path d="M384.9,473.5 L387.2,473.0 L384.5,469.8 L382.3,470.2Z" fill="#ffe6e6"/><path d="M360.9,459.3 L363.2,459.5 L360.7,456.2 L358.4,456.0Z" fill="#ffa3a3"/><path d="M348.9,452.1 L351.2,452.4 L348.8,449.6 L346.4,449.3Z" fill="#ff8181"/><path d="M310.3,445.7 L312.7,442.2 L310.5,438.7 L308.0,441.3Z" fill="#ff5656"/><path d="M278.9,449.7 L281.3,446.7 L279.0,439.8 L276.6,443.4Z" fill="#ff6565"/><path d="M312.7,442.2 L315.1,439.9 L312.9,437.0 L310.5,438.7Z" fill="#ff4a4a"/><path d="M283.8,444.4 L286.2,442.6 L283.9,435.2 L281.4,437.2Z" fill="#ff4b4b"/><path d="M288.0,475.5 L290.6,475.6 L288.4,470.3 L285.9,470.8Z" fill="#ffeded"/><path d="M283.3,471.6 L285.9,470.8 L283.6,464.5 L281.1,466.2Z" fill="#ffd5d5"/><path d="M281.3,446.7 L283.8,444.4 L281.4,437.2 L279.0,439.8Z" fill="#ff5656"/><path d="M292.8,479.4 L295.4,479.7 L293.2,475.6 L290.6,475.6Z" fill="#fdfffd"/><path d="M377.7,470.7 L380.0,470.5 L377.4,466.9 L375.1,467.0Z" fill="#ffd7d7"/><path d="M341.6,448.7 L344.0,449.0 L341.6,446.5 L339.2,446.3Z" fill="#ff7070"/><path d="M365.7,463.2 L368.0,463.3 L365.5,459.7 L363.2,459.5Z" fill="#ffb3b3"/><path d="M309.9,473.9 L312.3,468.8 L310.0,464.8 L307.7,469.9Z" fill="#ffd9d9"/><path d="M310.0,464.8 L312.4,459.2 L310.1,454.9 L307.8,460.2Z" fill="#ffaaaa"/><path d="M280.8,473.0 L283.3,471.6 L281.1,466.2 L278.6,468.6Z" fill="#ffdbdb"/><path d="M310.1,454.9 L312.5,449.9 L310.3,445.7 L307.9,450.1Z" fill="#ff7b7b"/><path d="M334.4,446.0 L336.8,446.1 L334.5,443.9 L332.0,443.7Z" fill="#ff6262"/><path d="M353.7,455.5 L356.0,455.7 L353.6,452.7 L351.2,452.4Z" fill="#ff8e8e"/><path d="M275.8,477.2 L278.3,475.1 L276.3,471.6 L273.8,474.5Z" fill="#fff1f1"/><path d="M297.5,482.9 L300.1,483.0 L297.9,479.6 L295.4,479.7Z" fill="#f1fef1"/><path d="M278.3,475.1 L280.8,473.0 L278.6,468.6 L276.3,471.6Z" fill="#ffe5e5"/><path d="M307.2,483.9 L309.7,481.3 L307.5,478.0 L305.1,480.8Z" fill="#f2fef2"/><path d="M327.1,443.4 L329.6,443.5 L327.3,441.3 L324.8,441.0Z" fill="#ff5454"/><path d="M319.9,441.5 L322.4,440.9 L320.1,438.6 L317.6,438.8Z" fill="#ff4949"/><path d="M370.5,467.1 L372.8,467.1 L370.3,463.3 L368.0,463.3Z" fill="#ffc3c3"/><path d="M304.8,485.4 L307.2,483.9 L305.1,480.8 L302.6,482.4Z" fill="#ebfdeb"/><path d="M382.6,474.0 L384.9,473.5 L382.3,470.2 L380.0,470.5Z" fill="#ffe4e4"/><path d="M285.4,475.8 L288.0,475.5 L285.9,470.8 L283.3,471.6Z" fill="#ffe9e9"/><path d="M309.7,481.3 L312.1,477.5 L309.9,473.9 L307.5,478.0Z" fill="#fffefe"/><path d="M358.5,459.2 L360.9,459.3 L358.4,456.0 L356.0,455.7Z" fill="#ff9c9c"/><path d="M346.5,451.8 L348.9,452.1 L346.4,449.3 L344.0,449.0Z" fill="#ff7a7a"/><path d="M375.4,471.0 L377.7,470.7 L375.1,467.0 L372.8,467.1Z" fill="#ffd3d3"/><path d="M312.5,449.9 L314.9,445.8 L312.7,442.2 L310.3,445.7Z" fill="#ff6363"/><path d="M290.1,479.0 L292.8,479.4 L290.6,475.6 L288.0,475.5Z" fill="#fffbfb"/><path d="M317.4,443.0 L319.9,441.5 L317.6,438.8 L315.1,439.9Z" fill="#ff4a4a"/><path d="M302.2,485.9 L304.8,485.4 L302.6,482.4 L300.1,483.0Z" fill="#eafdea"/><path d="M339.2,448.6 L341.6,448.7 L339.2,446.3 L336.8,446.1Z" fill="#ff6969"/><path d="M363.4,463.1 L365.7,463.2 L363.2,459.5 L360.9,459.3Z" fill="#ffacac"/><path d="M314.9,445.8 L317.4,443.0 L315.1,439.9 L312.7,442.2Z" fill="#ff5252"/><path d="M331.9,445.9 L334.4,446.0 L332.0,443.7 L329.6,443.5Z" fill="#ff5c5c"/><path d="M387.6,476.9 L389.9,476.2 L387.2,473.0 L384.9,473.5Z" fill="#ffeded"/><path d="M351.3,455.2 L353.7,455.5 L351.2,452.4 L348.9,452.1Z" fill="#ff8787"/><path d="M312.4,459.2 L314.8,453.9 L312.5,449.9 L310.1,454.9Z" fill="#ff8a8a"/><path d="M380.3,474.4 L382.6,474.0 L380.0,470.5 L377.7,470.7Z" fill="#ffe1e1"/><path d="M324.7,443.6 L327.1,443.4 L324.8,441.0 L322.4,440.9Z" fill="#ff4f4f"/><path d="M282.9,476.5 L285.4,475.8 L283.3,471.6 L280.8,473.0Z" fill="#ffe9e9"/><path d="M312.3,468.8 L314.7,463.4 L312.4,459.2 L310.0,464.8Z" fill="#ffb8b8"/><path d="M294.9,482.5 L297.5,482.9 L295.4,479.7 L292.8,479.4Z" fill="#f6fef6"/><path d="M368.2,467.2 L370.5,467.1 L368.0,463.3 L365.7,463.2Z" fill="#ffbdbd"/><path d="M312.1,477.5 L314.5,472.8 L312.3,468.8 L309.9,473.9Z" fill="#ffe4e4"/><path d="M373.1,471.2 L375.4,471.0 L372.8,467.1 L370.5,467.1Z" fill="#ffcece"/><path d="M280.3,478.0 L282.9,476.5 L280.8,473.0 L278.3,475.1Z" fill="#ffeeee"/><path d="M356.2,459.0 L358.5,459.2 L356.0,455.7 L353.7,455.5Z" fill="#ff9696"/><path d="M344.1,451.6 L346.5,451.8 L344.0,449.0 L341.6,448.7Z" fill="#ff7373"/><path d="M299.6,485.8 L302.2,485.9 L300.1,483.0 L297.5,482.9Z" fill="#edfded"/><path d="M277.8,479.8 L280.3,478.0 L278.3,475.1 L275.8,477.2Z" fill="#fff6f6"/><path d="M287.5,479.0 L290.1,479.0 L288.0,475.5 L285.4,475.8Z" fill="#fff5f5"/><path d="M385.2,477.5 L387.6,476.9 L384.9,473.5 L382.6,474.0Z" fill="#ffecec"/><path d="M309.5,486.7 L311.9,484.4 L309.7,481.3 L307.2,483.9Z" fill="#effdef"/><path d="M336.8,448.6 L339.2,448.6 L336.8,446.1 L334.4,446.0Z" fill="#ff6464"/><path d="M361.0,463.0 L363.4,463.1 L360.9,459.3 L358.5,459.2Z" fill="#ffa6a6"/><path d="M322.2,444.5 L324.7,443.6 L322.4,440.9 L319.9,441.5Z" fill="#ff4d4d"/><path d="M378.0,474.9 L380.3,474.4 L377.7,470.7 L375.4,471.0Z" fill="#ffdede"/><path d="M329.5,446.1 L331.9,445.9 L329.6,443.5 L327.1,443.4Z" fill="#ff5757"/><path d="M314.8,453.9 L317.2,449.5 L314.9,445.8 L312.5,449.9Z" fill="#ff6f6f"/><path d="M306.9,488.1 L309.5,486.7 L307.2,483.9 L304.8,485.4Z" fill="#e8fde8"/><path d="M311.9,484.4 L314.4,480.9 L312.1,477.5 L309.7,481.3Z" fill="#fbfffb"/><path d="M348.9,455.0 L351.3,455.2 L348.9,452.1 L346.5,451.8Z" fill="#ff8080"/><path d="M365.9,467.3 L368.2,467.2 L365.7,463.2 L363.4,463.1Z" fill="#ffb8b8"/><path d="M314.7,463.4 L317.1,458.1 L314.8,453.9 L312.4,459.2Z" fill="#ff9898"/><path d="M292.2,482.0 L294.9,482.5 L292.8,479.4 L290.1,479.0Z" fill="#fdfffd"/><path d="M314.5,472.8 L316.9,467.6 L314.7,463.4 L312.3,468.8Z" fill="#ffc5c5"/><path d="M319.7,446.4 L322.2,444.5 L319.9,441.5 L317.4,443.0Z" fill="#ff5050"/><path d="M317.2,449.5 L319.7,446.4 L317.4,443.0 L314.9,445.8Z" fill="#ff5b5b"/><path d="M370.7,471.5 L373.1,471.2 L370.5,467.1 L368.2,467.2Z" fill="#ffcaca"/><path d="M382.9,478.1 L385.2,477.5 L382.6,474.0 L380.3,474.4Z" fill="#ffeaea"/><path d="M353.8,458.8 L356.2,459.0 L353.7,455.5 L351.3,455.2Z" fill="#ff8f8f"/><path d="M341.6,451.5 L344.1,451.6 L341.6,448.7 L339.2,448.6Z" fill="#ff6d6d"/><path d="M304.4,488.6 L306.9,488.1 L304.8,485.4 L302.2,485.9Z" fill="#e8fde8"/><path d="M390.3,480.1 L392.6,479.3 L389.9,476.2 L387.6,476.9Z" fill="#fff3f3"/><path d="M284.9,479.5 L287.5,479.0 L285.4,475.8 L282.9,476.5Z" fill="#fff1f1"/><path d="M314.4,480.9 L316.8,476.6 L314.5,472.8 L312.1,477.5Z" fill="#ffeded"/><path d="M334.3,448.8 L336.8,448.6 L334.4,446.0 L331.9,445.9Z" fill="#ff5f5f"/><path d="M375.6,475.3 L378.0,474.9 L375.4,471.0 L373.1,471.2Z" fill="#ffdada"/><path d="M327.0,446.7 L329.5,446.1 L327.1,443.4 L324.7,443.6Z" fill="#ff5353"/><path d="M297.0,485.4 L299.6,485.8 L297.5,482.9 L294.9,482.5Z" fill="#f3fef3"/><path d="M358.7,463.0 L361.0,463.0 L358.5,459.2 L356.2,459.0Z" fill="#ffa0a0"/><path d="M363.5,467.4 L365.9,467.3 L363.4,463.1 L361.0,463.0Z" fill="#ffb2b2"/><path d="M346.5,454.9 L348.9,455.0 L346.5,451.8 L344.1,451.6Z" fill="#ff7979"/><path d="M282.3,480.7 L284.9,479.5 L282.9,476.5 L280.3,478.0Z" fill="#fff3f3"/><path d="M317.1,458.1 L319.5,453.6 L317.2,449.5 L314.8,453.9Z" fill="#ff7b7b"/><path d="M380.6,478.7 L382.9,478.1 L380.3,474.4 L378.0,474.9Z" fill="#ffe8e8"/><path d="M387.9,480.8 L390.3,480.1 L387.6,476.9 L385.2,477.5Z" fill="#fff3f3"/><path d="M368.4,471.7 L370.7,471.5 L368.2,467.2 L365.9,467.3Z" fill="#ffc5c5"/><path d="M289.6,481.8 L292.2,482.0 L290.1,479.0 L287.5,479.0Z" fill="#fffafa"/><path d="M316.9,467.6 L319.4,462.5 L317.1,458.1 L314.7,463.4Z" fill="#ffa6a6"/><path d="M324.5,447.9 L327.0,446.7 L324.7,443.6 L322.2,444.5Z" fill="#ff5353"/><path d="M301.8,488.6 L304.4,488.6 L302.2,485.9 L299.6,485.8Z" fill="#ebfdeb"/><path d="M339.2,451.7 L341.6,451.5 L339.2,448.6 L336.8,448.6Z" fill="#ff6868"/><path d="M279.8,482.3 L282.3,480.7 L280.3,478.0 L277.8,479.8Z" fill="#fff8f8"/><path d="M311.7,489.2 L314.2,487.1 L311.9,484.4 L309.5,486.7Z" fill="#edfded"/><path d="M316.8,476.6 L319.3,471.8 L316.9,467.6 L314.5,472.8Z" fill="#ffd1d1"/><path d="M351.4,458.7 L353.8,458.8 L351.3,455.2 L348.9,455.0Z" fill="#ff8888"/><path d="M373.3,475.8 L375.6,475.3 L373.1,471.2 L370.7,471.5Z" fill="#ffd7d7"/><path d="M331.8,449.3 L334.3,448.8 L331.9,445.9 L329.5,446.1Z" fill="#ff5b5b"/><path d="M314.2,487.1 L316.6,484.0 L314.4,480.9 L311.9,484.4Z" fill="#f7fef7"/><path d="M319.5,453.6 L322.0,450.2 L319.7,446.4 L317.2,449.5Z" fill="#ff6666"/><path d="M322.0,450.2 L324.5,447.9 L322.2,444.5 L319.7,446.4Z" fill="#ff5959"/><path d="M309.1,490.5 L311.7,489.2 L309.5,486.7 L306.9,488.1Z" fill="#e7fde7"/><path d="M356.3,463.0 L358.7,463.0 L356.2,459.0 L353.8,458.8Z" fill="#ff9a9a"/><path d="M294.4,484.9 L297.0,485.4 L294.9,482.5 L292.2,482.0Z" fill="#fafffa"/><path d="M385.6,481.6 L387.9,480.8 L385.2,477.5 L382.9,478.1Z" fill="#fff1f1"/><path d="M378.2,479.4 L380.6,478.7 L378.0,474.9 L375.6,475.3Z" fill="#ffe6e6"/><path d="M361.1,467.5 L363.5,467.4 L361.0,463.0 L358.7,463.0Z" fill="#ffadad"/><path d="M344.1,455.0 L346.5,454.9 L344.1,451.6 L341.6,451.5Z" fill="#ff7373"/><path d="M316.6,484.0 L319.1,480.3 L316.8,476.6 L314.4,480.9Z" fill="#fff5f5"/><path d="M393.0,483.2 L395.3,482.4 L392.6,479.3 L390.3,480.1Z" fill="#fff9f9"/><path d="M366.0,472.0 L368.4,471.7 L365.9,467.3 L363.5,467.4Z" fill="#ffc1c1"/><path d="M287.0,482.1 L289.6,481.8 L287.5,479.0 L284.9,479.5Z" fill="#fff5f5"/><path d="M319.4,462.5 L321.9,458.0 L319.5,453.6 L317.1,458.1Z" fill="#ff8989"/><path d="M329.3,450.3 L331.8,449.3 L329.5,446.1 L327.0,446.7Z" fill="#ff5a5a"/><path d="M336.7,452.2 L339.2,451.7 L336.8,448.6 L334.3,448.8Z" fill="#ff6464"/><path d="M370.9,476.3 L373.3,475.8 L370.7,471.5 L368.4,471.7Z" fill="#ffd4d4"/><path d="M306.6,491.1 L309.1,490.5 L306.9,488.1 L304.4,488.6Z" fill="#e7fde7"/><path d="M319.3,471.8 L321.7,467.1 L319.4,462.5 L316.9,467.6Z" fill="#ffb4b4"/><path d="M299.2,488.2 L301.8,488.6 L299.6,485.8 L297.0,485.4Z" fill="#f1fef1"/><path d="M349.0,458.8 L351.4,458.7 L348.9,455.0 L346.5,454.9Z" fill="#ff8282"/><path d="M383.2,482.3 L385.6,481.6 L382.9,478.1 L380.6,478.7Z" fill="#fff1f1"/><path d="M375.9,480.1 L378.2,479.4 L375.6,475.3 L373.3,475.8Z" fill="#ffe4e4"/><path d="M319.1,480.3 L321.6,476.0 L319.3,471.8 L316.8,476.6Z" fill="#ffdddd"/><path d="M353.9,463.0 L356.3,463.0 L353.8,458.8 L351.4,458.7Z" fill="#ff9494"/><path d="M326.8,451.9 L329.3,450.3 L327.0,446.7 L324.5,447.9Z" fill="#ff5c5c"/><path d="M390.7,484.0 L393.0,483.2 L390.3,480.1 L387.9,480.8Z" fill="#fff8f8"/><path d="M321.9,458.0 L324.3,454.4 L322.0,450.2 L319.5,453.6Z" fill="#ff7373"/><path d="M284.4,483.3 L287.0,482.1 L284.9,479.5 L282.3,480.7Z" fill="#fff5f5"/><path d="M358.7,467.6 L361.1,467.5 L358.7,463.0 L356.3,463.0Z" fill="#ffa8a8"/><path d="M341.6,455.3 L344.1,455.0 L341.6,451.5 L339.2,451.7Z" fill="#ff6f6f"/><path d="M324.3,454.4 L326.8,451.9 L324.5,447.9 L322.0,450.2Z" fill="#ff6464"/><path d="M363.6,472.3 L366.0,472.0 L363.5,467.4 L361.1,467.5Z" fill="#ffbdbd"/><path d="M334.2,453.0 L336.7,452.2 L334.3,448.8 L331.8,449.3Z" fill="#ff6262"/><path d="M291.7,484.6 L294.4,484.9 L292.2,482.0 L289.6,481.8Z" fill="#fffdfd"/><path d="M368.5,476.8 L370.9,476.3 L368.4,471.7 L366.0,472.0Z" fill="#ffd1d1"/><path d="M304.0,491.2 L306.6,491.1 L304.4,488.6 L301.8,488.6Z" fill="#eafdea"/><path d="M321.7,467.1 L324.2,462.7 L321.9,458.0 L319.4,462.5Z" fill="#ff9999"/><path d="M380.9,483.2 L383.2,482.3 L380.6,478.7 L378.2,479.4Z" fill="#fff0f0"/><path d="M281.8,484.8 L284.4,483.3 L282.3,480.7 L279.8,482.3Z" fill="#fff9f9"/><path d="M316.4,489.5 L318.9,486.9 L316.6,484.0 L314.2,487.1Z" fill="#f5fef5"/><path d="M313.9,491.3 L316.4,489.5 L314.2,487.1 L311.7,489.2Z" fill="#edfded"/><path d="M346.5,459.0 L349.0,458.8 L346.5,454.9 L344.1,455.0Z" fill="#ff7d7d"/><path d="M373.5,480.8 L375.9,480.1 L373.3,475.8 L370.9,476.3Z" fill="#ffe2e2"/><path d="M388.3,484.8 L390.7,484.0 L387.9,480.8 L385.6,481.6Z" fill="#fff8f8"/><path d="M321.6,476.0 L324.1,471.7 L321.7,467.1 L319.3,471.8Z" fill="#ffc3c3"/><path d="M331.7,454.4 L334.2,453.0 L331.8,449.3 L329.3,450.3Z" fill="#ff6464"/><path d="M318.9,486.9 L321.4,483.6 L319.1,480.3 L316.6,484.0Z" fill="#fffbfb"/><path d="M296.5,487.8 L299.2,488.2 L297.0,485.4 L294.4,484.9Z" fill="#f8fef8"/><path d="M351.4,463.2 L353.9,463.0 L351.4,458.7 L349.0,458.8Z" fill="#ff8f8f"/><path d="M339.1,456.1 L341.6,455.3 L339.2,451.7 L336.7,452.2Z" fill="#ff6d6d"/><path d="M311.4,492.5 L313.9,491.3 L311.7,489.2 L309.1,490.5Z" fill="#e9fde9"/><path d="M395.8,486.0 L398.2,485.2 L395.3,482.4 L393.0,483.2Z" fill="#fffcfc"/><path d="M356.3,467.8 L358.7,467.6 L356.3,463.0 L353.9,463.0Z" fill="#ffa3a3"/><path d="M324.2,462.7 L326.7,459.1 L324.3,454.4 L321.9,458.0Z" fill="#ff8383"/><path d="M361.2,472.7 L363.6,472.3 L361.1,467.5 L358.7,467.6Z" fill="#ffb9b9"/><path d="M366.1,477.4 L368.5,476.8 L366.0,472.0 L363.6,472.3Z" fill="#ffcece"/><path d="M289.1,484.9 L291.7,484.6 L289.6,481.8 L287.0,482.1Z" fill="#fff7f7"/><path d="M329.2,456.4 L331.7,454.4 L329.3,450.3 L326.8,451.9Z" fill="#ff6969"/><path d="M378.5,484.0 L380.9,483.2 L378.2,479.4 L375.9,480.1Z" fill="#ffefef"/><path d="M326.7,459.1 L329.2,456.4 L326.8,451.9 L324.3,454.4Z" fill="#ff7373"/><path d="M321.4,483.6 L323.9,480.0 L321.6,476.0 L319.1,480.3Z" fill="#ffe7e7"/><path d="M385.9,485.7 L388.3,484.8 L385.6,481.6 L383.2,482.3Z" fill="#fff8f8"/><path d="M371.1,481.5 L373.5,480.8 L370.9,476.3 L368.5,476.8Z" fill="#ffe1e1"/><path d="M344.1,459.6 L346.5,459.0 L344.1,455.0 L341.6,455.3Z" fill="#ff7a7a"/><path d="M324.1,471.7 L326.6,467.7 L324.2,462.7 L321.7,467.1Z" fill="#ffaaaa"/><path d="M301.4,491.0 L304.0,491.2 L301.8,488.6 L299.2,488.2Z" fill="#effdef"/><path d="M336.6,457.3 L339.1,456.1 L336.7,452.2 L334.2,453.0Z" fill="#ff6d6d"/><path d="M308.8,493.2 L311.4,492.5 L309.1,490.5 L306.6,491.1Z" fill="#e8fde8"/><path d="M393.5,486.9 L395.8,486.0 L393.0,483.2 L390.7,484.0Z" fill="#fffcfc"/><path d="M349.0,463.6 L351.4,463.2 L349.0,458.8 L346.5,459.0Z" fill="#ff8b8b"/><path d="M376.1,484.8 L378.5,484.0 L375.9,480.1 L373.5,480.8Z" fill="#ffefef"/><path d="M323.9,480.0 L326.4,476.3 L324.1,471.7 L321.6,476.0Z" fill="#ffd1d1"/><path d="M286.5,485.9 L289.1,484.9 L287.0,482.1 L284.4,483.3Z" fill="#fff6f6"/><path d="M353.9,468.2 L356.3,467.8 L353.9,463.0 L351.4,463.2Z" fill="#ff9f9f"/><path d="M358.8,473.1 L361.2,472.7 L358.7,467.6 L356.3,467.8Z" fill="#ffb5b5"/><path d="M293.9,487.6 L296.5,487.8 L294.4,484.9 L291.7,484.6Z" fill="#fefffe"/><path d="M363.7,477.9 L366.1,477.4 L363.6,472.3 L361.2,472.7Z" fill="#ffcccc"/><path d="M326.6,467.7 L329.1,464.2 L326.7,459.1 L324.2,462.7Z" fill="#ff9494"/><path d="M383.6,486.5 L385.9,485.7 L383.2,482.3 L380.9,483.2Z" fill="#fff8f8"/><path d="M334.1,459.0 L336.6,457.3 L334.2,453.0 L331.7,454.4Z" fill="#ff7171"/><path d="M368.7,482.2 L371.1,481.5 L368.5,476.8 L366.1,477.4Z" fill="#ffdfdf"/><path d="M341.6,460.5 L344.1,459.6 L341.6,455.3 L339.1,456.1Z" fill="#ff7979"/><path d="M331.6,461.3 L334.1,459.0 L331.7,454.4 L329.2,456.4Z" fill="#ff7878"/><path d="M329.1,464.2 L331.6,461.3 L329.2,456.4 L326.7,459.1Z" fill="#ff8484"/><path d="M391.1,487.7 L393.5,486.9 L390.7,484.0 L388.3,484.8Z" fill="#fffcfc"/><path d="M283.9,487.4 L286.5,485.9 L284.4,483.3 L281.8,484.8Z" fill="#fffafa"/><path d="M306.2,493.4 L308.8,493.2 L306.6,491.1 L304.0,491.2Z" fill="#ebfdeb"/><path d="M326.4,476.3 L329.0,472.7 L326.6,467.7 L324.1,471.7Z" fill="#ffbbbb"/><path d="M318.7,491.5 L321.3,489.3 L318.9,486.9 L316.4,489.5Z" fill="#f6fef6"/><path d="M346.5,464.3 L349.0,463.6 L346.5,459.0 L344.1,459.6Z" fill="#ff8989"/><path d="M373.7,485.7 L376.1,484.8 L373.5,480.8 L371.1,481.5Z" fill="#ffeeee"/><path d="M321.3,489.3 L323.8,486.7 L321.4,483.6 L318.9,486.9Z" fill="#fffefe"/><path d="M298.7,490.7 L301.4,491.0 L299.2,488.2 L296.5,487.8Z" fill="#f6fef6"/><path d="M381.2,487.4 L383.6,486.5 L380.9,483.2 L378.5,484.0Z" fill="#fff8f8"/><path d="M339.1,462.0 L341.6,460.5 L339.1,456.1 L336.6,457.3Z" fill="#ff7b7b"/><path d="M316.2,493.1 L318.7,491.5 L316.4,489.5 L313.9,491.3Z" fill="#effdef"/><path d="M351.4,468.7 L353.9,468.2 L351.4,463.2 L349.0,463.6Z" fill="#ff9c9c"/><path d="M361.3,478.5 L363.7,477.9 L361.2,472.7 L358.8,473.1Z" fill="#ffc9c9"/><path d="M356.4,473.6 L358.8,473.1 L356.3,467.8 L353.9,468.2Z" fill="#ffb2b2"/><path d="M323.8,486.7 L326.3,483.7 L323.9,480.0 L321.4,483.6Z" fill="#ffeeee"/><path d="M366.2,483.0 L368.7,482.2 L366.1,477.4 L363.7,477.9Z" fill="#ffdede"/><path d="M329.0,472.7 L331.5,469.4 L329.1,464.2 L326.6,467.7Z" fill="#ffa7a7"/><path d="M291.2,487.9 L293.9,487.6 L291.7,484.6 L289.1,484.9Z" fill="#fffafa"/><path d="M388.7,488.6 L391.1,487.7 L388.3,484.8 L385.9,485.7Z" fill="#fffcfc"/><path d="M336.5,464.0 L339.1,462.0 L336.6,457.3 L334.1,459.0Z" fill="#ff8181"/><path d="M313.6,494.2 L316.2,493.1 L313.9,491.3 L311.4,492.5Z" fill="#ecfdec"/><path d="M331.5,469.4 L334.0,466.4 L331.6,461.3 L329.1,464.2Z" fill="#ff9797"/><path d="M326.3,483.7 L328.8,480.6 L326.4,476.3 L323.9,480.0Z" fill="#ffdddd"/><path d="M334.0,466.4 L336.5,464.0 L334.1,459.0 L331.6,461.3Z" fill="#ff8a8a"/><path d="M344.0,465.5 L346.5,464.3 L344.1,459.6 L341.6,460.5Z" fill="#ff8989"/><path d="M371.2,486.6 L373.7,485.7 L371.1,481.5 L368.7,482.2Z" fill="#ffeeee"/><path d="M378.8,488.3 L381.2,487.4 L378.5,484.0 L376.1,484.8Z" fill="#fff8f8"/><path d="M303.6,493.4 L306.2,493.4 L304.0,491.2 L301.4,491.0Z" fill="#f0fdf0"/><path d="M349.0,469.6 L351.4,468.7 L349.0,463.6 L346.5,464.3Z" fill="#ff9b9b"/><path d="M328.8,480.6 L331.4,477.4 L329.0,472.7 L326.4,476.3Z" fill="#ffcaca"/><path d="M358.9,479.2 L361.3,478.5 L358.8,473.1 L356.4,473.6Z" fill="#ffc7c7"/><path d="M353.9,474.3 L356.4,473.6 L353.9,468.2 L351.4,468.7Z" fill="#ffb0b0"/><path d="M363.8,483.7 L366.2,483.0 L363.7,477.9 L361.3,478.5Z" fill="#ffdddd"/><path d="M341.5,467.1 L344.0,465.5 L341.6,460.5 L339.1,462.0Z" fill="#ff8d8d"/><path d="M386.3,489.5 L388.7,488.6 L385.9,485.7 L383.6,486.5Z" fill="#fffcfc"/><path d="M288.6,488.7 L291.2,487.9 L289.1,484.9 L286.5,485.9Z" fill="#fff9f9"/><path d="M296.1,490.6 L298.7,490.7 L296.5,487.8 L293.9,487.6Z" fill="#fcfffc"/><path d="M311.0,494.9 L313.6,494.2 L311.4,492.5 L308.8,493.2Z" fill="#ecfdec"/><path d="M331.4,477.4 L333.9,474.4 L331.5,469.4 L329.0,472.7Z" fill="#ffb9b9"/><path d="M368.8,487.4 L371.2,486.6 L368.7,482.2 L366.2,483.0Z" fill="#ffeeee"/><path d="M339.0,469.2 L341.5,467.1 L339.1,462.0 L336.5,464.0Z" fill="#ff9393"/><path d="M376.3,489.3 L378.8,488.3 L376.1,484.8 L373.7,485.7Z" fill="#fff8f8"/><path d="M333.9,474.4 L336.4,471.6 L334.0,466.4 L331.5,469.4Z" fill="#ffaaaa"/><path d="M336.4,471.6 L339.0,469.2 L336.5,464.0 L334.0,466.4Z" fill="#ff9d9d"/><path d="M346.5,470.8 L349.0,469.6 L346.5,464.3 L344.0,465.5Z" fill="#ff9c9c"/><path d="M351.4,475.1 L353.9,474.3 L351.4,468.7 L349.0,469.6Z" fill="#ffafaf"/><path d="M286.0,490.0 L288.6,488.7 L286.5,485.9 L283.9,487.4Z" fill="#fffbfb"/><path d="M356.4,479.9 L358.9,479.2 L356.4,473.6 L353.9,474.3Z" fill="#ffc6c6"/><path d="M383.9,490.4 L386.3,489.5 L383.6,486.5 L381.2,487.4Z" fill="#fffcfc"/><path d="M361.4,484.5 L363.8,483.7 L361.3,478.5 L358.9,479.2Z" fill="#ffdcdc"/><path d="M323.6,491.5 L326.2,489.4 L323.8,486.7 L321.3,489.3Z" fill="#ffffff"/><path d="M326.2,489.4 L328.7,486.9 L326.3,483.7 L323.8,486.7Z" fill="#fff3f3"/><path d="M300.9,493.3 L303.6,493.4 L301.4,491.0 L298.7,490.7Z" fill="#f5fef5"/><path d="M344.0,472.4 L346.5,470.8 L344.0,465.5 L341.5,467.1Z" fill="#ffa0a0"/><path d="M308.4,495.3 L311.0,494.9 L308.8,493.2 L306.2,493.4Z" fill="#eefdee"/><path d="M328.7,486.9 L331.3,484.3 L328.8,480.6 L326.3,483.7Z" fill="#ffe5e5"/><path d="M321.1,493.4 L323.6,491.5 L321.3,489.3 L318.7,491.5Z" fill="#f8fef8"/><path d="M366.4,488.3 L368.8,487.4 L366.2,483.0 L363.8,483.7Z" fill="#ffeded"/><path d="M373.9,490.2 L376.3,489.3 L373.7,485.7 L371.2,486.6Z" fill="#fff8f8"/><path d="M293.4,490.8 L296.1,490.6 L293.9,487.6 L291.2,487.9Z" fill="#fffefe"/><path d="M331.3,484.3 L333.8,481.6 L331.4,477.4 L328.8,480.6Z" fill="#ffd7d7"/><path d="M341.4,474.3 L344.0,472.4 L341.5,467.1 L339.0,469.2Z" fill="#ffa7a7"/><path d="M348.9,476.2 L351.4,475.1 L349.0,469.6 L346.5,470.8Z" fill="#ffb1b1"/><path d="M333.8,481.6 L336.3,479.0 L333.9,474.4 L331.4,477.4Z" fill="#ffc9c9"/><path d="M318.5,494.8 L321.1,493.4 L318.7,491.5 L316.2,493.1Z" fill="#f3fef3"/><path d="M338.9,476.6 L341.4,474.3 L339.0,469.2 L336.4,471.6Z" fill="#ffb0b0"/><path d="M336.3,479.0 L338.9,476.6 L336.4,471.6 L333.9,474.4Z" fill="#ffbcbc"/><path d="M353.9,480.7 L356.4,479.9 L353.9,474.3 L351.4,475.1Z" fill="#ffc5c5"/><path d="M381.5,491.3 L383.9,490.4 L381.2,487.4 L378.8,488.3Z" fill="#fffdfd"/><path d="M358.9,485.2 L361.4,484.5 L358.9,479.2 L356.4,479.9Z" fill="#ffdbdb"/><path d="M371.5,491.1 L373.9,490.2 L371.2,486.6 L368.8,487.4Z" fill="#fff8f8"/><path d="M363.9,489.1 L366.4,488.3 L363.8,483.7 L361.4,484.5Z" fill="#ffeded"/><path d="M346.4,477.6 L348.9,476.2 L346.5,470.8 L344.0,472.4Z" fill="#ffb4b4"/><path d="M315.9,495.8 L318.5,494.8 L316.2,493.1 L313.6,494.2Z" fill="#f1fef1"/><path d="M290.7,491.6 L293.4,490.8 L291.2,487.9 L288.6,488.7Z" fill="#fffbfb"/><path d="M305.8,495.5 L308.4,495.3 L306.2,493.4 L303.6,493.4Z" fill="#f2fef2"/><path d="M298.3,493.4 L300.9,493.3 L298.7,490.7 L296.1,490.6Z" fill="#fafffa"/><path d="M351.4,481.6 L353.9,480.7 L351.4,475.1 L348.9,476.2Z" fill="#ffc6c6"/><path d="M379.1,492.2 L381.5,491.3 L378.8,488.3 L376.3,489.3Z" fill="#fffdfd"/><path d="M343.9,479.3 L346.4,477.6 L344.0,472.4 L341.4,474.3Z" fill="#ffbaba"/><path d="M356.4,486.0 L358.9,485.2 L356.4,479.9 L353.9,480.7Z" fill="#ffdada"/><path d="M341.4,481.1 L343.9,479.3 L341.4,474.3 L338.9,476.6Z" fill="#ffc1c1"/><path d="M369.0,492.0 L371.5,491.1 L368.8,487.4 L366.4,488.3Z" fill="#fff9f9"/><path d="M361.4,489.9 L363.9,489.1 L361.4,484.5 L358.9,485.2Z" fill="#ffecec"/><path d="M338.8,483.2 L341.4,481.1 L338.9,476.6 L336.3,479.0Z" fill="#ffcaca"/><path d="M313.3,496.6 L315.9,495.8 L313.6,494.2 L311.0,494.9Z" fill="#f1fef1"/><path d="M288.1,492.7 L290.7,491.6 L288.6,488.7 L286.0,490.0Z" fill="#fffcfc"/><path d="M348.9,482.7 L351.4,481.6 L348.9,476.2 L346.4,477.6Z" fill="#ffc8c8"/><path d="M336.3,485.3 L338.8,483.2 L336.3,479.0 L333.8,481.6Z" fill="#ffd5d5"/><path d="M333.7,487.5 L336.3,485.3 L333.8,481.6 L331.3,484.3Z" fill="#ffe0e0"/><path d="M331.1,489.7 L333.7,487.5 L331.3,484.3 L328.7,486.9Z" fill="#ffeaea"/><path d="M376.7,493.1 L379.1,492.2 L376.3,489.3 L373.9,490.2Z" fill="#fffdfd"/><path d="M328.6,491.7 L331.1,489.7 L328.7,486.9 L326.2,489.4Z" fill="#fff5f5"/><path d="M353.9,486.8 L356.4,486.0 L353.9,480.7 L351.4,481.6Z" fill="#ffdada"/><path d="M303.1,495.7 L305.8,495.5 L303.6,493.4 L300.9,493.3Z" fill="#f6fef6"/><path d="M326.0,493.6 L328.6,491.7 L326.2,489.4 L323.6,491.5Z" fill="#fffefe"/><path d="M295.6,493.7 L298.3,493.4 L296.1,490.6 L293.4,490.8Z" fill="#fefffe"/><path d="M366.5,492.9 L369.0,492.0 L366.4,488.3 L363.9,489.1Z" fill="#fff9f9"/><path d="M346.4,484.0 L348.9,482.7 L346.4,477.6 L343.9,479.3Z" fill="#ffcbcb"/><path d="M359.0,490.7 L361.4,489.9 L358.9,485.2 L356.4,486.0Z" fill="#ffecec"/><path d="M323.4,495.2 L326.0,493.6 L323.6,491.5 L321.1,493.4Z" fill="#fbfffb"/><path d="M310.7,497.1 L313.3,496.6 L311.0,494.9 L308.4,495.3Z" fill="#f2fef2"/><path d="M374.2,494.0 L376.7,493.1 L373.9,490.2 L371.5,491.1Z" fill="#fffefe"/><path d="M343.9,485.4 L346.4,484.0 L343.9,479.3 L341.4,481.1Z" fill="#ffd0d0"/><path d="M351.4,487.6 L353.9,486.8 L351.4,481.6 L348.9,482.7Z" fill="#ffdada"/><path d="M320.8,496.5 L323.4,495.2 L321.1,493.4 L318.5,494.8Z" fill="#f7fef7"/><path d="M364.1,493.7 L366.5,492.9 L363.9,489.1 L361.4,489.9Z" fill="#fff8f8"/><path d="M292.9,494.4 L295.6,493.7 L293.4,490.8 L290.7,491.6Z" fill="#fffdfd"/><path d="M341.3,486.9 L343.9,485.4 L341.4,481.1 L338.8,483.2Z" fill="#ffd6d6"/><path d="M356.5,491.4 L359.0,490.7 L356.4,486.0 L353.9,486.8Z" fill="#ffebeb"/><path d="M300.5,496.0 L303.1,495.7 L300.9,493.3 L298.3,493.4Z" fill="#fafffa"/><path d="M371.7,494.9 L374.2,494.0 L371.5,491.1 L369.0,492.0Z" fill="#fffefe"/><path d="M338.7,488.6 L341.3,486.9 L338.8,483.2 L336.3,485.3Z" fill="#ffdddd"/><path d="M348.9,488.4 L351.4,487.6 L348.9,482.7 L346.4,484.0Z" fill="#ffdbdb"/><path d="M308.0,497.6 L310.7,497.1 L308.4,495.3 L305.8,495.5Z" fill="#f5fef5"/><path d="M318.2,497.5 L320.8,496.5 L318.5,494.8 L315.9,495.8Z" fill="#f6fef6"/><path d="M336.2,490.3 L338.7,488.6 L336.3,485.3 L333.7,487.5Z" fill="#ffe4e4"/><path d="M361.6,494.5 L364.1,493.7 L361.4,489.9 L359.0,490.7Z" fill="#fff8f8"/><path d="M290.2,495.3 L292.9,494.4 L290.7,491.6 L288.1,492.7Z" fill="#fffdfd"/><path d="M333.6,492.2 L336.2,490.3 L333.7,487.5 L331.1,489.7Z" fill="#ffecec"/><path d="M354.0,492.0 L356.5,491.4 L353.9,486.8 L351.4,487.6Z" fill="#ffeaea"/><path d="M369.3,495.8 L371.7,494.9 L369.0,492.0 L366.5,492.9Z" fill="#fffefe"/><path d="M346.4,489.3 L348.9,488.4 L346.4,484.0 L343.9,485.4Z" fill="#ffdddd"/><path d="M331.0,493.9 L333.6,492.2 L331.1,489.7 L328.6,491.7Z" fill="#fff4f4"/><path d="M315.6,498.3 L318.2,497.5 L315.9,495.8 L313.3,496.6Z" fill="#f6fef6"/><path d="M297.8,496.4 L300.5,496.0 L298.3,493.4 L295.6,493.7Z" fill="#fdfffd"/><path d="M305.4,497.9 L308.0,497.6 L305.8,495.5 L303.1,495.7Z" fill="#f8fef8"/><path d="M328.4,495.6 L331.0,493.9 L328.6,491.7 L326.0,493.6Z" fill="#fffbfb"/><path d="M359.1,495.2 L361.6,494.5 L359.0,490.7 L356.5,491.4Z" fill="#fff7f7"/><path d="M343.8,490.4 L346.4,489.3 L343.9,485.4 L341.3,486.9Z" fill="#ffdfdf"/><path d="M351.5,492.6 L354.0,492.0 L351.4,487.6 L348.9,488.4Z" fill="#ffe9e9"/><path d="M366.8,496.7 L369.3,495.8 L366.5,492.9 L364.1,493.7Z" fill="#fffefe"/><path d="M325.8,497.1 L328.4,495.6 L326.0,493.6 L323.4,495.2Z" fill="#fefffe"/><path d="M313.0,499.0 L315.6,498.3 L313.3,496.6 L310.7,497.1Z" fill="#f7fef7"/><path d="M295.1,497.1 L297.8,496.4 L295.6,493.7 L292.9,494.4Z" fill="#ffffff"/><path d="M341.3,491.7 L343.8,490.4 L341.3,486.9 L338.7,488.6Z" fill="#ffe3e3"/><path d="M323.2,498.3 L325.8,497.1 L323.4,495.2 L320.8,496.5Z" fill="#fcfffc"/><path d="M356.6,495.8 L359.1,495.2 L356.5,491.4 L354.0,492.0Z" fill="#fff5f5"/><path d="M302.7,498.4 L305.4,497.9 L303.1,495.7 L300.5,496.0Z" fill="#fbfffb"/><path d="M348.9,493.2 L351.5,492.6 L348.9,488.4 L346.4,489.3Z" fill="#ffe8e8"/><path d="M364.3,497.6 L366.8,496.7 L364.1,493.7 L361.6,494.5Z" fill="#fffdfd"/><path d="M338.7,493.1 L341.3,491.7 L338.7,488.6 L336.2,490.3Z" fill="#ffe7e7"/><path d="M292.4,498.0 L295.1,497.1 L292.9,494.4 L290.2,495.3Z" fill="#fffefe"/><path d="M310.3,499.6 L313.0,499.0 L310.7,497.1 L308.0,497.6Z" fill="#f9fef9"/><path d="M320.6,499.4 L323.2,498.3 L320.8,496.5 L318.2,497.5Z" fill="#fafffa"/><path d="M336.1,494.7 L338.7,493.1 L336.2,490.3 L333.6,492.2Z" fill="#ffeded"/><path d="M354.1,496.5 L356.6,495.8 L354.0,492.0 L351.5,492.6Z" fill="#fff3f3"/><path d="M346.4,494.0 L348.9,493.2 L346.4,489.3 L343.8,490.4Z" fill="#ffe7e7"/><path d="M361.8,498.4 L364.3,497.6 L361.6,494.5 L359.1,495.2Z" fill="#fffdfd"/><path d="M333.5,496.3 L336.1,494.7 L333.6,492.2 L331.0,493.9Z" fill="#fff2f2"/><path d="M300.0,499.0 L302.7,498.4 L300.5,496.0 L297.8,496.4Z" fill="#fefffe"/><path d="M318.0,500.2 L320.6,499.4 L318.2,497.5 L315.6,498.3Z" fill="#fafffa"/><path d="M330.9,497.8 L333.5,496.3 L331.0,493.9 L328.4,495.6Z" fill="#fff8f8"/><path d="M307.7,500.1 L310.3,499.6 L308.0,497.6 L305.4,497.9Z" fill="#fbfffb"/><path d="M343.8,495.0 L346.4,494.0 L343.8,490.4 L341.3,491.7Z" fill="#ffe8e8"/><path d="M351.5,497.1 L354.1,496.5 L351.5,492.6 L348.9,493.2Z" fill="#fff1f1"/><path d="M359.2,499.2 L361.8,498.4 L359.1,495.2 L356.6,495.8Z" fill="#fffbfb"/><path d="M297.3,499.8 L300.0,499.0 L297.8,496.4 L295.1,497.1Z" fill="#ffffff"/><path d="M328.3,499.2 L330.9,497.8 L328.4,495.6 L325.8,497.1Z" fill="#fffcfc"/><path d="M315.3,501.0 L318.0,500.2 L315.6,498.3 L313.0,499.0Z" fill="#fbfffb"/><path d="M341.2,496.2 L343.8,495.0 L341.3,491.7 L338.7,493.1Z" fill="#ffebeb"/><path d="M305.0,500.7 L307.7,500.1 L305.4,497.9 L302.7,498.4Z" fill="#fdfffd"/><path d="M325.7,500.5 L328.3,499.2 L325.8,497.1 L323.2,498.3Z" fill="#ffffff"/><path d="M349.0,497.8 L351.5,497.1 L348.9,493.2 L346.4,494.0Z" fill="#fff0f0"/><path d="M356.7,500.0 L359.2,499.2 L356.6,495.8 L354.1,496.5Z" fill="#fffafa"/><path d="M294.6,500.7 L297.3,499.8 L295.1,497.1 L292.4,498.0Z" fill="#ffffff"/><path d="M338.6,497.5 L341.2,496.2 L338.7,493.1 L336.1,494.7Z" fill="#ffeeee"/><path d="M312.7,501.7 L315.3,501.0 L313.0,499.0 L310.3,499.6Z" fill="#fcfffc"/><path d="M323.0,501.5 L325.7,500.5 L323.2,498.3 L320.6,499.4Z" fill="#fefffe"/><path d="M336.0,498.9 L338.6,497.5 L336.1,494.7 L333.5,496.3Z" fill="#fff2f2"/><path d="M302.3,501.5 L305.0,500.7 L302.7,498.4 L300.0,499.0Z" fill="#ffffff"/><path d="M346.4,498.7 L349.0,497.8 L346.4,494.0 L343.8,495.0Z" fill="#ffefef"/><path d="M354.2,500.8 L356.7,500.0 L354.1,496.5 L351.5,497.1Z" fill="#fff9f9"/><path d="M333.4,500.4 L336.0,498.9 L333.5,496.3 L330.9,497.8Z" fill="#fff6f6"/><path d="M320.4,502.4 L323.0,501.5 L320.6,499.4 L318.0,500.2Z" fill="#fefffe"/><path d="M310.0,502.3 L312.7,501.7 L310.3,499.6 L307.7,500.1Z" fill="#fefffe"/><path d="M343.8,499.7 L346.4,498.7 L343.8,495.0 L341.2,496.2Z" fill="#fff0f0"/><path d="M299.6,502.4 L302.3,501.5 L300.0,499.0 L297.3,499.8Z" fill="#fffefe"/><path d="M330.8,501.7 L333.4,500.4 L330.9,497.8 L328.3,499.2Z" fill="#fffafa"/><path d="M351.6,501.6 L354.2,500.8 L351.5,497.1 L349.0,497.8Z" fill="#fff7f7"/><path d="M317.7,503.2 L320.4,502.4 L318.0,500.2 L315.3,501.0Z" fill="#fefffe"/><path d="M341.2,500.9 L343.8,499.7 L341.2,496.2 L338.6,497.5Z" fill="#fff2f2"/><path d="M307.3,503.1 L310.0,502.3 L307.7,500.1 L305.0,500.7Z" fill="#ffffff"/><path d="M328.2,502.9 L330.8,501.7 L328.3,499.2 L325.7,500.5Z" fill="#fffcfc"/><path d="M296.9,503.4 L299.6,502.4 L297.3,499.8 L294.6,500.7Z" fill="#fffefe"/><path d="M349.0,502.5 L351.6,501.6 L349.0,497.8 L346.4,498.7Z" fill="#fff7f7"/><path d="M338.6,502.1 L341.2,500.9 L338.6,497.5 L336.0,498.9Z" fill="#fff4f4"/><path d="M315.0,504.0 L317.7,503.2 L315.3,501.0 L312.7,501.7Z" fill="#ffffff"/><path d="M325.5,503.9 L328.2,502.9 L325.7,500.5 L323.0,501.5Z" fill="#fffefe"/><path d="M304.6,504.0 L307.3,503.1 L305.0,500.7 L302.3,501.5Z" fill="#fffefe"/><path d="M346.4,503.4 L349.0,502.5 L346.4,498.7 L343.8,499.7Z" fill="#fff7f7"/><path d="M336.0,503.4 L338.6,502.1 L336.0,498.9 L333.4,500.4Z" fill="#fff7f7"/><path d="M322.8,504.9 L325.5,503.9 L323.0,501.5 L320.4,502.4Z" fill="#fffefe"/><path d="M312.4,504.8 L315.0,504.0 L312.7,501.7 L310.0,502.3Z" fill="#fffefe"/><path d="M301.9,505.0 L304.6,504.0 L302.3,501.5 L299.6,502.4Z" fill="#fffdfd"/><path d="M333.3,504.6 L336.0,503.4 L333.4,500.4 L330.8,501.7Z" fill="#fffafa"/><path d="M343.8,504.5 L346.4,503.4 L343.8,499.7 L341.2,500.9Z" fill="#fff8f8"/><path d="M320.2,505.7 L322.8,504.9 L320.4,502.4 L317.7,503.2Z" fill="#fffdfd"/><path d="M330.7,505.7 L333.3,504.6 L330.8,501.7 L328.2,502.9Z" fill="#fffcfc"/><path d="M299.1,506.1 L301.9,505.0 L299.6,502.4 L296.9,503.4Z" fill="#fffefe"/><path d="M309.6,505.6 L312.4,504.8 L310.0,502.3 L307.3,503.1Z" fill="#fffcfc"/><path d="M341.2,505.5 L343.8,504.5 L341.2,500.9 L338.6,502.1Z" fill="#fff9f9"/><path d="M328.0,506.7 L330.7,505.7 L328.2,502.9 L325.5,503.9Z" fill="#fffdfd"/><path d="M317.5,506.6 L320.2,505.7 L317.7,503.2 L315.0,504.0Z" fill="#fffdfd"/><path d="M338.5,506.6 L341.2,505.5 L338.6,502.1 L336.0,503.4Z" fill="#fffafa"/><path d="M306.9,506.6 L309.6,505.6 L307.3,503.1 L304.6,504.0Z" fill="#fffcfc"/><path d="M325.3,507.7 L328.0,506.7 L325.5,503.9 L322.8,504.9Z" fill="#fffdfd"/><path d="M335.9,507.7 L338.5,506.6 L336.0,503.4 L333.3,504.6Z" fill="#fffcfc"/><path d="M314.8,507.4 L317.5,506.6 L315.0,504.0 L312.4,504.8Z" fill="#fffcfc"/><path d="M304.2,507.7 L306.9,506.6 L304.6,504.0 L301.9,505.0Z" fill="#fffcfc"/><path d="M333.2,508.7 L335.9,507.7 L333.3,504.6 L330.7,505.7Z" fill="#fffdfd"/><path d="M322.6,508.6 L325.3,507.7 L322.8,504.9 L320.2,505.7Z" fill="#fffdfd"/><path d="M301.5,508.9 L304.2,507.7 L301.9,505.0 L299.1,506.1Z" fill="#fffdfd"/><path d="M312.0,508.3 L314.8,507.4 L312.4,504.8 L309.6,505.6Z" fill="#fffbfb"/><path d="M330.6,509.7 L333.2,508.7 L330.7,505.7 L328.0,506.7Z" fill="#fffdfd"/><path d="M319.9,509.5 L322.6,508.6 L320.2,505.7 L317.5,506.6Z" fill="#fffcfc"/><path d="M309.3,509.4 L312.0,508.3 L309.6,505.6 L306.9,506.6Z" fill="#fffbfb"/><path d="M327.9,510.7 L330.6,509.7 L328.0,506.7 L325.3,507.7Z" fill="#fffefe"/><path d="M317.2,510.4 L319.9,509.5 L317.5,506.6 L314.8,507.4Z" fill="#fffcfc"/><path d="M306.6,510.6 L309.3,509.4 L306.9,506.6 L304.2,507.7Z" fill="#fffcfc"/><path d="M325.2,511.6 L327.9,510.7 L325.3,507.7 L322.6,508.6Z" fill="#fffdfd"/><path d="M303.8,511.8 L306.6,510.6 L304.2,507.7 L301.5,508.9Z" fill="#fffdfd"/><path d="M314.5,511.4 L317.2,510.4 L314.8,507.4 L312.0,508.3Z" fill="#fffbfb"/><path d="M322.4,512.6 L325.2,511.6 L322.6,508.6 L319.9,509.5Z" fill="#fffdfd"/><path d="M311.7,512.4 L314.5,511.4 L312.0,508.3 L309.3,509.4Z" fill="#fffbfb"/><path d="M319.7,513.5 L322.4,512.6 L319.9,509.5 L317.2,510.4Z" fill="#fffdfd"/><path d="M309.0,513.5 L311.7,512.4 L309.3,509.4 L306.6,510.6Z" fill="#fffcfc"/><path d="M317.0,514.5 L319.7,513.5 L317.2,510.4 L314.5,511.4Z" fill="#fffdfd"/><path d="M306.2,514.7 L309.0,513.5 L306.6,510.6 L303.8,511.8Z" fill="#fffefe"/><path d="M314.2,515.6 L317.0,514.5 L314.5,511.4 L311.7,512.4Z" fill="#fffdfd"/><path d="M311.4,516.6 L314.2,515.6 L311.7,512.4 L309.0,513.5Z" fill="#fffdfd"/><path d="M308.6,517.7 L311.4,516.6 L309.0,513.5 L306.2,514.7Z" fill="#fffefe"/></g>
<line x1="260.716" y1="422.603" x2="346.566" y2="400.542" stroke="#777" stroke-width="0.6"/>
<line x1="346.566" y1="400.542" x2="402.651" y2="441.962" stroke="#777" stroke-width="0.6"/>
<line x1="260.716" y1="422.603" x2="268.183" y2="501.735" stroke="#777" stroke-width="0.6"/>
<line x1="402.651" y1="441.962" x2="394.166" y2="523.758" stroke="#777" stroke-width="0.6"/>
<line x1="309.918" y1="557.52" x2="308.616" y2="517.739" stroke="#777" stroke-width="0.6"/>
<line x1="309.918" y1="557.52" x2="394.166" y2="523.758" stroke="#777" stroke-width="0.6"/>
<line x1="309.918" y1="557.52" x2="268.183" y2="501.735" stroke="#777" stroke-width="0.6"/>
<line x1="258.516" y1="422.603" x2="260.716" y2="422.603" stroke="#777" stroke-width="0.6"/>
<text x="258.116" y="425.403" font-size="7.9" text-anchor="end" fill="#111" stroke="#111" stroke-width="0.142">80</text>
<line x1="259.548" y1="433.536" x2="261.748" y2="433.536" stroke="#777" stroke-width="0.6"/>
<text x="259.148" y="436.336" font-size="7.9" text-anchor="end" fill="#111" stroke="#111" stroke-width="0.142">60</text>
<line x1="260.549" y1="444.146" x2="262.749" y2="444.146" stroke="#777" stroke-width="0.6"/>
<text x="260.149" y="446.946" font-size="7.9" text-anchor="end" fill="#111" stroke="#111" stroke-width="0.142">40</text>
<line x1="261.521" y1="454.445" x2="263.721" y2="454.445" stroke="#777" stroke-width="0.6"/>
<text x="261.121" y="457.245" font-size="7.9" text-anchor="end" fill="#111" stroke="#111" stroke-width="0.142">20</text>
<line x1="262.465" y1="464.448" x2="264.665" y2="464.448" stroke="#777" stroke-width="0.6"/>
<text x="262.065" y="467.248" font-size="7.9" text-anchor="end" fill="#111" stroke="#111" stroke-width="0.142">0</text>
<line x1="263.382" y1="474.167" x2="265.582" y2="474.167" stroke="#777" stroke-width="0.6"/>
<text x="262.982" y="476.967" font-size="7.9" text-anchor="end" fill="#111" stroke="#111" stroke-width="0.142">&#8722;20</text>
<line x1="264.273" y1="483.613" x2="266.473" y2="483.613" stroke="#777" stroke-width="0.6"/>
<text x="263.873" y="486.413" font-size="7.9" text-anchor="end" fill="#111" stroke="#111" stroke-width="0.142">&#8722;40</text>
<line x1="265.14" y1="492.799" x2="267.34" y2="492.799" stroke="#777" stroke-width="0.6"/>
<text x="264.74" y="495.599" font-size="7.9" text-anchor="end" fill="#111" stroke="#111" stroke-width="0.142">&#8722;60</text>
<line x1="265.983" y1="501.735" x2="268.183" y2="501.735" stroke="#777" stroke-width="0.6"/>
<text x="265.583" y="504.535" font-size="7.9" text-anchor="end" fill="#111" stroke="#111" stroke-width="0.142">&#8722;80</text>
<line x1="322.864" y1="552.332" x2="324.864" y2="554.864" stroke="#777" stroke-width="0.6"/>
<text x="325.3" y="564.7" font-size="7.9" text-anchor="middle" fill="#111" stroke="#111" stroke-width="0.142">10</text>
<line x1="335.488" y1="547.273" x2="337.54" y2="549.742" stroke="#777" stroke-width="0.6"/>
<text x="336.5" y="559.5" font-size="7.9" text-anchor="middle" fill="#111" stroke="#111" stroke-width="0.142">30</text>
<line x1="347.801" y1="542.338" x2="349.903" y2="544.747" stroke="#777" stroke-width="0.6"/>
<text x="347.7" y="554.4" font-size="7.9" text-anchor="middle" fill="#111" stroke="#111" stroke-width="0.142">100</text>
<line x1="359.815" y1="537.524" x2="361.963" y2="539.874" stroke="#777" stroke-width="0.6"/>
<text x="359.8" y="549.1" font-size="7.9" text-anchor="middle" fill="#111" stroke="#111" stroke-width="0.142">300</text>
<line x1="371.54" y1="532.825" x2="373.732" y2="535.119" stroke="#777" stroke-width="0.6"/>
<text x="371" y="544.3" font-size="7.9" text-anchor="middle" fill="#111" stroke="#111" stroke-width="0.142">600</text>
<line x1="382.987" y1="528.237" x2="385.22" y2="530.477" stroke="#777" stroke-width="0.6"/>
<text x="383.9" y="539" font-size="7.9" text-anchor="middle" fill="#111" stroke="#111" stroke-width="0.142">1000</text>
<line x1="394.166" y1="523.758" x2="396.437" y2="525.945" stroke="#777" stroke-width="0.6"/>
<text x="397.5" y="533.8" font-size="7.9" text-anchor="middle" fill="#111" stroke="#111" stroke-width="0.142">3000</text>
<line x1="303.172" y1="548.503" x2="299.544" y2="549.915" stroke="#777" stroke-width="0.6"/>
<text x="297.6" y="560" font-size="7.9" text-anchor="middle" fill="#111" stroke="#111" stroke-width="0.142">10</text>
<line x1="296.715" y1="539.872" x2="293.143" y2="541.224" stroke="#777" stroke-width="0.6"/>
<text x="291" y="551.3" font-size="7.9" text-anchor="middle" fill="#111" stroke="#111" stroke-width="0.142">30</text>
<line x1="290.529" y1="531.604" x2="287.012" y2="532.9" stroke="#777" stroke-width="0.6"/>
<text x="283.1" y="542.9" font-size="7.9" text-anchor="middle" fill="#111" stroke="#111" stroke-width="0.142">100</text>
<line x1="284.598" y1="523.676" x2="281.134" y2="524.919" stroke="#777" stroke-width="0.6"/>
<text x="276.8" y="534.8" font-size="7.9" text-anchor="middle" fill="#111" stroke="#111" stroke-width="0.142">300</text>
<line x1="278.906" y1="516.068" x2="275.494" y2="517.261" stroke="#777" stroke-width="0.6"/>
<text x="270.5" y="527.1" font-size="7.9" text-anchor="middle" fill="#111" stroke="#111" stroke-width="0.142">600</text>
<line x1="273.439" y1="508.76" x2="270.077" y2="509.907" stroke="#777" stroke-width="0.6"/>
<text x="263.2" y="519.5" font-size="7.9" text-anchor="middle" fill="#111" stroke="#111" stroke-width="0.142">1000</text>
<line x1="268.183" y1="501.735" x2="264.871" y2="502.838" stroke="#777" stroke-width="0.6"/>
<text x="257.1" y="512.2" font-size="7.9" text-anchor="middle" fill="#111" stroke="#111" stroke-width="0.142">3000</text>
<text transform="translate(303.143,409.635) rotate(-14.412)" font-size="10.5" text-anchor="middle" fill="#111" stroke="#111" stroke-width="0.16" textLength="88" lengthAdjust="spacingAndGlyphs">ZIP synergy: 25.936</text>
<text transform="matrix(0.9282,-0.3720,0.3720,0.9282,367.98,557.54)" font-size="7.3" text-anchor="middle" fill="#111" stroke="#111" stroke-width="0.131">SGC0946 (nM)</text>
<text transform="matrix(0.5990,0.8007,-0.5513,0.8343,263.25,542.59)" font-size="7.3" text-anchor="middle" fill="#111" stroke="#111" stroke-width="0.131">WM1119 (nM)</text>
<text transform="matrix(0.9282,-0.3720,0.3720,0.9282,351.53,538.81)" font-size="9.9" text-anchor="middle" fill="#111" stroke="#111" stroke-width="0.160">MOLM-13</text>
<text x="403" y="471.7" font-size="9.4" text-anchor="start" fill="#111" stroke="#111" stroke-width="0.16">&#948;-score</text>
<defs><linearGradient id="lg471" x1="0" y1="0" x2="0" y2="1"><stop offset="0" stop-color="#ff0000"/><stop offset="0.5" stop-color="#ffffff"/><stop offset="1" stop-color="#00e000"/></linearGradient></defs>
<rect x="403.1" y="476.8" width="6.8" height="37.2" fill="url(#lg471)" stroke="none" stroke-width="1"/>
<text x="412.1" y="481.7" font-size="7.4" text-anchor="start" fill="#111" stroke="#111" stroke-width="0.133">80</text>
<text x="412.1" y="489.8" font-size="7.4" text-anchor="start" fill="#111" stroke="#111" stroke-width="0.133">40</text>
<text x="412.1" y="498" font-size="7.4" text-anchor="start" fill="#111" stroke="#111" stroke-width="0.133">0</text>
<text x="412.1" y="506.4" font-size="7.4" text-anchor="start" fill="#111" stroke="#111" stroke-width="0.133">&#8722;40</text>
<text x="412.1" y="514.1" font-size="7.4" text-anchor="start" fill="#111" stroke="#111" stroke-width="0.133">&#8722;80</text>
<text transform="translate(243,465) rotate(-90)" font-size="9.6" text-anchor="middle" fill="#111" stroke="#111" stroke-width="0.16">&#948;-score</text>
<text x="441.3" y="204.9" font-size="10.8" text-anchor="start" fill="#111" stroke="#111" stroke-width="0.16">F</text>
<rect x="463.2" y="211" width="7" height="7" fill="none" stroke="#9a9a9a" stroke-width="0.8"/>
<line x1="463.2" y1="214.5" x2="470.2" y2="214.5" stroke="#9a9a9a" stroke-width="0.7"/>
<line x1="466.7" y1="211" x2="466.7" y2="218" stroke="#9a9a9a" stroke-width="0.7"/>
<rect x="465" y="212.8" width="3.4" height="3.4" fill="none" stroke="#9a9a9a" stroke-width="0.6"/>
<text x="472.1" y="218.2" font-size="9.8" text-anchor="start" fill="#111" stroke="#111" stroke-width="0.16" textLength="46.2" lengthAdjust="spacingAndGlyphs">VTP50469</text>
<rect x="529.1" y="211" width="7" height="7" fill="none" stroke="#f03a22" stroke-width="0.8"/>
<line x1="529.1" y1="214.5" x2="536.1" y2="214.5" stroke="#f03a22" stroke-width="0.7"/>
<line x1="532.6" y1="211" x2="532.6" y2="218" stroke="#f03a22" stroke-width="0.7"/>
<rect x="530.9" y="212.8" width="3.4" height="3.4" fill="#f03a22" stroke="none" stroke-width="1"/>
<text x="537.2" y="218.2" font-size="9.8" text-anchor="start" fill="#111" stroke="#111" stroke-width="0.16" textLength="129.2" lengthAdjust="spacingAndGlyphs">VTP50469+WM1119 (500nM)</text>
<text x="463.8" y="227.6" font-size="7.3" text-anchor="start" fill="#777" stroke="#777" stroke-width="0.131" textLength="45" lengthAdjust="spacingAndGlyphs">IC50: 65.2 nM</text>
<text x="528.7" y="227.6" font-size="7.3" text-anchor="start" fill="#f22" stroke="#f22" stroke-width="0.131" textLength="45" lengthAdjust="spacingAndGlyphs">IC50: 15.6 nM</text>
<text x="528.7" y="238.3" font-size="7.3" text-anchor="start" fill="#111" stroke="#111" stroke-width="0.131">Fold &gt; 4</text>
<line x1="465.5" y1="231.6" x2="465.5" y2="315.2" stroke="#333" stroke-width="0.9"/>
<line x1="465.5" y1="315.2" x2="570.1" y2="315.2" stroke="#333" stroke-width="0.9"/>
<line x1="462.9" y1="315.2" x2="465.5" y2="315.2" stroke="#333" stroke-width="0.9"/>
<text x="462.5" y="318.6" font-size="9.5" text-anchor="end" fill="#111" stroke="#111" stroke-width="0.16">0</text>
<line x1="462.9" y1="280.2" x2="465.5" y2="280.2" stroke="#333" stroke-width="0.9"/>
<text x="462.5" y="283.6" font-size="9.5" text-anchor="end" fill="#111" stroke="#111" stroke-width="0.16">50</text>
<line x1="462.9" y1="245.4" x2="465.5" y2="245.4" stroke="#333" stroke-width="0.9"/>
<text x="462.5" y="248.8" font-size="9.5" text-anchor="end" fill="#111" stroke="#111" stroke-width="0.16">100</text>
<line x1="465.5" y1="315.2" x2="465.5" y2="317.8" stroke="#333" stroke-width="0.9"/>
<text x="466.7" y="328.2" font-size="9.5" text-anchor="middle" fill="#111">10<tspan font-size="7" dy="-3.6">-1</tspan></text>
<line x1="491.65" y1="315.2" x2="491.65" y2="317.8" stroke="#333" stroke-width="0.9"/>
<text x="492.85" y="328.2" font-size="9.5" text-anchor="middle" fill="#111">10<tspan font-size="7" dy="-3.6">0</tspan></text>
<line x1="517.8" y1="315.2" x2="517.8" y2="317.8" stroke="#333" stroke-width="0.9"/>
<text x="519" y="328.2" font-size="9.5" text-anchor="middle" fill="#111">10<tspan font-size="7" dy="-3.6">1</tspan></text>
<line x1="543.95" y1="315.2" x2="543.95" y2="317.8" stroke="#333" stroke-width="0.9"/>
<text x="545.15" y="328.2" font-size="9.5" text-anchor="middle" fill="#111">10<tspan font-size="7" dy="-3.6">2</tspan></text>
<line x1="570.1" y1="315.2" x2="570.1" y2="317.8" stroke="#333" stroke-width="0.9"/>
<text x="571.3" y="328.2" font-size="9.5" text-anchor="middle" fill="#111">10<tspan font-size="7" dy="-3.6">3</tspan></text>
<text x="517.2" y="340" font-size="9.5" text-anchor="middle" fill="#111" stroke="#111" stroke-width="0.16">VTP50469 (nM)</text>
<text transform="translate(442.3,281) rotate(-90)" font-size="9.5" text-anchor="middle" fill="#111" stroke="#111" stroke-width="0.16">% Survival</text>
<path d="M483.81,246.36 L484.72,246.39 L485.64,246.41 L486.56,246.45 L487.48,246.48 L488.40,246.52 L489.32,246.56 L490.24,246.61 L491.16,246.67 L492.08,246.72 L493.00,246.79 L493.92,246.86 L494.84,246.94 L495.75,247.03 L496.67,247.13 L497.59,247.24 L498.51,247.36 L499.43,247.49 L500.35,247.63 L501.27,247.79 L502.19,247.97 L503.11,248.17 L504.03,248.38 L504.95,248.62 L505.87,248.88 L506.79,249.16 L507.70,249.47 L508.62,249.81 L509.54,250.19 L510.46,250.60 L511.38,251.04 L512.30,251.52 L513.22,252.05 L514.14,252.62 L515.06,253.24 L515.98,253.90 L516.90,254.61 L517.82,255.38 L518.74,256.20 L519.65,257.07 L520.57,258.00 L521.49,258.98 L522.41,260.01 L523.33,261.10 L524.25,262.23 L525.17,263.41 L526.09,264.63 L527.01,265.89 L527.93,267.18 L528.85,268.49 L529.77,269.82 L530.69,271.17 L531.60,272.52 L532.52,273.86 L533.44,275.20 L534.36,276.52 L535.28,277.82 L536.20,279.08 L537.12,280.31 L538.04,281.50 L538.96,282.65 L539.88,283.75 L540.80,284.79 L541.72,285.79 L542.64,286.73 L543.55,287.62 L544.47,288.45 L545.39,289.23 L546.31,289.96 L547.23,290.63 L548.15,291.26 L549.07,291.84 L549.99,292.38 L550.91,292.88 L551.83,293.33 L552.75,293.75 L553.67,294.13 L554.59,294.48 L555.50,294.80 L556.42,295.09" fill="none" stroke="#8a8a8a" stroke-width="0.8"/>
<path d="M483.81,246.75 L484.72,247.04 L485.64,247.34 L486.56,247.66 L487.48,248.01 L488.40,248.37 L489.32,248.76 L490.24,249.17 L491.16,249.60 L492.08,250.06 L493.00,250.55 L493.92,251.06 L494.84,251.60 L495.75,252.16 L496.67,252.76 L497.59,253.39 L498.51,254.05 L499.43,254.74 L500.35,255.46 L501.27,256.22 L502.19,257.00 L503.11,257.82 L504.03,258.68 L504.95,259.56 L505.87,260.48 L506.79,261.43 L507.70,262.41 L508.62,263.42 L509.54,264.45 L510.46,265.52 L511.38,266.61 L512.30,267.72 L513.22,268.85 L514.14,270.00 L515.06,271.17 L515.98,272.35 L516.90,273.55 L517.82,274.75 L518.74,275.95 L519.65,277.16 L520.57,278.37 L521.49,279.57 L522.41,280.77 L523.33,281.96 L524.25,283.14 L525.17,284.30 L526.09,285.44 L527.01,286.56 L527.93,287.66 L528.85,288.74 L529.77,289.79 L530.69,290.81 L531.60,291.81 L532.52,292.77 L533.44,293.70 L534.36,294.61 L535.28,295.48 L536.20,296.31 L537.12,297.12 L538.04,297.89 L538.96,298.63 L539.88,299.33 L540.80,300.01 L541.72,300.65 L542.64,301.26 L543.55,301.85 L544.47,302.40 L545.39,302.92 L546.31,303.42 L547.23,303.89 L548.15,304.34 L549.07,304.76 L549.99,305.16 L550.91,305.54 L551.83,305.89 L552.75,306.22 L553.67,306.54 L554.59,306.83 L555.50,307.11 L556.42,307.37" fill="none" stroke="#f03a22" stroke-width="1"/>
<circle cx="483.6" cy="242.5" r="1.9" fill="none" stroke="#9a9a9a" stroke-width="0.8"/>
<circle cx="483.6" cy="244.3" r="1.9" fill="none" stroke="#9a9a9a" stroke-width="0.8"/>
<circle cx="491.7" cy="246.9" r="1.9" fill="none" stroke="#9a9a9a" stroke-width="0.8"/>
<circle cx="491.7" cy="248.4" r="1.9" fill="none" stroke="#9a9a9a" stroke-width="0.8"/>
<circle cx="504.1" cy="250.2" r="1.9" fill="none" stroke="#9a9a9a" stroke-width="0.8"/>
<circle cx="504.1" cy="252.4" r="1.9" fill="none" stroke="#9a9a9a" stroke-width="0.8"/>
<circle cx="517.6" cy="253" r="1.9" fill="none" stroke="#9a9a9a" stroke-width="0.8"/>
<circle cx="517.6" cy="255.7" r="1.9" fill="none" stroke="#9a9a9a" stroke-width="0.8"/>
<circle cx="530.3" cy="268.8" r="1.9" fill="none" stroke="#9a9a9a" stroke-width="0.8"/>
<circle cx="530.3" cy="272.1" r="1.9" fill="none" stroke="#9a9a9a" stroke-width="0.8"/>
<circle cx="538.1" cy="279.3" r="1.9" fill="none" stroke="#9a9a9a" stroke-width="0.8"/>
<circle cx="538.1" cy="281.5" r="1.9" fill="none" stroke="#9a9a9a" stroke-width="0.8"/>
<circle cx="543.9" cy="288.5" r="1.9" fill="none" stroke="#9a9a9a" stroke-width="0.8"/>
<circle cx="543.9" cy="291.8" r="1.9" fill="none" stroke="#9a9a9a" stroke-width="0.8"/>
<circle cx="556.4" cy="293.3" r="1.9" fill="none" stroke="#9a9a9a" stroke-width="0.8"/>
<circle cx="556.4" cy="295" r="1.9" fill="none" stroke="#9a9a9a" stroke-width="0.8"/>
<circle cx="483.6" cy="243.5" r="1.9" fill="none" stroke="#f03a22" stroke-width="0.9"/>
<circle cx="483.6" cy="245" r="1.9" fill="none" stroke="#f03a22" stroke-width="0.9"/>
<circle cx="491.7" cy="251.3" r="1.9" fill="none" stroke="#f03a22" stroke-width="0.9"/>
<circle cx="491.7" cy="253" r="1.9" fill="none" stroke="#f03a22" stroke-width="0.9"/>
<circle cx="504.1" cy="259.6" r="1.9" fill="none" stroke="#f03a22" stroke-width="0.9"/>
<circle cx="504.1" cy="261.8" r="1.9" fill="none" stroke="#f03a22" stroke-width="0.9"/>
<circle cx="517.6" cy="269.9" r="1.9" fill="none" stroke="#f03a22" stroke-width="0.9"/>
<circle cx="517.6" cy="272.1" r="1.9" fill="none" stroke="#f03a22" stroke-width="0.9"/>
<circle cx="517.6" cy="274.9" r="1.9" fill="none" stroke="#f03a22" stroke-width="0.9"/>
<circle cx="530.3" cy="290.3" r="1.9" fill="none" stroke="#f03a22" stroke-width="0.9"/>
<circle cx="530.3" cy="291.2" r="1.9" fill="none" stroke="#f03a22" stroke-width="0.9"/>
<circle cx="538.1" cy="299.4" r="1.9" fill="none" stroke="#f03a22" stroke-width="0.9"/>
<circle cx="538.1" cy="302.1" r="1.9" fill="none" stroke="#f03a22" stroke-width="0.9"/>
<circle cx="543.9" cy="300.5" r="1.9" fill="none" stroke="#f03a22" stroke-width="0.9"/>
<circle cx="543.9" cy="302.1" r="1.9" fill="none" stroke="#f03a22" stroke-width="0.9"/>
<circle cx="556.4" cy="306" r="1.9" fill="none" stroke="#f03a22" stroke-width="0.9"/>
<circle cx="556.4" cy="306.8" r="1.9" fill="none" stroke="#f03a22" stroke-width="0.9"/>
<line x1="612.2" y1="233.9" x2="612.2" y2="325.4" stroke="#333" stroke-width="0.9"/>
<line x1="612.2" y1="325.4" x2="673.8" y2="325.4" stroke="#333" stroke-width="0.9"/>
<line x1="610.2" y1="325.4" x2="612.2" y2="325.4" stroke="#333" stroke-width="0.9"/>
<text x="610.1" y="328.9" font-size="9.9" text-anchor="end" fill="#111" stroke="#111" stroke-width="0.16">0</text>
<line x1="610.2" y1="302.9" x2="612.2" y2="302.9" stroke="#333" stroke-width="0.9"/>
<text x="610.1" y="306.4" font-size="9.9" text-anchor="end" fill="#111" stroke="#111" stroke-width="0.16">20</text>
<line x1="610.2" y1="280.2" x2="612.2" y2="280.2" stroke="#333" stroke-width="0.9"/>
<text x="610.1" y="283.7" font-size="9.9" text-anchor="end" fill="#111" stroke="#111" stroke-width="0.16">40</text>
<line x1="610.2" y1="257.2" x2="612.2" y2="257.2" stroke="#333" stroke-width="0.9"/>
<text x="610.1" y="260.7" font-size="9.9" text-anchor="end" fill="#111" stroke="#111" stroke-width="0.16">60</text>
<line x1="610.2" y1="234.2" x2="612.2" y2="234.2" stroke="#333" stroke-width="0.9"/>
<text x="610.1" y="237.7" font-size="9.9" text-anchor="end" fill="#111" stroke="#111" stroke-width="0.16">80</text>
<line x1="629.9" y1="325.4" x2="629.9" y2="327.8" stroke="#333" stroke-width="0.9"/>
<line x1="656.3" y1="325.4" x2="656.3" y2="327.8" stroke="#333" stroke-width="0.9"/>
<text x="643.5" y="341" font-size="9.5" text-anchor="middle" fill="#111" stroke="#111" stroke-width="0.16">IC50 (nM)</text>
<rect x="621.1" y="251.4" width="17.5" height="74" fill="#dedede" stroke="#444" stroke-width="0.8"/>
<line x1="629.9" y1="251.4" x2="629.9" y2="244.6" stroke="#333" stroke-width="0.8"/>
<line x1="626.8" y1="244.6" x2="634.4" y2="244.6" stroke="#333" stroke-width="0.8"/>
<rect x="647.9" y="308.2" width="16.9" height="17.2" fill="#fcbcb2" stroke="#f44" stroke-width="0.8"/>
<circle cx="626.4" cy="246.9" r="1.9" fill="#fff" stroke="#222" stroke-width="0.8"/>
<circle cx="633.6" cy="247.7" r="1.9" fill="#fff" stroke="#222" stroke-width="0.8"/>
<circle cx="630.3" cy="259" r="1.9" fill="#fff" stroke="#222" stroke-width="0.8"/>
<circle cx="649.7" cy="308" r="1.9" fill="#fff" stroke="#222" stroke-width="0.8"/>
<circle cx="656.3" cy="308" r="1.9" fill="#fff" stroke="#222" stroke-width="0.8"/>
<circle cx="663.1" cy="308" r="1.9" fill="#fff" stroke="#222" stroke-width="0.8"/>
<path d="M630.6,238.5 L630.6,236 L656.6,236 L656.6,238.5" fill="none" stroke="#777" stroke-width="0.8"/>
<text x="643.6" y="239.7" font-size="15" text-anchor="middle" fill="#111" stroke="#111" stroke-width="0.16">**</text>
<text x="443.2" y="403.3" font-size="11" text-anchor="start" fill="#111" stroke="#111" stroke-width="0.16">I</text>
<rect x="472.7" y="406.8" width="7" height="7" fill="none" stroke="#9a9a9a" stroke-width="0.8"/>
<line x1="472.7" y1="410.3" x2="479.7" y2="410.3" stroke="#9a9a9a" stroke-width="0.7"/>
<line x1="476.2" y1="406.8" x2="476.2" y2="413.8" stroke="#9a9a9a" stroke-width="0.7"/>
<rect x="474.5" y="408.6" width="3.4" height="3.4" fill="none" stroke="#9a9a9a" stroke-width="0.6"/>
<text x="481.5" y="413.6" font-size="9.8" text-anchor="start" fill="#111" stroke="#111" stroke-width="0.16" textLength="42.7" lengthAdjust="spacingAndGlyphs">SGC0946</text>
<rect x="538" y="406.8" width="7" height="7" fill="none" stroke="#f03a22" stroke-width="0.8"/>
<line x1="538" y1="410.3" x2="545" y2="410.3" stroke="#f03a22" stroke-width="0.7"/>
<line x1="541.5" y1="406.8" x2="541.5" y2="413.8" stroke="#f03a22" stroke-width="0.7"/>
<rect x="539.8" y="408.6" width="3.4" height="3.4" fill="#f03a22" stroke="none" stroke-width="1"/>
<text x="547.6" y="413.6" font-size="9.8" text-anchor="start" fill="#111" stroke="#111" stroke-width="0.16">SGC0946+WM1119 (500nM)</text>
<text x="472.7" y="422.4" font-size="7.3" text-anchor="start" fill="#777" stroke="#777" stroke-width="0.131" textLength="53.6" lengthAdjust="spacingAndGlyphs">IC50: 3223.3 nM</text>
<text x="538" y="422.4" font-size="7.3" text-anchor="start" fill="#f22" stroke="#f22" stroke-width="0.131">IC50: 115.9 nM</text>
<text x="538" y="433.3" font-size="7.3" text-anchor="start" fill="#111" stroke="#111" stroke-width="0.131">Fold &gt; 27</text>
<line x1="474.6" y1="426.1" x2="474.6" y2="510.4" stroke="#333" stroke-width="0.9"/>
<line x1="474.6" y1="510.4" x2="580.1" y2="510.4" stroke="#333" stroke-width="0.9"/>
<line x1="472" y1="510.4" x2="474.6" y2="510.4" stroke="#333" stroke-width="0.9"/>
<text x="471.6" y="513.8" font-size="9.5" text-anchor="end" fill="#111" stroke="#111" stroke-width="0.16">0</text>
<line x1="472" y1="475.2" x2="474.6" y2="475.2" stroke="#333" stroke-width="0.9"/>
<text x="471.6" y="478.6" font-size="9.5" text-anchor="end" fill="#111" stroke="#111" stroke-width="0.16">50</text>
<line x1="472" y1="439.7" x2="474.6" y2="439.7" stroke="#333" stroke-width="0.9"/>
<text x="471.6" y="443.1" font-size="9.5" text-anchor="end" fill="#111" stroke="#111" stroke-width="0.16">100</text>
<line x1="474.6" y1="510.4" x2="474.6" y2="513" stroke="#333" stroke-width="0.9"/>
<text x="475.8" y="523.5" font-size="9.5" text-anchor="middle" fill="#111">10<tspan font-size="7" dy="-3.6">-1</tspan></text>
<line x1="495.7" y1="510.4" x2="495.7" y2="513" stroke="#333" stroke-width="0.9"/>
<text x="496.9" y="523.5" font-size="9.5" text-anchor="middle" fill="#111">10<tspan font-size="7" dy="-3.6">0</tspan></text>
<line x1="516.8" y1="510.4" x2="516.8" y2="513" stroke="#333" stroke-width="0.9"/>
<text x="518" y="523.5" font-size="9.5" text-anchor="middle" fill="#111">10<tspan font-size="7" dy="-3.6">1</tspan></text>
<line x1="537.9" y1="510.4" x2="537.9" y2="513" stroke="#333" stroke-width="0.9"/>
<text x="539.1" y="523.5" font-size="9.5" text-anchor="middle" fill="#111">10<tspan font-size="7" dy="-3.6">2</tspan></text>
<line x1="559" y1="510.4" x2="559" y2="513" stroke="#333" stroke-width="0.9"/>
<text x="560.2" y="523.5" font-size="9.5" text-anchor="middle" fill="#111">10<tspan font-size="7" dy="-3.6">3</tspan></text>
<line x1="580.1" y1="510.4" x2="580.1" y2="513" stroke="#333" stroke-width="0.9"/>
<text x="581.3" y="523.5" font-size="9.5" text-anchor="middle" fill="#111">10<tspan font-size="7" dy="-3.6">4</tspan></text>
<text x="525.9" y="535.6" font-size="9.5" text-anchor="middle" fill="#111" stroke="#111" stroke-width="0.16">VTP50469 (nM)</text>
<text transform="translate(452.6,465.5) rotate(-90)" font-size="9.5" text-anchor="middle" fill="#111" stroke="#111" stroke-width="0.16">% Survival</text>
<path d="M480.51,439.82 L481.63,439.86 L482.75,439.90 L483.87,439.94 L484.99,439.98 L486.11,440.03 L487.23,440.08 L488.35,440.13 L489.48,440.18 L490.60,440.24 L491.72,440.30 L492.84,440.36 L493.96,440.42 L495.08,440.49 L496.20,440.56 L497.32,440.64 L498.44,440.72 L499.56,440.80 L500.69,440.89 L501.81,440.98 L502.93,441.08 L504.05,441.18 L505.17,441.29 L506.29,441.40 L507.41,441.51 L508.53,441.64 L509.65,441.77 L510.77,441.90 L511.90,442.05 L513.02,442.20 L514.14,442.36 L515.26,442.52 L516.38,442.70 L517.50,442.88 L518.62,443.07 L519.74,443.27 L520.86,443.48 L521.98,443.71 L523.10,443.94 L524.23,444.19 L525.35,444.45 L526.47,444.72 L527.59,445.00 L528.71,445.30 L529.83,445.62 L530.95,445.95 L532.07,446.29 L533.19,446.66 L534.31,447.04 L535.44,447.44 L536.56,447.86 L537.68,448.31 L538.80,448.77 L539.92,449.26 L541.04,449.78 L542.16,450.31 L543.28,450.88 L544.40,451.48 L545.52,452.10 L546.65,452.76 L547.77,453.45 L548.89,454.18 L550.01,454.94 L551.13,455.74 L552.25,456.58 L553.37,457.46 L554.49,458.39 L555.61,459.36 L556.73,460.38 L557.85,461.46 L558.98,462.58 L560.10,463.77 L561.22,465.01 L562.34,466.32 L563.46,467.69 L564.58,469.14 L565.70,470.65 L566.82,472.24 L567.94,473.91 L569.06,475.67" fill="none" stroke="#8a8a8a" stroke-width="0.8"/>
<path d="M480.51,438.11 L481.63,438.15 L482.75,438.19 L483.87,438.24 L484.99,438.29 L486.11,438.36 L487.23,438.43 L488.35,438.51 L489.48,438.60 L490.60,438.71 L491.72,438.83 L492.84,438.97 L493.96,439.13 L495.08,439.30 L496.20,439.50 L497.32,439.73 L498.44,439.99 L499.56,440.28 L500.69,440.61 L501.81,440.98 L502.93,441.40 L504.05,441.87 L505.17,442.39 L506.29,442.98 L507.41,443.63 L508.53,444.35 L509.65,445.15 L510.77,446.03 L511.90,446.99 L513.02,448.04 L514.14,449.18 L515.26,450.41 L516.38,451.73 L517.50,453.13 L518.62,454.61 L519.74,456.17 L520.86,457.78 L521.98,459.45 L523.10,461.16 L524.23,462.89 L525.35,464.64 L526.47,466.37 L527.59,468.09 L528.71,469.77 L529.83,471.40 L530.95,472.97 L532.07,474.47 L533.19,475.89 L534.31,477.23 L535.44,478.48 L536.56,479.64 L537.68,480.71 L538.80,481.69 L539.92,482.59 L541.04,483.41 L542.16,484.15 L543.28,484.82 L544.40,485.42 L545.52,485.96 L546.65,486.44 L547.77,486.87 L548.89,487.25 L550.01,487.59 L551.13,487.89 L552.25,488.15 L553.37,488.39 L554.49,488.60 L555.61,488.78 L556.73,488.94 L557.85,489.08 L558.98,489.21 L560.10,489.32 L561.22,489.41 L562.34,489.50 L563.46,489.57 L564.58,489.64 L565.70,489.69 L566.82,489.74 L567.94,489.79 L569.06,489.83" fill="none" stroke="#f03a22" stroke-width="1"/>
<circle cx="480.5" cy="438.6" r="1.9" fill="none" stroke="#9a9a9a" stroke-width="0.8"/>
<circle cx="480.5" cy="440.1" r="1.9" fill="none" stroke="#9a9a9a" stroke-width="0.8"/>
<circle cx="516.6" cy="439.7" r="1.9" fill="none" stroke="#9a9a9a" stroke-width="0.8"/>
<circle cx="516.6" cy="441.5" r="1.9" fill="none" stroke="#9a9a9a" stroke-width="0.8"/>
<circle cx="526.9" cy="447.6" r="1.9" fill="none" stroke="#9a9a9a" stroke-width="0.8"/>
<circle cx="526.9" cy="449.1" r="1.9" fill="none" stroke="#9a9a9a" stroke-width="0.8"/>
<circle cx="537.9" cy="450" r="1.9" fill="none" stroke="#9a9a9a" stroke-width="0.8"/>
<circle cx="537.9" cy="452.8" r="1.9" fill="none" stroke="#9a9a9a" stroke-width="0.8"/>
<circle cx="548" cy="448" r="1.9" fill="none" stroke="#9a9a9a" stroke-width="0.8"/>
<circle cx="548" cy="449.6" r="1.9" fill="none" stroke="#9a9a9a" stroke-width="0.8"/>
<circle cx="553.9" cy="453.3" r="1.9" fill="none" stroke="#9a9a9a" stroke-width="0.8"/>
<circle cx="553.9" cy="455" r="1.9" fill="none" stroke="#9a9a9a" stroke-width="0.8"/>
<circle cx="553.9" cy="457.7" r="1.9" fill="none" stroke="#9a9a9a" stroke-width="0.8"/>
<circle cx="558.9" cy="463.4" r="1.9" fill="none" stroke="#9a9a9a" stroke-width="0.8"/>
<circle cx="558.9" cy="464.9" r="1.9" fill="none" stroke="#9a9a9a" stroke-width="0.8"/>
<circle cx="558.9" cy="469.9" r="1.9" fill="none" stroke="#9a9a9a" stroke-width="0.8"/>
<circle cx="569.2" cy="473.6" r="1.9" fill="none" stroke="#9a9a9a" stroke-width="0.8"/>
<circle cx="569.2" cy="476.9" r="1.9" fill="none" stroke="#9a9a9a" stroke-width="0.8"/>
<circle cx="480.5" cy="438" r="1.9" fill="none" stroke="#f03a22" stroke-width="0.9"/>
<circle cx="480.5" cy="439" r="1.9" fill="none" stroke="#f03a22" stroke-width="0.9"/>
<circle cx="516.6" cy="445.8" r="1.9" fill="none" stroke="#f03a22" stroke-width="0.9"/>
<circle cx="516.6" cy="455.5" r="1.9" fill="none" stroke="#f03a22" stroke-width="0.9"/>
<circle cx="526.9" cy="470.8" r="1.9" fill="none" stroke="#f03a22" stroke-width="0.9"/>
<circle cx="537.9" cy="478.7" r="1.9" fill="none" stroke="#f03a22" stroke-width="0.9"/>
<circle cx="548" cy="486.3" r="1.9" fill="none" stroke="#f03a22" stroke-width="0.9"/>
<circle cx="548" cy="487.2" r="1.9" fill="none" stroke="#f03a22" stroke-width="0.9"/>
<circle cx="553.9" cy="487.2" r="1.9" fill="none" stroke="#f03a22" stroke-width="0.9"/>
<circle cx="553.9" cy="488" r="1.9" fill="none" stroke="#f03a22" stroke-width="0.9"/>
<circle cx="558.9" cy="487.9" r="1.9" fill="none" stroke="#f03a22" stroke-width="0.9"/>
<circle cx="558.9" cy="489.2" r="1.9" fill="none" stroke="#f03a22" stroke-width="0.9"/>
<circle cx="569.2" cy="491.2" r="1.9" fill="none" stroke="#f03a22" stroke-width="0.9"/>
<circle cx="569.2" cy="492.3" r="1.9" fill="none" stroke="#f03a22" stroke-width="0.9"/>
<line x1="623.2" y1="430" x2="623.2" y2="514.3" stroke="#333" stroke-width="0.9"/>
<line x1="623.2" y1="514.3" x2="685" y2="514.3" stroke="#333" stroke-width="0.9"/>
<line x1="621.2" y1="514.3" x2="623.2" y2="514.3" stroke="#333" stroke-width="0.9"/>
<text x="621.1" y="517.8" font-size="9.9" text-anchor="end" fill="#111" stroke="#111" stroke-width="0.16">0</text>
<line x1="621.2" y1="497.5" x2="623.2" y2="497.5" stroke="#333" stroke-width="0.9"/>
<text x="621.1" y="501" font-size="9.9" text-anchor="end" fill="#111" stroke="#111" stroke-width="0.16">1000</text>
<line x1="621.2" y1="480.4" x2="623.2" y2="480.4" stroke="#333" stroke-width="0.9"/>
<text x="621.1" y="483.9" font-size="9.9" text-anchor="end" fill="#111" stroke="#111" stroke-width="0.16">2000</text>
<line x1="621.2" y1="463.9" x2="623.2" y2="463.9" stroke="#333" stroke-width="0.9"/>
<text x="621.1" y="467.4" font-size="9.9" text-anchor="end" fill="#111" stroke="#111" stroke-width="0.16">3000</text>
<line x1="621.2" y1="446.8" x2="623.2" y2="446.8" stroke="#333" stroke-width="0.9"/>
<text x="621.1" y="450.3" font-size="9.9" text-anchor="end" fill="#111" stroke="#111" stroke-width="0.16">4000</text>
<line x1="621.2" y1="430" x2="623.2" y2="430" stroke="#333" stroke-width="0.9"/>
<text x="621.1" y="433.5" font-size="9.9" text-anchor="end" fill="#111" stroke="#111" stroke-width="0.16">5000</text>
<line x1="640.8" y1="514.3" x2="640.8" y2="516.7" stroke="#333" stroke-width="0.9"/>
<line x1="667.5" y1="514.3" x2="667.5" y2="516.7" stroke="#333" stroke-width="0.9"/>
<text x="652.2" y="529.6" font-size="9.5" text-anchor="middle" fill="#111" stroke="#111" stroke-width="0.16">IC50 (nM)</text>
<rect x="632.2" y="460.5" width="17.5" height="53.8" fill="#dedede" stroke="#444" stroke-width="0.8"/>
<line x1="640.8" y1="447.4" x2="640.8" y2="473.8" stroke="#333" stroke-width="0.8"/>
<line x1="636.1" y1="447.4" x2="645.1" y2="447.4" stroke="#333" stroke-width="0.8"/>
<line x1="636.1" y1="473.8" x2="645.1" y2="473.8" stroke="#333" stroke-width="0.8"/>
<circle cx="640.9" cy="447.8" r="1.9" fill="#fff" stroke="#222" stroke-width="0.8"/>
<circle cx="640.9" cy="458.4" r="1.9" fill="#fff" stroke="#222" stroke-width="0.8"/>
<circle cx="640.9" cy="474.9" r="1.9" fill="#fff" stroke="#222" stroke-width="0.8"/>
<line x1="658" y1="512.9" x2="677" y2="512.9" stroke="#222" stroke-width="2"/>
<circle cx="659.7" cy="512.8" r="1.9" fill="#fff" stroke="#222" stroke-width="0.8"/>
<circle cx="667.8" cy="512.8" r="1.9" fill="#fff" stroke="#222" stroke-width="0.8"/>
<circle cx="675.2" cy="512.8" r="1.9" fill="#fff" stroke="#222" stroke-width="0.8"/>
<path d="M640.2,440.1 L640.2,437.3 L666.5,437.3 L666.5,440.1" fill="none" stroke="#777" stroke-width="0.8"/>
<text x="653.35" y="440.8" font-size="15" text-anchor="middle" fill="#111" stroke="#111" stroke-width="0.16">***</text>
<text x="2.2" y="596" font-size="12" text-anchor="start" fill="#222" stroke="#222" stroke-width="0.16">J</text>
<rect x="30.2" y="626.4" width="7" height="7" fill="none" stroke="#9a9a9a" stroke-width="0.8"/>
<line x1="30.2" y1="629.9" x2="37.2" y2="629.9" stroke="#9a9a9a" stroke-width="0.7"/>
<line x1="33.7" y1="626.4" x2="33.7" y2="633.4" stroke="#9a9a9a" stroke-width="0.7"/>
<rect x="32" y="628.2" width="3.4" height="3.4" fill="none" stroke="#9a9a9a" stroke-width="0.6"/>
<text x="39" y="632" font-size="9.8" text-anchor="start" fill="#111" stroke="#111" stroke-width="0.16">sgLuc</text>
<rect x="95.2" y="626.4" width="7" height="7" fill="none" stroke="#f03a22" stroke-width="0.8"/>
<line x1="95.2" y1="629.9" x2="102.2" y2="629.9" stroke="#f03a22" stroke-width="0.7"/>
<line x1="98.7" y1="626.4" x2="98.7" y2="633.4" stroke="#f03a22" stroke-width="0.7"/>
<rect x="97" y="628.2" width="3.4" height="3.4" fill="#f03a22" stroke="none" stroke-width="1"/>
<text x="104" y="632" font-size="9.8" text-anchor="start" fill="#111" stroke="#111" stroke-width="0.16">sgPCGF1</text>
<text x="30" y="643" font-size="7.3" text-anchor="start" fill="#777" stroke="#777" stroke-width="0.131" textLength="48.8" lengthAdjust="spacingAndGlyphs">IC50: 259.4 nM</text>
<text x="95.7" y="643" font-size="7.3" text-anchor="start" fill="#f22" stroke="#f22" stroke-width="0.131" textLength="51.4" lengthAdjust="spacingAndGlyphs">IC50: 15050 nM</text>
<line x1="29.1" y1="645.2" x2="29.1" y2="732.8" stroke="#333" stroke-width="0.9"/>
<line x1="29.1" y1="732.8" x2="137.5" y2="732.8" stroke="#333" stroke-width="0.9"/>
<line x1="24.6" y1="732.8" x2="29.1" y2="732.8" stroke="#333" stroke-width="0.9"/>
<text x="23.5" y="736.2" font-size="9.5" text-anchor="end" fill="#111" stroke="#111" stroke-width="0.16">0</text>
<line x1="24.6" y1="695.9" x2="29.1" y2="695.9" stroke="#333" stroke-width="0.9"/>
<text x="23.5" y="699.3" font-size="9.5" text-anchor="end" fill="#111" stroke="#111" stroke-width="0.16">50</text>
<line x1="24.6" y1="659.4" x2="29.1" y2="659.4" stroke="#333" stroke-width="0.9"/>
<text x="23.5" y="662.8" font-size="9.5" text-anchor="end" fill="#111" stroke="#111" stroke-width="0.16">100</text>
<line x1="29.1" y1="732.8" x2="29.1" y2="735.4" stroke="#333" stroke-width="0.9"/>
<text x="30.3" y="746.3" font-size="9.5" text-anchor="middle" fill="#111">10<tspan font-size="7" dy="-3.6">-1</tspan></text>
<line x1="50.78" y1="732.8" x2="50.78" y2="735.4" stroke="#333" stroke-width="0.9"/>
<text x="51.98" y="746.3" font-size="9.5" text-anchor="middle" fill="#111">10<tspan font-size="7" dy="-3.6">0</tspan></text>
<line x1="72.46" y1="732.8" x2="72.46" y2="735.4" stroke="#333" stroke-width="0.9"/>
<text x="73.66" y="746.3" font-size="9.5" text-anchor="middle" fill="#111">10<tspan font-size="7" dy="-3.6">1</tspan></text>
<line x1="94.14" y1="732.8" x2="94.14" y2="735.4" stroke="#333" stroke-width="0.9"/>
<text x="95.34" y="746.3" font-size="9.5" text-anchor="middle" fill="#111">10<tspan font-size="7" dy="-3.6">2</tspan></text>
<line x1="115.82" y1="732.8" x2="115.82" y2="735.4" stroke="#333" stroke-width="0.9"/>
<text x="117.02" y="746.3" font-size="9.5" text-anchor="middle" fill="#111">10<tspan font-size="7" dy="-3.6">3</tspan></text>
<line x1="137.5" y1="732.8" x2="137.5" y2="735.4" stroke="#333" stroke-width="0.9"/>
<text x="138.7" y="746.3" font-size="9.5" text-anchor="middle" fill="#111">10<tspan font-size="7" dy="-3.6">4</tspan></text>
<text x="82.1" y="762" font-size="9.5" text-anchor="middle" fill="#111" stroke="#111" stroke-width="0.16">SGC0946 (nM)</text>
<text transform="translate(6.6,686) rotate(-90)" font-size="9.5" text-anchor="middle" fill="#111" stroke="#111" stroke-width="0.16">% Survival</text>
<text x="32.4" y="726.2" font-size="9.6" text-anchor="start" fill="#111" stroke="#111" stroke-width="0.16">MOLM-13</text>
<path d="M35.17,659.93 L36.32,659.93 L37.47,659.93 L38.63,659.93 L39.78,659.93 L40.93,659.93 L42.08,659.93 L43.23,659.93 L44.38,659.93 L45.54,659.93 L46.69,659.93 L47.84,659.93 L48.99,659.93 L50.14,659.93 L51.30,659.93 L52.45,659.93 L53.60,659.93 L54.75,659.93 L55.90,659.93 L57.05,659.93 L58.21,659.93 L59.36,659.93 L60.51,659.93 L61.66,659.93 L62.81,659.93 L63.97,659.93 L65.12,659.94 L66.27,659.94 L67.42,659.95 L68.57,659.95 L69.72,659.96 L70.88,659.97 L72.03,659.99 L73.18,660.01 L74.33,660.03 L75.48,660.07 L76.63,660.11 L77.79,660.17 L78.94,660.24 L80.09,660.34 L81.24,660.47 L82.39,660.63 L83.55,660.85 L84.70,661.14 L85.85,661.51 L87.00,661.99 L88.15,662.61 L89.30,663.40 L90.46,664.41 L91.61,665.68 L92.76,667.27 L93.91,669.23 L95.06,671.59 L96.21,674.39 L97.37,677.63 L98.52,681.27 L99.67,685.24 L100.82,689.40 L101.97,693.63 L103.13,697.76 L104.28,701.65 L105.43,705.20 L106.58,708.33 L107.73,711.02 L108.88,713.29 L110.04,715.15 L111.19,716.65 L112.34,717.85 L113.49,718.81 L114.64,719.55 L115.80,720.13 L116.95,720.58 L118.10,720.93 L119.25,721.19 L120.40,721.40 L121.55,721.56 L122.71,721.68 L123.86,721.77 L125.01,721.84 L126.16,721.89" fill="none" stroke="#8a8a8a" stroke-width="0.8"/>
<path d="M35.17,659.50 L36.32,659.50 L37.47,659.50 L38.63,659.50 L39.78,659.50 L40.93,659.50 L42.08,659.50 L43.23,659.50 L44.38,659.50 L45.54,659.50 L46.69,659.50 L47.84,659.50 L48.99,659.50 L50.14,659.50 L51.30,659.50 L52.45,659.50 L53.60,659.50 L54.75,659.50 L55.90,659.50 L57.05,659.50 L58.21,659.50 L59.36,659.50 L60.51,659.50 L61.66,659.50 L62.81,659.50 L63.97,659.50 L65.12,659.50 L66.27,659.50 L67.42,659.50 L68.57,659.50 L69.72,659.50 L70.88,659.50 L72.03,659.50 L73.18,659.50 L74.33,659.50 L75.48,659.50 L76.63,659.50 L77.79,659.51 L78.94,659.51 L80.09,659.51 L81.24,659.51 L82.39,659.51 L83.55,659.52 L84.70,659.52 L85.85,659.53 L87.00,659.54 L88.15,659.55 L89.30,659.56 L90.46,659.57 L91.61,659.59 L92.76,659.62 L93.91,659.65 L95.06,659.70 L96.21,659.75 L97.37,659.82 L98.52,659.90 L99.67,660.01 L100.82,660.14 L101.97,660.31 L103.13,660.52 L104.28,660.77 L105.43,661.08 L106.58,661.45 L107.73,661.90 L108.88,662.41 L110.04,663.00 L111.19,663.66 L112.34,664.38 L113.49,665.15 L114.64,665.94 L115.80,666.73 L116.95,667.50 L118.10,668.23 L119.25,668.90 L120.40,669.50 L121.55,670.03 L122.71,670.48 L123.86,670.86 L125.01,671.18 L126.16,671.45" fill="none" stroke="#f03a22" stroke-width="1"/>
<circle cx="35" cy="656.8" r="1.9" fill="none" stroke="#9a9a9a" stroke-width="0.8"/>
<circle cx="35" cy="659" r="1.9" fill="none" stroke="#9a9a9a" stroke-width="0.8"/>
<circle cx="72.3" cy="657.2" r="1.9" fill="none" stroke="#9a9a9a" stroke-width="0.8"/>
<circle cx="72.3" cy="660" r="1.9" fill="none" stroke="#9a9a9a" stroke-width="0.8"/>
<circle cx="82.8" cy="661.6" r="1.9" fill="none" stroke="#9a9a9a" stroke-width="0.8"/>
<circle cx="82.8" cy="663.4" r="1.9" fill="none" stroke="#9a9a9a" stroke-width="0.8"/>
<circle cx="82.8" cy="664.9" r="1.9" fill="none" stroke="#9a9a9a" stroke-width="0.8"/>
<circle cx="94.2" cy="668.6" r="1.9" fill="none" stroke="#9a9a9a" stroke-width="0.8"/>
<circle cx="94.2" cy="669.9" r="1.9" fill="none" stroke="#9a9a9a" stroke-width="0.8"/>
<circle cx="104.7" cy="702.1" r="1.9" fill="none" stroke="#9a9a9a" stroke-width="0.8"/>
<circle cx="104.7" cy="703.6" r="1.9" fill="none" stroke="#9a9a9a" stroke-width="0.8"/>
<circle cx="111.2" cy="718.5" r="1.9" fill="none" stroke="#9a9a9a" stroke-width="0.8"/>
<circle cx="116" cy="719" r="1.9" fill="none" stroke="#9a9a9a" stroke-width="0.8"/>
<circle cx="126.6" cy="720.7" r="1.9" fill="none" stroke="#9a9a9a" stroke-width="0.8"/>
<circle cx="126.6" cy="722.9" r="1.9" fill="none" stroke="#9a9a9a" stroke-width="0.8"/>
<circle cx="35" cy="660" r="1.9" fill="none" stroke="#f03a22" stroke-width="0.9"/>
<circle cx="35" cy="661.2" r="1.9" fill="none" stroke="#f03a22" stroke-width="0.9"/>
<circle cx="72.3" cy="656.8" r="1.9" fill="none" stroke="#f03a22" stroke-width="0.9"/>
<circle cx="72.3" cy="659" r="1.9" fill="none" stroke="#f03a22" stroke-width="0.9"/>
<circle cx="82.8" cy="659.4" r="1.9" fill="none" stroke="#f03a22" stroke-width="0.9"/>
<circle cx="82.8" cy="660.5" r="1.9" fill="none" stroke="#f03a22" stroke-width="0.9"/>
<circle cx="94.2" cy="653.9" r="1.9" fill="none" stroke="#f03a22" stroke-width="0.9"/>
<circle cx="94.2" cy="660" r="1.9" fill="none" stroke="#f03a22" stroke-width="0.9"/>
<circle cx="104.7" cy="656.1" r="1.9" fill="none" stroke="#f03a22" stroke-width="0.9"/>
<circle cx="104.7" cy="660.5" r="1.9" fill="none" stroke="#f03a22" stroke-width="0.9"/>
<circle cx="111.2" cy="661.2" r="1.9" fill="none" stroke="#f03a22" stroke-width="0.9"/>
<circle cx="111.2" cy="661.6" r="1.9" fill="none" stroke="#f03a22" stroke-width="0.9"/>
<circle cx="116" cy="666.6" r="1.9" fill="none" stroke="#f03a22" stroke-width="0.9"/>
<circle cx="116" cy="667.7" r="1.9" fill="none" stroke="#f03a22" stroke-width="0.9"/>
<circle cx="116" cy="670.8" r="1.9" fill="none" stroke="#f03a22" stroke-width="0.9"/>
<circle cx="126.6" cy="672.1" r="1.9" fill="none" stroke="#f03a22" stroke-width="0.9"/>
<circle cx="126.6" cy="672.6" r="1.9" fill="none" stroke="#f03a22" stroke-width="0.9"/>
<line x1="176.3" y1="651.1" x2="176.3" y2="738.3" stroke="#333" stroke-width="0.9"/>
<line x1="176.3" y1="738.3" x2="239" y2="738.3" stroke="#333" stroke-width="0.9"/>
<line x1="174.3" y1="738.3" x2="176.3" y2="738.3" stroke="#333" stroke-width="0.9"/>
<text x="174.2" y="741.8" font-size="9.9" text-anchor="end" fill="#111" stroke="#111" stroke-width="0.16">0</text>
<line x1="174.3" y1="716.3" x2="176.3" y2="716.3" stroke="#333" stroke-width="0.9"/>
<text x="174.2" y="719.8" font-size="9.9" text-anchor="end" fill="#111" stroke="#111" stroke-width="0.16">5000</text>
<line x1="174.3" y1="694.6" x2="176.3" y2="694.6" stroke="#333" stroke-width="0.9"/>
<text x="174.2" y="698.1" font-size="9.9" text-anchor="end" fill="#111" stroke="#111" stroke-width="0.16">10000</text>
<line x1="174.3" y1="673" x2="176.3" y2="673" stroke="#333" stroke-width="0.9"/>
<text x="174.2" y="676.5" font-size="9.9" text-anchor="end" fill="#111" stroke="#111" stroke-width="0.16">15000</text>
<line x1="174.3" y1="651.1" x2="176.3" y2="651.1" stroke="#333" stroke-width="0.9"/>
<text x="174.2" y="654.6" font-size="9.9" text-anchor="end" fill="#111" stroke="#111" stroke-width="0.16">20000</text>
<line x1="196.8" y1="738.3" x2="196.8" y2="740.7" stroke="#333" stroke-width="0.9"/>
<line x1="224.3" y1="738.3" x2="224.3" y2="740.7" stroke="#333" stroke-width="0.9"/>
<text x="208.7" y="759" font-size="9.5" text-anchor="middle" fill="#111" stroke="#111" stroke-width="0.16">IC50 (nM)</text>
<line x1="188" y1="737.6" x2="206" y2="737.6" stroke="#222" stroke-width="1.4"/>
<rect x="215.4" y="673" width="17.9" height="65.3" fill="#fcbcb2" stroke="#f44" stroke-width="0.8"/>
<line x1="224.3" y1="655.6" x2="224.3" y2="689.4" stroke="#333" stroke-width="0.8"/>
<line x1="219.3" y1="655.6" x2="228.9" y2="655.6" stroke="#333" stroke-width="0.8"/>
<line x1="219.3" y1="689.4" x2="228.9" y2="689.4" stroke="#333" stroke-width="0.8"/>
<circle cx="224.3" cy="660.9" r="1.9" fill="#fff" stroke="#222" stroke-width="0.8"/>
<circle cx="224.3" cy="664.6" r="1.9" fill="#fff" stroke="#222" stroke-width="0.8"/>
<circle cx="224.3" cy="692.4" r="1.9" fill="#fff" stroke="#222" stroke-width="0.8"/>
<circle cx="188.9" cy="737.4" r="1.9" fill="#fff" stroke="#222" stroke-width="0.8"/>
<circle cx="196.8" cy="737.4" r="1.9" fill="#fff" stroke="#222" stroke-width="0.8"/>
<circle cx="204.4" cy="737.4" r="1.9" fill="#fff" stroke="#222" stroke-width="0.8"/>
<path d="M196.5,647.7 L196.5,645.2 L222.6,645.2 L222.6,647.7" fill="none" stroke="#777" stroke-width="0.8"/>
<text x="209.55" y="647.8" font-size="15" text-anchor="middle" fill="#111" stroke="#111" stroke-width="0.16">****</text>
<text x="257.6" y="597.8" font-size="12" text-anchor="start" fill="#222" stroke="#222" stroke-width="0.16">K</text>
<text x="364.1" y="593.6" font-size="9.3" text-anchor="middle" fill="#111" stroke="#111" stroke-width="0.16">VTP50469</text>
<line x1="306.7" y1="603.4" x2="423.6" y2="603.4" stroke="#d9d9d9" stroke-width="1"/>
<line x1="306.7" y1="614.637" x2="423.6" y2="614.637" stroke="#d9d9d9" stroke-width="1"/>
<line x1="306.7" y1="625.875" x2="423.6" y2="625.875" stroke="#d9d9d9" stroke-width="1"/>
<line x1="306.7" y1="637.112" x2="423.6" y2="637.112" stroke="#d9d9d9" stroke-width="1"/>
<line x1="306.7" y1="648.35" x2="423.6" y2="648.35" stroke="#d9d9d9" stroke-width="1"/>
<line x1="306.7" y1="659.587" x2="423.6" y2="659.587" stroke="#d9d9d9" stroke-width="1"/>
<line x1="306.7" y1="670.825" x2="423.6" y2="670.825" stroke="#d9d9d9" stroke-width="1"/>
<line x1="306.7" y1="682.062" x2="423.6" y2="682.062" stroke="#d9d9d9" stroke-width="1"/>
<line x1="306.7" y1="693.3" x2="423.6" y2="693.3" stroke="#d9d9d9" stroke-width="1"/>
<line x1="306.7" y1="704.538" x2="423.6" y2="704.538" stroke="#d9d9d9" stroke-width="1"/>
<line x1="306.7" y1="715.775" x2="423.6" y2="715.775" stroke="#d9d9d9" stroke-width="1"/>
<line x1="306.7" y1="727.013" x2="423.6" y2="727.013" stroke="#d9d9d9" stroke-width="1"/>
<line x1="306.7" y1="738.25" x2="423.6" y2="738.25" stroke="#d9d9d9" stroke-width="1"/>
<line x1="306.7" y1="749.488" x2="423.6" y2="749.488" stroke="#d9d9d9" stroke-width="1"/>
<line x1="306.7" y1="760.725" x2="423.6" y2="760.725" stroke="#d9d9d9" stroke-width="1"/>
<line x1="306.7" y1="771.963" x2="423.6" y2="771.963" stroke="#d9d9d9" stroke-width="1"/>
<line x1="306.7" y1="783.2" x2="423.6" y2="783.2" stroke="#d9d9d9" stroke-width="1"/>
<line x1="328.2" y1="597" x2="328.2" y2="789.5" stroke="#c4c4c4" stroke-width="0.8"/>
<line x1="365" y1="597" x2="365" y2="789.5" stroke="#c4c4c4" stroke-width="0.8"/>
<line x1="401.6" y1="597" x2="401.6" y2="789.5" stroke="#c4c4c4" stroke-width="0.8"/>
<circle cx="328.2" cy="603.4" r="1.6" fill="#fff" stroke="none" stroke-width="1"/>
<circle cx="328.2" cy="603.4" r="0.55" fill="#f7906e" stroke="none" stroke-width="1"/>
<circle cx="365" cy="603.4" r="1.6" fill="#fff" stroke="none" stroke-width="1"/>
<circle cx="365" cy="603.4" r="0.55" fill="#f7906e" stroke="none" stroke-width="1"/>
<circle cx="401.6" cy="603.4" r="1.6" fill="#fff" stroke="none" stroke-width="1"/>
<circle cx="401.6" cy="603.4" r="0.55" fill="#f6c0b0" stroke="none" stroke-width="1"/>
<circle cx="365" cy="637.112" r="1.6" fill="#fff" stroke="none" stroke-width="1"/>
<circle cx="365" cy="637.112" r="0.55" fill="#9d8cf5" stroke="none" stroke-width="1"/>
<circle cx="401.6" cy="637.112" r="1.6" fill="#fff" stroke="none" stroke-width="1"/>
<circle cx="401.6" cy="637.112" r="0.55" fill="#f7906e" stroke="none" stroke-width="1"/>
<circle cx="328.2" cy="648.35" r="1.6" fill="#fff" stroke="none" stroke-width="1"/>
<circle cx="328.2" cy="648.35" r="0.55" fill="#f7906e" stroke="none" stroke-width="1"/>
<circle cx="365" cy="648.35" r="1.6" fill="#fff" stroke="none" stroke-width="1"/>
<circle cx="365" cy="648.35" r="0.55" fill="#9d8cf5" stroke="none" stroke-width="1"/>
<circle cx="401.6" cy="648.35" r="1.6" fill="#fff" stroke="none" stroke-width="1"/>
<circle cx="401.6" cy="648.35" r="0.55" fill="#f7906e" stroke="none" stroke-width="1"/>
<circle cx="328.2" cy="659.587" r="1.6" fill="#fff" stroke="none" stroke-width="1"/>
<circle cx="328.2" cy="659.587" r="0.55" fill="#f7906e" stroke="none" stroke-width="1"/>
<circle cx="365" cy="659.587" r="1.6" fill="#fff" stroke="none" stroke-width="1"/>
<circle cx="365" cy="659.587" r="0.55" fill="#f6c0b0" stroke="none" stroke-width="1"/>
<circle cx="328.2" cy="670.825" r="1.6" fill="#fff" stroke="none" stroke-width="1"/>
<circle cx="328.2" cy="670.825" r="0.55" fill="#9d8cf5" stroke="none" stroke-width="1"/>
<circle cx="401.6" cy="670.825" r="1.6" fill="#fff" stroke="none" stroke-width="1"/>
<circle cx="401.6" cy="670.825" r="0.55" fill="#9d8cf5" stroke="none" stroke-width="1"/>
<circle cx="328.2" cy="682.062" r="1.6" fill="#fff" stroke="none" stroke-width="1"/>
<circle cx="328.2" cy="682.062" r="0.55" fill="#f6c0b0" stroke="none" stroke-width="1"/>
<circle cx="328.2" cy="693.3" r="1.6" fill="#fff" stroke="none" stroke-width="1"/>
<circle cx="328.2" cy="693.3" r="0.55" fill="#f7906e" stroke="none" stroke-width="1"/>
<circle cx="365" cy="693.3" r="1.6" fill="#fff" stroke="none" stroke-width="1"/>
<circle cx="365" cy="693.3" r="0.55" fill="#9d8cf5" stroke="none" stroke-width="1"/>
<circle cx="401.6" cy="693.3" r="1.6" fill="#fff" stroke="none" stroke-width="1"/>
<circle cx="401.6" cy="693.3" r="0.55" fill="#9d8cf5" stroke="none" stroke-width="1"/>
<circle cx="328.2" cy="715.775" r="1.6" fill="#fff" stroke="none" stroke-width="1"/>
<circle cx="328.2" cy="715.775" r="0.55" fill="#f6c0b0" stroke="none" stroke-width="1"/>
<circle cx="401.6" cy="715.775" r="1.6" fill="#fff" stroke="none" stroke-width="1"/>
<circle cx="401.6" cy="715.775" r="0.55" fill="#f6c0b0" stroke="none" stroke-width="1"/>
<circle cx="401.6" cy="727.013" r="1.6" fill="#fff" stroke="none" stroke-width="1"/>
<circle cx="401.6" cy="727.013" r="0.55" fill="#9d8cf5" stroke="none" stroke-width="1"/>
<circle cx="401.6" cy="738.25" r="1.6" fill="#fff" stroke="none" stroke-width="1"/>
<circle cx="401.6" cy="738.25" r="0.55" fill="#f6c0b0" stroke="none" stroke-width="1"/>
<circle cx="401.6" cy="749.488" r="1.6" fill="#fff" stroke="none" stroke-width="1"/>
<circle cx="401.6" cy="749.488" r="0.55" fill="#9d8cf5" stroke="none" stroke-width="1"/>
<circle cx="328.2" cy="760.725" r="1.6" fill="#fff" stroke="none" stroke-width="1"/>
<circle cx="328.2" cy="760.725" r="0.55" fill="#9d8cf5" stroke="none" stroke-width="1"/>
<circle cx="401.6" cy="760.725" r="1.6" fill="#fff" stroke="none" stroke-width="1"/>
<circle cx="401.6" cy="760.725" r="0.55" fill="#f6c0b0" stroke="none" stroke-width="1"/>
<circle cx="401.6" cy="783.2" r="1.6" fill="#fff" stroke="none" stroke-width="1"/>
<circle cx="401.6" cy="783.2" r="0.55" fill="#f6c0b0" stroke="none" stroke-width="1"/>
<circle cx="328.2" cy="614.637" r="3.3" fill="#f03c1c" stroke="#111" stroke-width="0.75"/>
<circle cx="365" cy="614.637" r="3" fill="#f34a2a" stroke="#111" stroke-width="0.75"/>
<circle cx="401.6" cy="614.637" r="2.4" fill="#ec6040" stroke="#111" stroke-width="0.75"/>
<circle cx="328.2" cy="625.875" r="2.8" fill="#f04020" stroke="#111" stroke-width="0.75"/>
<circle cx="365" cy="625.875" r="2.9" fill="#ff0a0a" stroke="#111" stroke-width="0.75"/>
<circle cx="401.6" cy="625.875" r="1.8" fill="#ee6040" stroke="#111" stroke-width="0.75"/>
<circle cx="328.2" cy="637.112" r="1.7" fill="#f08866" stroke="#111" stroke-width="0.75"/>
<circle cx="401.6" cy="659.587" r="2.4" fill="#ee5535" stroke="#111" stroke-width="0.75"/>
<circle cx="365" cy="670.825" r="2.8" fill="#5a40f0" stroke="#111" stroke-width="0.75"/>
<circle cx="365" cy="682.062" r="1.6" fill="#7058f0" stroke="#111" stroke-width="0.75"/>
<circle cx="401.6" cy="682.062" r="1.7" fill="#ef7050" stroke="#111" stroke-width="0.75"/>
<circle cx="328.2" cy="704.538" r="2.5" fill="#ee5030" stroke="#111" stroke-width="0.75"/>
<circle cx="365" cy="704.538" r="2" fill="#ee6040" stroke="#111" stroke-width="0.75"/>
<circle cx="401.6" cy="704.538" r="2" fill="#ee6545" stroke="#111" stroke-width="0.75"/>
<circle cx="365" cy="715.775" r="2.3" fill="#6650f0" stroke="#111" stroke-width="0.75"/>
<circle cx="328.2" cy="727.013" r="2.2" fill="#6a55ee" stroke="#111" stroke-width="0.75"/>
<circle cx="365" cy="727.013" r="2.8" fill="#5040f5" stroke="#111" stroke-width="0.75"/>
<circle cx="328.2" cy="738.25" r="1.8" fill="#7a65ee" stroke="#111" stroke-width="0.75"/>
<circle cx="365" cy="738.25" r="2" fill="#6a55ee" stroke="#111" stroke-width="0.75"/>
<circle cx="328.2" cy="749.488" r="2.4" fill="#5a45f0" stroke="#111" stroke-width="0.75"/>
<circle cx="365" cy="749.488" r="3" fill="#2010ff" stroke="#111" stroke-width="0.75"/>
<circle cx="365" cy="760.725" r="2.3" fill="#6d5aef" stroke="#111" stroke-width="0.75"/>
<circle cx="328.2" cy="771.963" r="2.7" fill="#ee4a2a" stroke="#111" stroke-width="0.75"/>
<circle cx="365" cy="771.963" r="2.2" fill="#ee5a3a" stroke="#111" stroke-width="0.75"/>
<circle cx="401.6" cy="771.963" r="3" fill="#ef4a2a" stroke="#111" stroke-width="0.75"/>
<circle cx="328.2" cy="783.2" r="1.7" fill="#7a65ef" stroke="#111" stroke-width="0.75"/>
<circle cx="365" cy="783.2" r="3" fill="#1a10ff" stroke="#111" stroke-width="0.75"/>
<rect x="306.7" y="597" width="116.9" height="192.5" fill="none" stroke="#555" stroke-width="0.9"/>
<line x1="305.1" y1="603.4" x2="306.7" y2="603.4" stroke="#555" stroke-width="0.8"/>
<text x="303.2" y="606" font-size="7.4" text-anchor="end" fill="#222" stroke="#222" stroke-width="0.133">P-16</text>
<line x1="305.1" y1="614.637" x2="306.7" y2="614.637" stroke="#555" stroke-width="0.8"/>
<text x="303.2" y="617.237" font-size="7.4" text-anchor="end" fill="#222" stroke="#222" stroke-width="0.133">P-15</text>
<line x1="305.1" y1="625.875" x2="306.7" y2="625.875" stroke="#555" stroke-width="0.8"/>
<text x="303.2" y="628.475" font-size="7.4" text-anchor="end" fill="#222" stroke="#222" stroke-width="0.133">P-14</text>
<line x1="305.1" y1="637.112" x2="306.7" y2="637.112" stroke="#555" stroke-width="0.8"/>
<text x="303.2" y="639.712" font-size="7.4" text-anchor="end" fill="#222" stroke="#222" stroke-width="0.133">P-13</text>
<line x1="305.1" y1="648.35" x2="306.7" y2="648.35" stroke="#555" stroke-width="0.8"/>
<text x="303.2" y="650.95" font-size="7.4" text-anchor="end" fill="#222" stroke="#222" stroke-width="0.133">P-12</text>
<line x1="305.1" y1="659.587" x2="306.7" y2="659.587" stroke="#555" stroke-width="0.8"/>
<text x="303.2" y="662.188" font-size="7.4" text-anchor="end" fill="#222" stroke="#222" stroke-width="0.133">P-11</text>
<line x1="305.1" y1="670.825" x2="306.7" y2="670.825" stroke="#555" stroke-width="0.8"/>
<text x="303.2" y="673.425" font-size="7.4" text-anchor="end" fill="#222" stroke="#222" stroke-width="0.133">P-10</text>
<line x1="305.1" y1="682.062" x2="306.7" y2="682.062" stroke="#555" stroke-width="0.8"/>
<text x="303.2" y="684.663" font-size="7.4" text-anchor="end" fill="#222" stroke="#222" stroke-width="0.133">P-9</text>
<line x1="305.1" y1="693.3" x2="306.7" y2="693.3" stroke="#555" stroke-width="0.8"/>
<text x="303.2" y="695.9" font-size="7.4" text-anchor="end" fill="#222" stroke="#222" stroke-width="0.133">P-8</text>
<line x1="305.1" y1="704.538" x2="306.7" y2="704.538" stroke="#555" stroke-width="0.8"/>
<text x="303.2" y="707.138" font-size="7.4" text-anchor="end" fill="#222" stroke="#222" stroke-width="0.133">P-7</text>
<line x1="305.1" y1="715.775" x2="306.7" y2="715.775" stroke="#555" stroke-width="0.8"/>
<text x="303.2" y="718.375" font-size="7.4" text-anchor="end" fill="#222" stroke="#222" stroke-width="0.133">P-6</text>
<line x1="305.1" y1="727.013" x2="306.7" y2="727.013" stroke="#555" stroke-width="0.8"/>
<text x="303.2" y="729.613" font-size="7.4" text-anchor="end" fill="#222" stroke="#222" stroke-width="0.133">P-5</text>
<line x1="305.1" y1="738.25" x2="306.7" y2="738.25" stroke="#555" stroke-width="0.8"/>
<text x="303.2" y="740.85" font-size="7.4" text-anchor="end" fill="#222" stroke="#222" stroke-width="0.133">P-4</text>
<line x1="305.1" y1="749.488" x2="306.7" y2="749.488" stroke="#555" stroke-width="0.8"/>
<text x="303.2" y="752.088" font-size="7.4" text-anchor="end" fill="#222" stroke="#222" stroke-width="0.133">P-3</text>
<line x1="305.1" y1="760.725" x2="306.7" y2="760.725" stroke="#555" stroke-width="0.8"/>
<text x="303.2" y="763.325" font-size="7.4" text-anchor="end" fill="#222" stroke="#222" stroke-width="0.133">P-2</text>
<line x1="305.1" y1="771.963" x2="306.7" y2="771.963" stroke="#555" stroke-width="0.8"/>
<text x="303.2" y="774.563" font-size="7.4" text-anchor="end" fill="#222" stroke="#222" stroke-width="0.133">P-1</text>
<line x1="305.1" y1="783.2" x2="306.7" y2="783.2" stroke="#555" stroke-width="0.8"/>
<text x="303.2" y="785.8" font-size="7.4" text-anchor="end" fill="#222" stroke="#222" stroke-width="0.133">P-0</text>
<line x1="328.2" y1="789.5" x2="328.2" y2="791.3" stroke="#555" stroke-width="0.8"/>
<line x1="365" y1="789.5" x2="365" y2="791.3" stroke="#555" stroke-width="0.8"/>
<line x1="401.6" y1="789.5" x2="401.6" y2="791.3" stroke="#555" stroke-width="0.8"/>
<rect x="285.8" y="608.8" width="141.6" height="12.6" fill="none" stroke="#a95fd4" stroke-width="1.1" stroke-dasharray="1.1,1.1"/>
<text transform="translate(279.6,690.8) rotate(-90)" font-size="9.6" text-anchor="middle" fill="#111" stroke="#111" stroke-width="0.16">Gene Program</text>
<text transform="translate(334,796.5) rotate(-45)" font-size="9.8" text-anchor="end" fill="#111" stroke="#111" stroke-width="0.16">OCI-AML2</text>
<text transform="translate(370.8,796.5) rotate(-45)" font-size="9.8" text-anchor="end" fill="#111" stroke="#111" stroke-width="0.16">MOLM13</text>
<text transform="translate(407.4,796.5) rotate(-45)" font-size="9.8" text-anchor="end" fill="#111" stroke="#111" stroke-width="0.16">MV411</text>
<text x="426.1" y="639.2" font-size="7.2" text-anchor="start" fill="#111" stroke="#111" stroke-width="0.13" font-weight="bold">&#8722;log10(FDR)</text>
<circle cx="439.5" cy="648" r="3.3" fill="none" stroke="#444" stroke-width="0.7"/>
<text x="446.8" y="650.6" font-size="7.4" text-anchor="start" fill="#111" stroke="#111" stroke-width="0.133">2</text>
<circle cx="439.5" cy="658.1" r="4.1" fill="none" stroke="#444" stroke-width="0.7"/>
<text x="446.8" y="660.7" font-size="7.4" text-anchor="start" fill="#111" stroke="#111" stroke-width="0.133">4</text>
<circle cx="439.5" cy="670.2" r="5.1" fill="none" stroke="#444" stroke-width="0.7"/>
<text x="446.8" y="672.8" font-size="7.4" text-anchor="start" fill="#111" stroke="#111" stroke-width="0.133">6</text>
<circle cx="439.5" cy="684.3" r="5.9" fill="none" stroke="#444" stroke-width="0.7"/>
<text x="446.8" y="686.9" font-size="7.4" text-anchor="start" fill="#111" stroke="#111" stroke-width="0.133">8</text>
<circle cx="439.5" cy="700.7" r="6.6" fill="none" stroke="#444" stroke-width="0.7"/>
<text x="446.8" y="703.3" font-size="7.4" text-anchor="start" fill="#111" stroke="#111" stroke-width="0.133">10</text>
<text x="425.7" y="728" font-size="7.4" text-anchor="start" fill="#111" stroke="#111" stroke-width="0.133" font-weight="bold">NES</text>
<defs><linearGradient id="nes425" x1="0" y1="0" x2="0" y2="1"><stop offset="0" stop-color="#f21f1f"/><stop offset="0.25" stop-color="#f98a7a"/><stop offset="0.5" stop-color="#ffffff"/><stop offset="0.75" stop-color="#a99cf7"/><stop offset="1" stop-color="#2222f2"/></linearGradient></defs>
<rect x="425.1" y="734.8" width="8.8" height="51.9" fill="url(#nes425)" stroke="none" stroke-width="1"/>
<text x="436" y="737.4" font-size="7.4" text-anchor="start" fill="#111" stroke="#111" stroke-width="0.133">2</text>
<text x="436" y="750.375" font-size="7.4" text-anchor="start" fill="#111" stroke="#111" stroke-width="0.133">1</text>
<text x="436" y="763.35" font-size="7.4" text-anchor="start" fill="#111" stroke="#111" stroke-width="0.133">0</text>
<text x="436" y="776.325" font-size="7.4" text-anchor="start" fill="#111" stroke="#111" stroke-width="0.133">&#8722;1</text>
<text x="436" y="789.3" font-size="7.4" text-anchor="start" fill="#111" stroke="#111" stroke-width="0.133">&#8722;2</text>
<text x="477.8" y="597.5" font-size="12" text-anchor="start" fill="#222" stroke="#222" stroke-width="0.16">L</text>
<text x="573.3" y="593.7" font-size="9.3" text-anchor="middle" fill="#111" stroke="#111" stroke-width="0.16">sgPCGF1+VTP50469</text>
<line x1="513.4" y1="602.4" x2="633.2" y2="602.4" stroke="#d9d9d9" stroke-width="1"/>
<line x1="513.4" y1="613.881" x2="633.2" y2="613.881" stroke="#d9d9d9" stroke-width="1"/>
<line x1="513.4" y1="625.362" x2="633.2" y2="625.362" stroke="#d9d9d9" stroke-width="1"/>
<line x1="513.4" y1="636.844" x2="633.2" y2="636.844" stroke="#d9d9d9" stroke-width="1"/>
<line x1="513.4" y1="648.325" x2="633.2" y2="648.325" stroke="#d9d9d9" stroke-width="1"/>
<line x1="513.4" y1="659.806" x2="633.2" y2="659.806" stroke="#d9d9d9" stroke-width="1"/>
<line x1="513.4" y1="671.288" x2="633.2" y2="671.288" stroke="#d9d9d9" stroke-width="1"/>
<line x1="513.4" y1="682.769" x2="633.2" y2="682.769" stroke="#d9d9d9" stroke-width="1"/>
<line x1="513.4" y1="694.25" x2="633.2" y2="694.25" stroke="#d9d9d9" stroke-width="1"/>
<line x1="513.4" y1="705.731" x2="633.2" y2="705.731" stroke="#d9d9d9" stroke-width="1"/>
<line x1="513.4" y1="717.212" x2="633.2" y2="717.212" stroke="#d9d9d9" stroke-width="1"/>
<line x1="513.4" y1="728.694" x2="633.2" y2="728.694" stroke="#d9d9d9" stroke-width="1"/>
<line x1="513.4" y1="740.175" x2="633.2" y2="740.175" stroke="#d9d9d9" stroke-width="1"/>
<line x1="513.4" y1="751.656" x2="633.2" y2="751.656" stroke="#d9d9d9" stroke-width="1"/>
<line x1="513.4" y1="763.138" x2="633.2" y2="763.138" stroke="#d9d9d9" stroke-width="1"/>
<line x1="513.4" y1="774.619" x2="633.2" y2="774.619" stroke="#d9d9d9" stroke-width="1"/>
<line x1="513.4" y1="786.1" x2="633.2" y2="786.1" stroke="#d9d9d9" stroke-width="1"/>
<line x1="535.8" y1="595.5" x2="535.8" y2="793.2" stroke="#c4c4c4" stroke-width="0.8"/>
<line x1="573.2" y1="595.5" x2="573.2" y2="793.2" stroke="#c4c4c4" stroke-width="0.8"/>
<line x1="610.8" y1="595.5" x2="610.8" y2="793.2" stroke="#c4c4c4" stroke-width="0.8"/>
<circle cx="535.8" cy="602.4" r="1.6" fill="#fff" stroke="none" stroke-width="1"/>
<circle cx="535.8" cy="602.4" r="0.55" fill="#f7906e" stroke="none" stroke-width="1"/>
<circle cx="610.8" cy="602.4" r="1.6" fill="#fff" stroke="none" stroke-width="1"/>
<circle cx="610.8" cy="602.4" r="0.55" fill="#9d8cf5" stroke="none" stroke-width="1"/>
<circle cx="610.8" cy="636.844" r="1.6" fill="#fff" stroke="none" stroke-width="1"/>
<circle cx="610.8" cy="636.844" r="0.55" fill="#f6c0b0" stroke="none" stroke-width="1"/>
<circle cx="535.8" cy="648.325" r="1.6" fill="#fff" stroke="none" stroke-width="1"/>
<circle cx="535.8" cy="648.325" r="0.55" fill="#f7906e" stroke="none" stroke-width="1"/>
<circle cx="610.8" cy="648.325" r="1.6" fill="#fff" stroke="none" stroke-width="1"/>
<circle cx="535.8" cy="659.806" r="1.6" fill="#fff" stroke="none" stroke-width="1"/>
<circle cx="535.8" cy="659.806" r="0.55" fill="#f7906e" stroke="none" stroke-width="1"/>
<circle cx="610.8" cy="659.806" r="1.6" fill="#fff" stroke="none" stroke-width="1"/>
<circle cx="610.8" cy="659.806" r="0.55" fill="#f6c0b0" stroke="none" stroke-width="1"/>
<circle cx="535.8" cy="671.288" r="1.6" fill="#fff" stroke="none" stroke-width="1"/>
<circle cx="535.8" cy="671.288" r="0.55" fill="#f6c0b0" stroke="none" stroke-width="1"/>
<circle cx="610.8" cy="671.288" r="1.6" fill="#fff" stroke="none" stroke-width="1"/>
<circle cx="535.8" cy="682.769" r="1.6" fill="#fff" stroke="none" stroke-width="1"/>
<circle cx="535.8" cy="682.769" r="0.55" fill="#f6c0b0" stroke="none" stroke-width="1"/>
<circle cx="610.8" cy="682.769" r="1.6" fill="#fff" stroke="none" stroke-width="1"/>
<circle cx="535.8" cy="694.25" r="1.6" fill="#fff" stroke="none" stroke-width="1"/>
<circle cx="573.2" cy="694.25" r="1.6" fill="#fff" stroke="none" stroke-width="1"/>
<circle cx="573.2" cy="694.25" r="0.55" fill="#f6c0b0" stroke="none" stroke-width="1"/>
<circle cx="610.8" cy="694.25" r="1.6" fill="#fff" stroke="none" stroke-width="1"/>
<circle cx="535.8" cy="705.731" r="1.6" fill="#fff" stroke="none" stroke-width="1"/>
<circle cx="535.8" cy="705.731" r="0.55" fill="#f7906e" stroke="none" stroke-width="1"/>
<circle cx="610.8" cy="705.731" r="1.6" fill="#fff" stroke="none" stroke-width="1"/>
<circle cx="535.8" cy="717.212" r="1.6" fill="#fff" stroke="none" stroke-width="1"/>
<circle cx="535.8" cy="717.212" r="0.55" fill="#f6c0b0" stroke="none" stroke-width="1"/>
<circle cx="610.8" cy="717.212" r="1.6" fill="#fff" stroke="none" stroke-width="1"/>
<circle cx="610.8" cy="728.694" r="1.6" fill="#fff" stroke="none" stroke-width="1"/>
<circle cx="610.8" cy="740.175" r="1.6" fill="#fff" stroke="none" stroke-width="1"/>
<circle cx="610.8" cy="740.175" r="0.55" fill="#f6c0b0" stroke="none" stroke-width="1"/>
<circle cx="610.8" cy="751.656" r="1.6" fill="#fff" stroke="none" stroke-width="1"/>
<circle cx="610.8" cy="763.138" r="1.6" fill="#fff" stroke="none" stroke-width="1"/>
<circle cx="535.8" cy="786.1" r="1.6" fill="#fff" stroke="none" stroke-width="1"/>
<circle cx="535.8" cy="786.1" r="0.55" fill="#f7906e" stroke="none" stroke-width="1"/>
<circle cx="610.8" cy="786.1" r="1.6" fill="#fff" stroke="none" stroke-width="1"/>
<circle cx="610.8" cy="786.1" r="0.55" fill="#9d8cf5" stroke="none" stroke-width="1"/>
<circle cx="573.2" cy="602.4" r="1.8" fill="#6a50f0" stroke="#111" stroke-width="0.75"/>
<circle cx="535.8" cy="613.881" r="2.6" fill="#6a50f0" stroke="#111" stroke-width="0.75"/>
<circle cx="573.2" cy="613.881" r="1.8" fill="#7a60f0" stroke="#111" stroke-width="0.75"/>
<circle cx="610.8" cy="613.881" r="1.6" fill="#7a62ee" stroke="#111" stroke-width="0.75"/>
<circle cx="535.8" cy="625.362" r="2.5" fill="#2a1af8" stroke="#111" stroke-width="0.75"/>
<circle cx="573.2" cy="625.362" r="1.4" fill="#7a62ee" stroke="#111" stroke-width="0.75"/>
<circle cx="610.8" cy="625.362" r="1.9" fill="#5a45f2" stroke="#111" stroke-width="0.75"/>
<circle cx="535.8" cy="636.844" r="2" fill="#7a60ee" stroke="#111" stroke-width="0.75"/>
<circle cx="573.2" cy="636.844" r="1.5" fill="#7a62ee" stroke="#111" stroke-width="0.75"/>
<circle cx="573.2" cy="648.325" r="2.2" fill="#5a45f2" stroke="#111" stroke-width="0.75"/>
<circle cx="573.2" cy="659.806" r="2" fill="#5f4af2" stroke="#111" stroke-width="0.75"/>
<circle cx="573.2" cy="671.288" r="2.6" fill="#4a35f5" stroke="#111" stroke-width="0.75"/>
<circle cx="573.2" cy="682.769" r="1.7" fill="#6a55f0" stroke="#111" stroke-width="0.75"/>
<circle cx="573.2" cy="705.731" r="2" fill="#6a55f0" stroke="#111" stroke-width="0.75"/>
<circle cx="573.2" cy="717.212" r="2.2" fill="#5f4af2" stroke="#111" stroke-width="0.75"/>
<circle cx="535.8" cy="728.694" r="2" fill="#ee5a3a" stroke="#111" stroke-width="0.75"/>
<circle cx="573.2" cy="728.694" r="2.2" fill="#6550f0" stroke="#111" stroke-width="0.75"/>
<circle cx="535.8" cy="740.175" r="2.3" fill="#ee4a2a" stroke="#111" stroke-width="0.75"/>
<circle cx="573.2" cy="740.175" r="2.3" fill="#5a45f2" stroke="#111" stroke-width="0.75"/>
<circle cx="535.8" cy="751.656" r="1.5" fill="#f07050" stroke="#111" stroke-width="0.75"/>
<circle cx="573.2" cy="751.656" r="3" fill="#2a18fa" stroke="#111" stroke-width="0.75"/>
<circle cx="535.8" cy="763.138" r="1.6" fill="#ee7050" stroke="#111" stroke-width="0.75"/>
<circle cx="573.2" cy="763.138" r="2.8" fill="#3a28f5" stroke="#111" stroke-width="0.75"/>
<circle cx="535.8" cy="774.619" r="1.8" fill="#7a60ee" stroke="#111" stroke-width="0.75"/>
<circle cx="573.2" cy="774.619" r="3.4" fill="#1a10ff" stroke="#111" stroke-width="0.75"/>
<circle cx="610.8" cy="774.619" r="2.2" fill="#6a52f0" stroke="#111" stroke-width="0.75"/>
<circle cx="573.2" cy="786.1" r="3.2" fill="#1010ff" stroke="#111" stroke-width="0.75"/>
<rect x="513.4" y="595.5" width="119.8" height="197.7" fill="none" stroke="#555" stroke-width="0.9"/>
<line x1="511.8" y1="602.4" x2="513.4" y2="602.4" stroke="#555" stroke-width="0.8"/>
<text x="510.8" y="605" font-size="7.4" text-anchor="end" fill="#222" stroke="#222" stroke-width="0.133">P&#8722;16</text>
<line x1="511.8" y1="613.881" x2="513.4" y2="613.881" stroke="#555" stroke-width="0.8"/>
<text x="510.8" y="616.481" font-size="7.4" text-anchor="end" fill="#222" stroke="#222" stroke-width="0.133">P&#8722;15</text>
<line x1="511.8" y1="625.362" x2="513.4" y2="625.362" stroke="#555" stroke-width="0.8"/>
<text x="510.8" y="627.962" font-size="7.4" text-anchor="end" fill="#222" stroke="#222" stroke-width="0.133">P&#8722;14</text>
<line x1="511.8" y1="636.844" x2="513.4" y2="636.844" stroke="#555" stroke-width="0.8"/>
<text x="510.8" y="639.444" font-size="7.4" text-anchor="end" fill="#222" stroke="#222" stroke-width="0.133">P&#8722;13</text>
<line x1="511.8" y1="648.325" x2="513.4" y2="648.325" stroke="#555" stroke-width="0.8"/>
<text x="510.8" y="650.925" font-size="7.4" text-anchor="end" fill="#222" stroke="#222" stroke-width="0.133">P&#8722;12</text>
<line x1="511.8" y1="659.806" x2="513.4" y2="659.806" stroke="#555" stroke-width="0.8"/>
<text x="510.8" y="662.406" font-size="7.4" text-anchor="end" fill="#222" stroke="#222" stroke-width="0.133">P&#8722;11</text>
<line x1="511.8" y1="671.288" x2="513.4" y2="671.288" stroke="#555" stroke-width="0.8"/>
<text x="510.8" y="673.888" font-size="7.4" text-anchor="end" fill="#222" stroke="#222" stroke-width="0.133">P&#8722;10</text>
<line x1="511.8" y1="682.769" x2="513.4" y2="682.769" stroke="#555" stroke-width="0.8"/>
<text x="510.8" y="685.369" font-size="7.4" text-anchor="end" fill="#222" stroke="#222" stroke-width="0.133">P&#8722;9</text>
<line x1="511.8" y1="694.25" x2="513.4" y2="694.25" stroke="#555" stroke-width="0.8"/>
<text x="510.8" y="696.85" font-size="7.4" text-anchor="end" fill="#222" stroke="#222" stroke-width="0.133">P&#8722;8</text>
<line x1="511.8" y1="705.731" x2="513.4" y2="705.731" stroke="#555" stroke-width="0.8"/>
<text x="510.8" y="708.331" font-size="7.4" text-anchor="end" fill="#222" stroke="#222" stroke-width="0.133">P&#8722;7</text>
<line x1="511.8" y1="717.212" x2="513.4" y2="717.212" stroke="#555" stroke-width="0.8"/>
<text x="510.8" y="719.812" font-size="7.4" text-anchor="end" fill="#222" stroke="#222" stroke-width="0.133">P&#8722;6</text>
<line x1="511.8" y1="728.694" x2="513.4" y2="728.694" stroke="#555" stroke-width="0.8"/>
<text x="510.8" y="731.294" font-size="7.4" text-anchor="end" fill="#222" stroke="#222" stroke-width="0.133">P&#8722;5</text>
<line x1="511.8" y1="740.175" x2="513.4" y2="740.175" stroke="#555" stroke-width="0.8"/>
<text x="510.8" y="742.775" font-size="7.4" text-anchor="end" fill="#222" stroke="#222" stroke-width="0.133">P&#8722;4</text>
<line x1="511.8" y1="751.656" x2="513.4" y2="751.656" stroke="#555" stroke-width="0.8"/>
<text x="510.8" y="754.256" font-size="7.4" text-anchor="end" fill="#222" stroke="#222" stroke-width="0.133">P&#8722;3</text>
<line x1="511.8" y1="763.138" x2="513.4" y2="763.138" stroke="#555" stroke-width="0.8"/>
<text x="510.8" y="765.738" font-size="7.4" text-anchor="end" fill="#222" stroke="#222" stroke-width="0.133">P&#8722;2</text>
<line x1="511.8" y1="774.619" x2="513.4" y2="774.619" stroke="#555" stroke-width="0.8"/>
<text x="510.8" y="777.219" font-size="7.4" text-anchor="end" fill="#222" stroke="#222" stroke-width="0.133">P&#8722;1</text>
<line x1="511.8" y1="786.1" x2="513.4" y2="786.1" stroke="#555" stroke-width="0.8"/>
<text x="510.8" y="788.7" font-size="7.4" text-anchor="end" fill="#222" stroke="#222" stroke-width="0.133">P&#8722;0</text>
<line x1="535.8" y1="793.2" x2="535.8" y2="795" stroke="#555" stroke-width="0.8"/>
<line x1="573.2" y1="793.2" x2="573.2" y2="795" stroke="#555" stroke-width="0.8"/>
<line x1="610.8" y1="793.2" x2="610.8" y2="795" stroke="#555" stroke-width="0.8"/>
<rect x="491.5" y="608.8" width="145" height="12.4" fill="none" stroke="#a95fd4" stroke-width="1.1" stroke-dasharray="1.1,1.1"/>
<text transform="translate(486.4,693) rotate(-90)" font-size="9.6" text-anchor="middle" fill="#111" stroke="#111" stroke-width="0.16">Gene Program</text>
<text transform="translate(542.5,797.5) rotate(-45)" font-size="9.8" text-anchor="end" fill="#111" stroke="#111" stroke-width="0.16">OCI-AML2</text>
<text transform="translate(579,797.5) rotate(-45)" font-size="9.8" text-anchor="end" fill="#111" stroke="#111" stroke-width="0.16">MOLM13</text>
<text transform="translate(614.5,797.5) rotate(-45)" font-size="9.8" text-anchor="end" fill="#111" stroke="#111" stroke-width="0.16">MV411</text>
<text x="637.6" y="639.1" font-size="7.2" text-anchor="start" fill="#111" stroke="#111" stroke-width="0.13" font-weight="bold">&#8722;log10(FDR)</text>
<circle cx="641.9" cy="646" r="2" fill="none" stroke="#444" stroke-width="0.7"/>
<text x="645.6" y="648.6" font-size="7.4" text-anchor="start" fill="#111" stroke="#111" stroke-width="0.133">5</text>
<circle cx="641.9" cy="655.1" r="2.5" fill="none" stroke="#444" stroke-width="0.7"/>
<text x="645.6" y="657.7" font-size="7.4" text-anchor="start" fill="#111" stroke="#111" stroke-width="0.133">10</text>
<circle cx="641.9" cy="665.5" r="2.8" fill="none" stroke="#444" stroke-width="0.7"/>
<text x="645.6" y="668.1" font-size="7.4" text-anchor="start" fill="#111" stroke="#111" stroke-width="0.133">15</text>
<text x="635.4" y="728.3" font-size="7.4" text-anchor="start" fill="#111" stroke="#111" stroke-width="0.133" font-weight="bold">NES</text>
<defs><linearGradient id="nes635" x1="0" y1="0" x2="0" y2="1"><stop offset="0" stop-color="#f21f1f"/><stop offset="0.25" stop-color="#f98a7a"/><stop offset="0.5" stop-color="#ffffff"/><stop offset="0.75" stop-color="#a99cf7"/><stop offset="1" stop-color="#2222f2"/></linearGradient></defs>
<rect x="635.4" y="734.8" width="8.7" height="51.9" fill="url(#nes635)" stroke="none" stroke-width="1"/>
<text x="645.6" y="737.4" font-size="7.4" text-anchor="start" fill="#111" stroke="#111" stroke-width="0.133">2</text>
<text x="645.6" y="750.375" font-size="7.4" text-anchor="start" fill="#111" stroke="#111" stroke-width="0.133">1</text>
<text x="645.6" y="763.35" font-size="7.4" text-anchor="start" fill="#111" stroke="#111" stroke-width="0.133">0</text>
<text x="645.6" y="776.325" font-size="7.4" text-anchor="start" fill="#111" stroke="#111" stroke-width="0.133">&#8722;1</text>
<text x="645.6" y="789.3" font-size="7.4" text-anchor="start" fill="#111" stroke="#111" stroke-width="0.133">&#8722;2</text>
</svg></body></html>
